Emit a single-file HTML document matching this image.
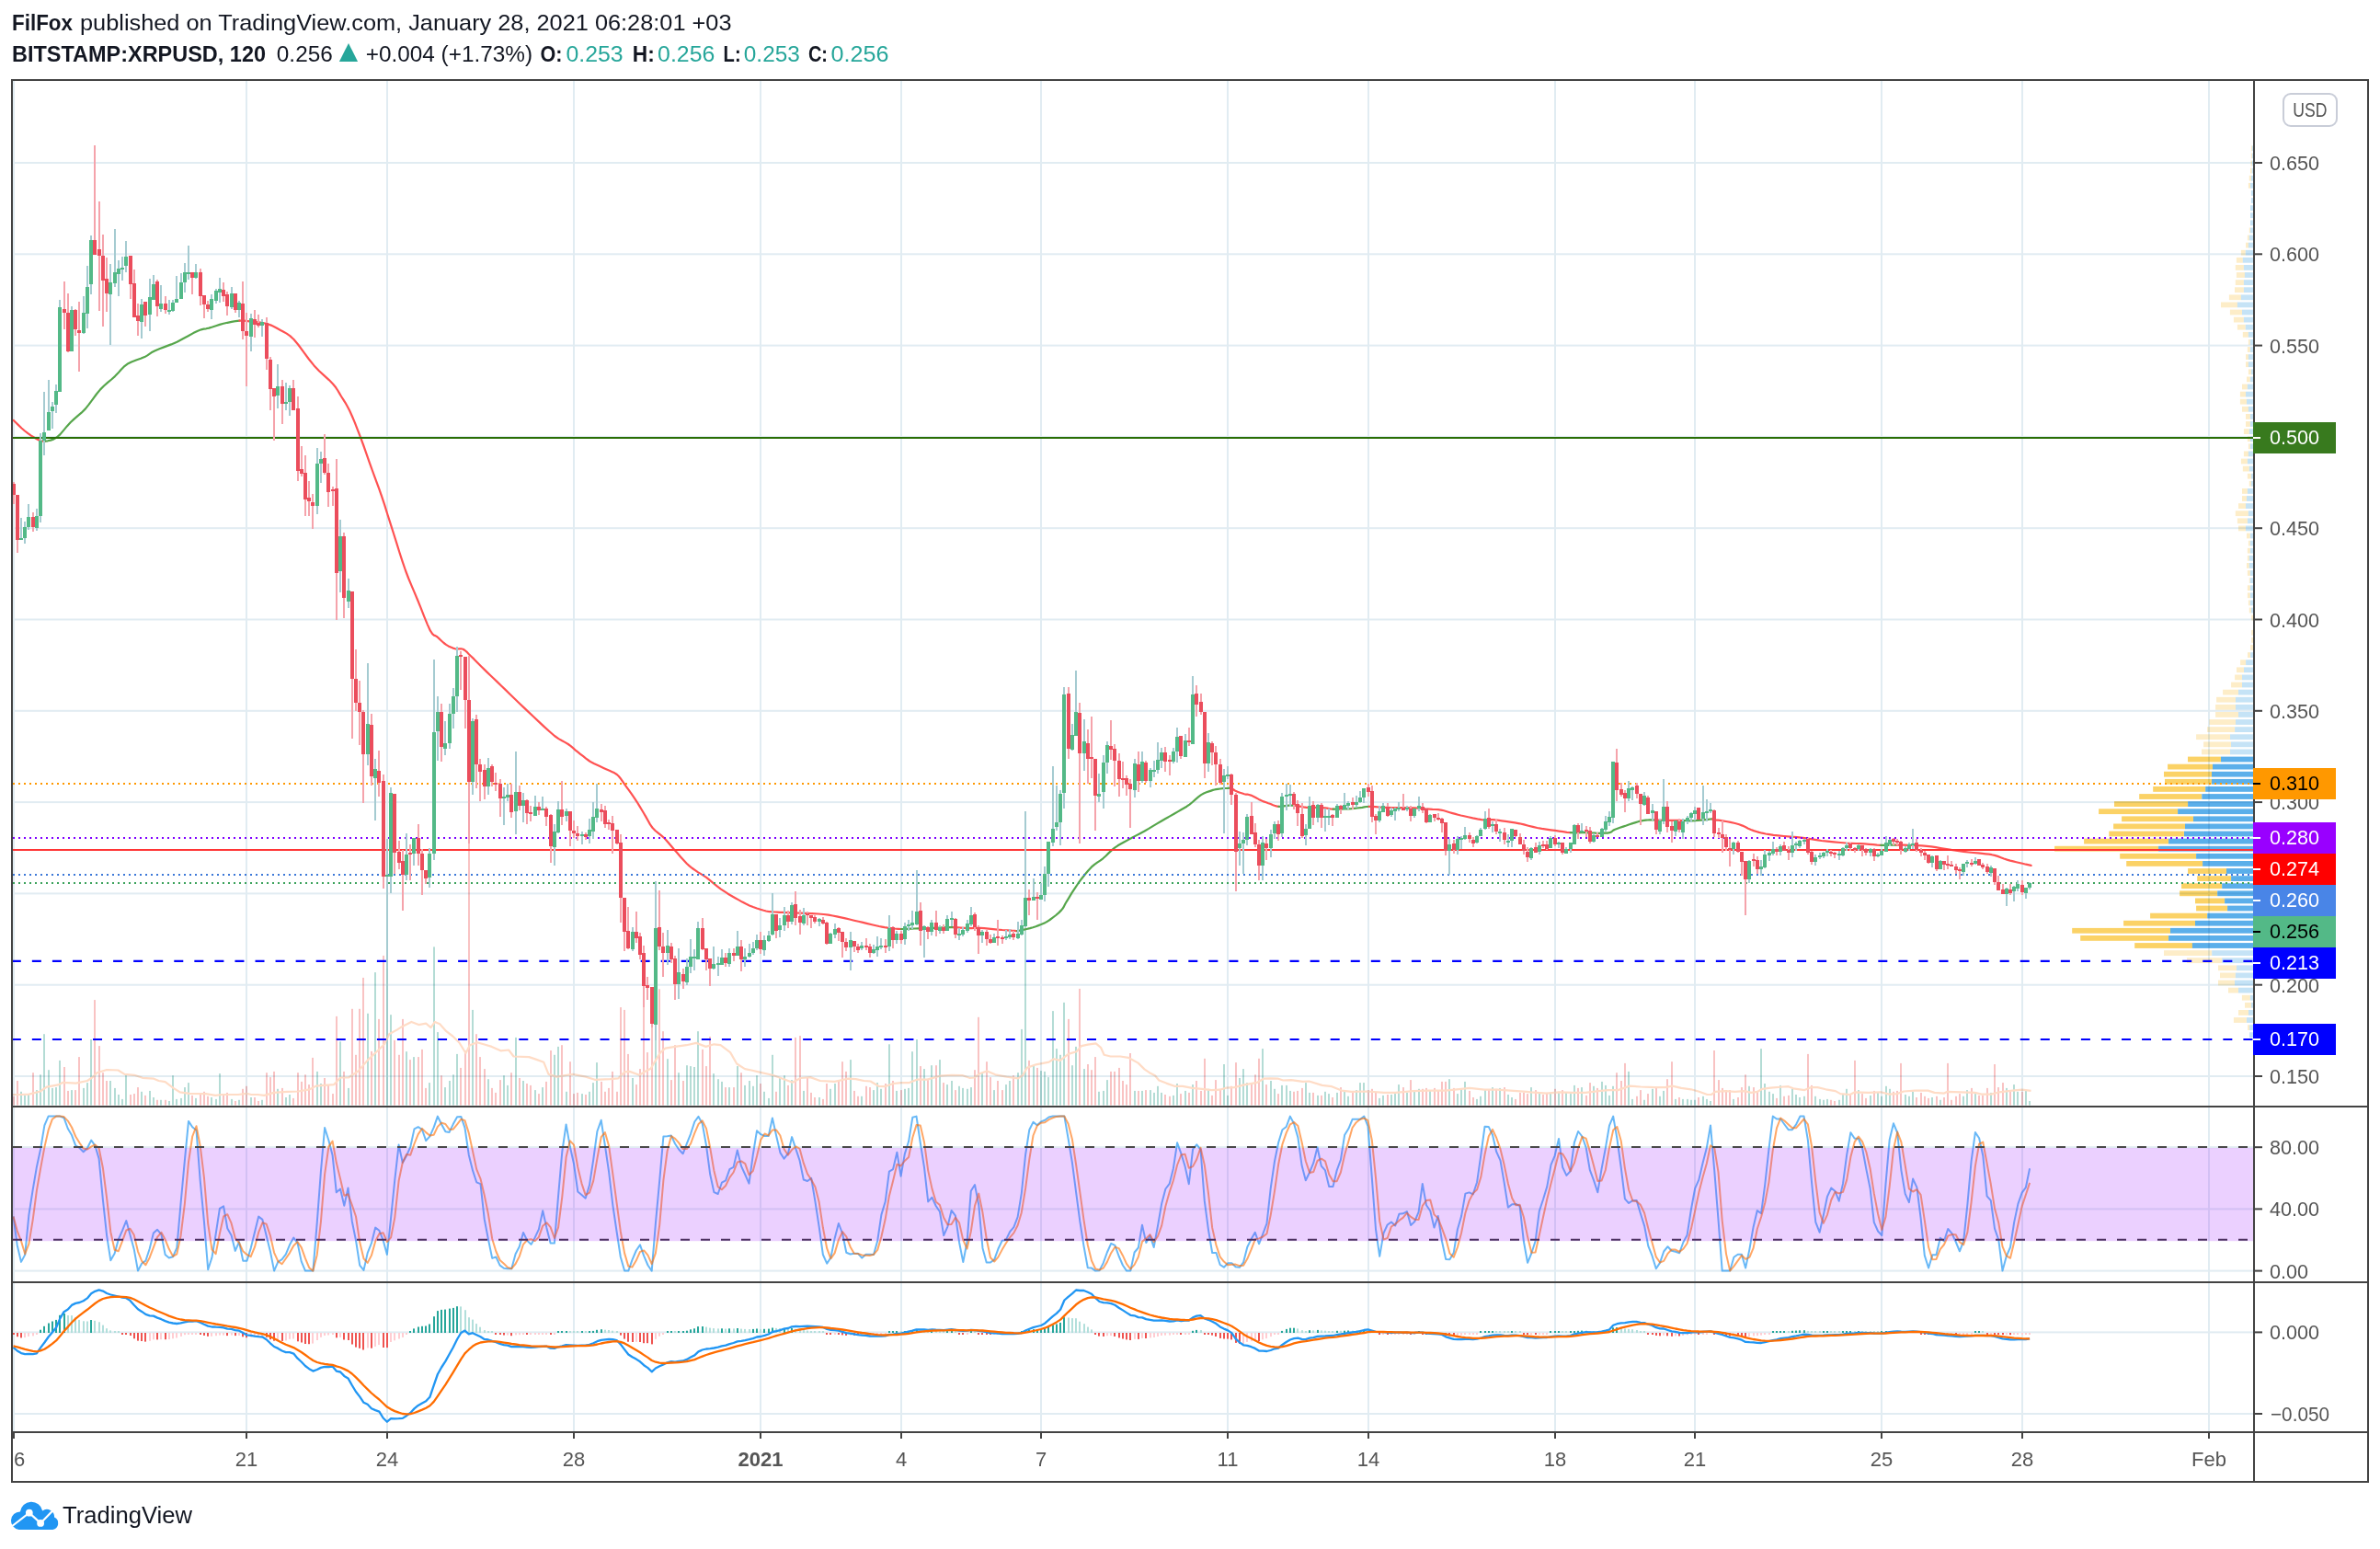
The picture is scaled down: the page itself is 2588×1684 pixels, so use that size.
<!DOCTYPE html>
<html><head><meta charset="utf-8"><title>XRPUSD chart</title><style>html,body{margin:0;padding:0;background:#fff;}svg{display:block;}text{font-family:"Liberation Sans", sans-serif;}</style></head><body><svg width="2588" height="1684" viewBox="0 0 2588 1684" font-family='"Liberation Sans", sans-serif' shape-rendering="auto"><rect x="0" y="0" width="2588" height="1684" fill="#fff"/>
<g fill="#E1ECF2"><rect x="14" y="88" width="2" height="1468" /><rect x="267" y="88" width="2" height="1468" /><rect x="420" y="88" width="2" height="1468" /><rect x="623" y="88" width="2" height="1468" /><rect x="826" y="88" width="2" height="1468" /><rect x="979" y="88" width="2" height="1468" /><rect x="1131" y="88" width="2" height="1468" /><rect x="1334" y="88" width="2" height="1468" /><rect x="1487" y="88" width="2" height="1468" /><rect x="1690" y="88" width="2" height="1468" /><rect x="1842" y="88" width="2" height="1468" /><rect x="2045" y="88" width="2" height="1468" /><rect x="2198" y="88" width="2" height="1468" /><rect x="2401" y="88" width="2" height="1468" /><rect x="14" y="176" width="2436" height="2" /><rect x="14" y="275.3" width="2436" height="2" /><rect x="14" y="374.6" width="2436" height="2" /><rect x="14" y="473.9" width="2436" height="2" /><rect x="14" y="573.2" width="2436" height="2" /><rect x="14" y="672.5" width="2436" height="2" /><rect x="14" y="771.8" width="2436" height="2" /><rect x="14" y="871.1" width="2436" height="2" /><rect x="14" y="970.4" width="2436" height="2" /><rect x="14" y="1069.7" width="2436" height="2" /><rect x="14" y="1169" width="2436" height="2" /><rect x="14" y="1246.2" width="2436" height="2" /><rect x="14" y="1313.4" width="2436" height="2" /><rect x="14" y="1380.6" width="2436" height="2" /><rect x="14" y="1447.4" width="2436" height="2" /><rect x="14" y="1536" width="2436" height="2" /></g>
<clipPath id="cpm"><rect x="14" y="88" width="2436" height="1114"/></clipPath>
<clipPath id="cps"><rect x="14" y="1204" width="2436" height="189"/></clipPath>
<clipPath id="cpd"><rect x="14" y="1395" width="2436" height="161"/></clipPath>
<g clip-path="url(#cpm)" style="mix-blend-mode:multiply">
<g fill="#FDEDC8"><rect x="2447.9" y="158.4" width="1.2" height="5.8"/><rect x="2447.9" y="166.5" width="1.2" height="5.8"/><rect x="2447.6" y="174.6" width="1.4" height="5.8"/><rect x="2447" y="182.7" width="1.7" height="5.8"/><rect x="2445.8" y="190.8" width="2.1" height="5.8"/><rect x="2444.9" y="198.9" width="2.1" height="5.8"/><rect x="2445.8" y="247.5" width="1.2" height="5.8"/><rect x="2443.9" y="255.6" width="1.9" height="5.8"/><rect x="2442" y="263.7" width="3" height="5.8"/><rect x="2436.9" y="271.8" width="4.9" height="5.8"/><rect x="2431.9" y="279.9" width="7" height="5.8"/><rect x="2430.8" y="288" width="9.1" height="5.8"/><rect x="2431.9" y="296.1" width="9.1" height="5.8"/><rect x="2430.8" y="304.2" width="9.1" height="5.8"/><rect x="2430" y="312.3" width="9.9" height="5.8"/><rect x="2423.9" y="320.4" width="13.1" height="5.8"/><rect x="2415" y="328.5" width="18" height="5.8"/><rect x="2424.9" y="336.6" width="13.1" height="5.8"/><rect x="2428.9" y="344.7" width="11" height="5.8"/><rect x="2432.9" y="352.8" width="8.9" height="5.8"/><rect x="2438.8" y="360.9" width="6.1" height="5.8"/><rect x="2444.9" y="369" width="1.9" height="5.8"/><rect x="2443.9" y="377.1" width="3" height="5.8"/><rect x="2442" y="385.2" width="3" height="5.8"/><rect x="2442" y="393.3" width="3" height="5.8"/><rect x="2444.9" y="401.4" width="3" height="5.8"/><rect x="2443" y="409.5" width="3.8" height="5.8"/><rect x="2438" y="417.6" width="5.9" height="5.8"/><rect x="2435.9" y="425.7" width="6.1" height="5.8"/><rect x="2435.9" y="433.8" width="7.1" height="5.8"/><rect x="2438" y="441.9" width="7" height="5.8"/><rect x="2442" y="450" width="4.9" height="5.8"/><rect x="2442" y="458.1" width="4.9" height="5.8"/><rect x="2439.9" y="466.2" width="5.9" height="5.8"/><rect x="2443.9" y="474.3" width="3" height="5.8"/><rect x="2444.9" y="482.4" width="1.9" height="5.8"/><rect x="2439.9" y="490.5" width="5.1" height="5.8"/><rect x="2436.9" y="498.6" width="7" height="5.8"/><rect x="2438.8" y="506.7" width="7" height="5.8"/><rect x="2443.9" y="514.8" width="4" height="5.8"/><rect x="2445.8" y="522.9" width="2.1" height="5.8"/><rect x="2438" y="531" width="5.9" height="5.8"/><rect x="2438" y="539.1" width="5.1" height="5.8"/><rect x="2434" y="547.2" width="8" height="5.8"/><rect x="2430.8" y="555.3" width="14.1" height="5.8"/><rect x="2432.9" y="563.4" width="11" height="5.8"/><rect x="2434" y="571.5" width="8" height="5.8"/><rect x="2443" y="579.6" width="3.8" height="5.8"/><rect x="2444.9" y="587.7" width="1.9" height="5.8"/><rect x="2443.9" y="595.8" width="3" height="5.8"/><rect x="2443.9" y="603.9" width="1.9" height="5.8"/><rect x="2443" y="612" width="2.8" height="5.8"/><rect x="2443.9" y="620.1" width="3" height="5.8"/><rect x="2445.8" y="628.2" width="1" height="5.8"/><rect x="2443.9" y="636.3" width="3" height="5.8"/><rect x="2443.9" y="644.4" width="3" height="5.8"/><rect x="2444.9" y="652.5" width="1.9" height="5.8"/><rect x="2445.8" y="660.6" width="2.1" height="5.8"/><rect x="2448.2" y="668.7" width="1.8" height="5.8"/><rect x="2448.2" y="684.9" width="1.8" height="5.8"/><rect x="2448.2" y="693" width="1.8" height="5.8"/><rect x="2447.1" y="701.1" width="2.9" height="5.8"/><rect x="2444" y="709.2" width="3.1" height="5.8"/><rect x="2436.1" y="717.3" width="6" height="5.8"/><rect x="2432" y="725.4" width="8" height="5.8"/><rect x="2430.1" y="733.5" width="8" height="5.8"/><rect x="2426.1" y="741.6" width="11.9" height="5.8"/><rect x="2417.1" y="749.7" width="16.9" height="5.8"/><rect x="2410.1" y="757.8" width="21" height="5.8"/><rect x="2409.1" y="765.9" width="22" height="5.8"/><rect x="2409.1" y="774" width="24.9" height="5.8"/><rect x="2402.3" y="782.1" width="28.7" height="5.8"/><rect x="2400.1" y="790.2" width="29.9" height="5.8"/><rect x="2388.1" y="798.3" width="36.9" height="5.8"/><rect x="2396.1" y="806.4" width="29.9" height="5.8"/><rect x="2394" y="814.5" width="31" height="5.8"/><rect x="2353" y="1033.2" width="52.2" height="5.8"/><rect x="2378" y="1041.3" width="38.2" height="5.8"/><rect x="2412" y="1049.4" width="20" height="5.8"/><rect x="2414" y="1057.5" width="16.9" height="5.8"/><rect x="2412" y="1065.6" width="18" height="5.8"/><rect x="2423" y="1073.7" width="11" height="5.8"/><rect x="2437.9" y="1081.8" width="9" height="5.8"/><rect x="2441" y="1089.9" width="7" height="5.8"/><rect x="2434" y="1098" width="11" height="5.8"/><rect x="2428.9" y="1106.1" width="14" height="5.8"/><rect x="2444.1" y="1114.2" width="2" height="5.8"/></g>
<g fill="#C5E3F6"><rect x="2449.1" y="158.4" width="0.9" height="5.8"/><rect x="2449.1" y="166.5" width="0.9" height="5.8"/><rect x="2449" y="174.6" width="1" height="5.8"/><rect x="2448.8" y="182.7" width="1.2" height="5.8"/><rect x="2447.9" y="190.8" width="2.1" height="5.8"/><rect x="2447" y="198.9" width="3" height="5.8"/><rect x="2447.9" y="207" width="2.1" height="5.8"/><rect x="2447.9" y="215.1" width="2.1" height="5.8"/><rect x="2447" y="223.2" width="3" height="5.8"/><rect x="2447" y="231.3" width="3" height="5.8"/><rect x="2447" y="239.4" width="3" height="5.8"/><rect x="2447" y="247.5" width="3" height="5.8"/><rect x="2445.8" y="255.6" width="4.2" height="5.8"/><rect x="2444.9" y="263.7" width="5.1" height="5.8"/><rect x="2441.8" y="271.8" width="8.2" height="5.8"/><rect x="2438.8" y="279.9" width="11.2" height="5.8"/><rect x="2439.9" y="288" width="10.1" height="5.8"/><rect x="2440.9" y="296.1" width="9.1" height="5.8"/><rect x="2439.9" y="304.2" width="10.1" height="5.8"/><rect x="2439.9" y="312.3" width="10.1" height="5.8"/><rect x="2436.9" y="320.4" width="13.1" height="5.8"/><rect x="2432.9" y="328.5" width="17.1" height="5.8"/><rect x="2438" y="336.6" width="12" height="5.8"/><rect x="2439.9" y="344.7" width="10.1" height="5.8"/><rect x="2441.8" y="352.8" width="8.2" height="5.8"/><rect x="2444.9" y="360.9" width="5.1" height="5.8"/><rect x="2446.9" y="369" width="3.1" height="5.8"/><rect x="2446.9" y="377.1" width="3.1" height="5.8"/><rect x="2444.9" y="385.2" width="5.1" height="5.8"/><rect x="2444.9" y="393.3" width="5.1" height="5.8"/><rect x="2447.9" y="401.4" width="2.1" height="5.8"/><rect x="2446.9" y="409.5" width="3.1" height="5.8"/><rect x="2443.9" y="417.6" width="6.1" height="5.8"/><rect x="2442" y="425.7" width="8" height="5.8"/><rect x="2443" y="433.8" width="7" height="5.8"/><rect x="2444.9" y="441.9" width="5.1" height="5.8"/><rect x="2446.9" y="450" width="3.1" height="5.8"/><rect x="2446.9" y="458.1" width="3.1" height="5.8"/><rect x="2445.8" y="466.2" width="4.2" height="5.8"/><rect x="2446.9" y="474.3" width="3.1" height="5.8"/><rect x="2446.9" y="482.4" width="3.1" height="5.8"/><rect x="2444.9" y="490.5" width="5.1" height="5.8"/><rect x="2443.9" y="498.6" width="6.1" height="5.8"/><rect x="2445.8" y="506.7" width="4.2" height="5.8"/><rect x="2447.9" y="514.8" width="2.1" height="5.8"/><rect x="2447.9" y="522.9" width="2.1" height="5.8"/><rect x="2443.9" y="531" width="6.1" height="5.8"/><rect x="2443" y="539.1" width="7" height="5.8"/><rect x="2442" y="547.2" width="8" height="5.8"/><rect x="2444.9" y="555.3" width="5.1" height="5.8"/><rect x="2443.9" y="563.4" width="6.1" height="5.8"/><rect x="2442" y="571.5" width="8" height="5.8"/><rect x="2446.9" y="579.6" width="3.1" height="5.8"/><rect x="2446.9" y="587.7" width="3.1" height="5.8"/><rect x="2446.9" y="595.8" width="3.1" height="5.8"/><rect x="2445.8" y="603.9" width="4.2" height="5.8"/><rect x="2445.8" y="612" width="4.2" height="5.8"/><rect x="2446.9" y="620.1" width="3.1" height="5.8"/><rect x="2446.9" y="628.2" width="3.1" height="5.8"/><rect x="2446.9" y="636.3" width="3.1" height="5.8"/><rect x="2446.9" y="644.4" width="3.1" height="5.8"/><rect x="2446.9" y="652.5" width="3.1" height="5.8"/><rect x="2447.9" y="660.6" width="2.1" height="5.8"/><rect x="2447.1" y="709.2" width="2.9" height="5.8"/><rect x="2442.1" y="717.3" width="7.9" height="5.8"/><rect x="2440" y="725.4" width="10" height="5.8"/><rect x="2438" y="733.5" width="12" height="5.8"/><rect x="2438" y="741.6" width="12" height="5.8"/><rect x="2434" y="749.7" width="16" height="5.8"/><rect x="2431" y="757.8" width="19" height="5.8"/><rect x="2431" y="765.9" width="19" height="5.8"/><rect x="2434" y="774" width="16" height="5.8"/><rect x="2431" y="782.1" width="19" height="5.8"/><rect x="2430.1" y="790.2" width="19.9" height="5.8"/><rect x="2425" y="798.3" width="25" height="5.8"/><rect x="2426" y="806.4" width="24" height="5.8"/><rect x="2425" y="814.5" width="25" height="5.8"/><rect x="2405.2" y="1033.2" width="44.8" height="5.8"/><rect x="2416.2" y="1041.3" width="33.8" height="5.8"/><rect x="2432" y="1049.4" width="18" height="5.8"/><rect x="2430.9" y="1057.5" width="19.1" height="5.8"/><rect x="2430" y="1065.6" width="20" height="5.8"/><rect x="2434" y="1073.7" width="16" height="5.8"/><rect x="2446.9" y="1081.8" width="3.1" height="5.8"/><rect x="2448" y="1089.9" width="2" height="5.8"/><rect x="2445" y="1098" width="5" height="5.8"/><rect x="2443" y="1106.1" width="7" height="5.8"/><rect x="2446.1" y="1114.2" width="3.9" height="5.8"/><rect x="2446.1" y="1122.3" width="3.9" height="5.8"/></g>
<g fill="#FBD266"><rect x="2379" y="822.6" width="36" height="5.8"/><rect x="2357.1" y="830.7" width="49" height="5.8"/><rect x="2353" y="838.8" width="52" height="5.8"/><rect x="2354" y="846.9" width="51" height="5.8"/><rect x="2341.2" y="855" width="57.1" height="5.8"/><rect x="2326.2" y="863.1" width="68" height="5.8"/><rect x="2299" y="871.2" width="80.1" height="5.8"/><rect x="2282.1" y="879.3" width="86" height="5.8"/><rect x="2307.1" y="887.4" width="77.9" height="5.8"/><rect x="2298.1" y="895.5" width="77.9" height="5.8"/><rect x="2293.3" y="903.6" width="81.6" height="5.8"/><rect x="2266.1" y="911.7" width="91.9" height="5.8"/><rect x="2234.1" y="919.8" width="113" height="5.8"/><rect x="2305.2" y="927.9" width="82.9" height="5.8"/><rect x="2312.2" y="936" width="82.9" height="5.8"/><rect x="2379.1" y="944.1" width="41.9" height="5.8"/><rect x="2389.2" y="952.2" width="36.9" height="5.8"/><rect x="2372.1" y="960.3" width="44.1" height="5.8"/><rect x="2370.1" y="968.4" width="41" height="5.8"/><rect x="2387" y="976.5" width="32" height="5.8"/><rect x="2388.1" y="984.6" width="34" height="5.8"/><rect x="2338.1" y="992.7" width="62.1" height="5.8"/><rect x="2309.1" y="1000.8" width="77.9" height="5.8"/><rect x="2253.2" y="1008.9" width="106.9" height="5.8"/><rect x="2262.2" y="1017" width="95.9" height="5.8"/><rect x="2321.2" y="1025.1" width="62.8" height="5.8"/></g>
<g fill="#5BAFEA"><rect x="2415" y="822.6" width="35" height="5.8"/><rect x="2406" y="830.7" width="44" height="5.8"/><rect x="2405" y="838.8" width="45" height="5.8"/><rect x="2405" y="846.9" width="45" height="5.8"/><rect x="2398.2" y="855" width="51.8" height="5.8"/><rect x="2394.3" y="863.1" width="55.7" height="5.8"/><rect x="2379.1" y="871.2" width="70.9" height="5.8"/><rect x="2368.1" y="879.3" width="81.9" height="5.8"/><rect x="2385" y="887.4" width="65" height="5.8"/><rect x="2376" y="895.5" width="74" height="5.8"/><rect x="2375" y="903.6" width="75" height="5.8"/><rect x="2358.1" y="911.7" width="91.9" height="5.8"/><rect x="2347.1" y="919.8" width="102.9" height="5.8"/><rect x="2388.1" y="927.9" width="61.9" height="5.8"/><rect x="2395.1" y="936" width="54.9" height="5.8"/><rect x="2421" y="944.1" width="29" height="5.8"/><rect x="2426.1" y="952.2" width="23.9" height="5.8"/><rect x="2416.2" y="960.3" width="33.8" height="5.8"/><rect x="2411.2" y="968.4" width="38.8" height="5.8"/><rect x="2419.1" y="976.5" width="30.9" height="5.8"/><rect x="2422.1" y="984.6" width="27.9" height="5.8"/><rect x="2400.2" y="992.7" width="49.8" height="5.8"/><rect x="2387" y="1000.8" width="63" height="5.8"/><rect x="2360" y="1008.9" width="90" height="5.8"/><rect x="2358.1" y="1017" width="91.9" height="5.8"/><rect x="2383.9" y="1025.1" width="66.1" height="5.8"/></g>
</g>
<g clip-path="url(#cpm)" style="mix-blend-mode:multiply">
<g fill="#B4DCD5"><rect x="22" y="1186.8" width="2" height="14.7"/><rect x="26" y="1190.9" width="2" height="10.6"/><rect x="30" y="1190" width="2" height="11.5"/><rect x="39" y="1185.1" width="2" height="16.4"/><rect x="43" y="1168.3" width="2" height="33.2"/><rect x="47" y="1124.2" width="2" height="77.3"/><rect x="52" y="1163.2" width="2" height="38.3"/><rect x="56" y="1182.9" width="2" height="18.6"/><rect x="60" y="1182.1" width="2" height="19.4"/><rect x="64" y="1152.9" width="2" height="48.6"/><rect x="77" y="1185.1" width="2" height="16.4"/><rect x="90" y="1182.9" width="2" height="18.6"/><rect x="94" y="1177.1" width="2" height="24.4"/><rect x="98" y="1130" width="2" height="71.5"/><rect x="119" y="1175" width="2" height="26.5"/><rect x="124" y="1182.9" width="2" height="18.6"/><rect x="128" y="1190" width="2" height="11.5"/><rect x="132" y="1194.9" width="2" height="6.6"/><rect x="136" y="1168.3" width="2" height="33.2"/><rect x="153" y="1186.8" width="2" height="14.7"/><rect x="162" y="1185.9" width="2" height="15.6"/><rect x="166" y="1193" width="2" height="8.5"/><rect x="174" y="1195.8" width="2" height="5.7"/><rect x="183" y="1197" width="2" height="4.5"/><rect x="187" y="1169.2" width="2" height="32.3"/><rect x="191" y="1194.9" width="2" height="6.6"/><rect x="196" y="1193.9" width="2" height="7.6"/><rect x="200" y="1182.1" width="2" height="19.4"/><rect x="204" y="1177.1" width="2" height="24.4"/><rect x="212" y="1193.9" width="2" height="7.6"/><rect x="229" y="1193" width="2" height="8.5"/><rect x="234" y="1194.9" width="2" height="6.6"/><rect x="238" y="1167.1" width="2" height="34.4"/><rect x="251" y="1194.9" width="2" height="6.6"/><rect x="259" y="1195.8" width="2" height="5.7"/><rect x="272" y="1193" width="2" height="8.5"/><rect x="284" y="1195.8" width="2" height="5.7"/><rect x="301" y="1183.8" width="2" height="17.7"/><rect x="310" y="1193" width="2" height="8.5"/><rect x="314" y="1190" width="2" height="11.5"/><rect x="344" y="1164.9" width="2" height="36.6"/><rect x="348" y="1178" width="2" height="23.5"/><rect x="369" y="1132.3" width="2" height="69.2"/><rect x="378" y="1182.9" width="2" height="18.6"/><rect x="399" y="1101.8" width="2" height="99.7"/><rect x="407" y="1057.1" width="2" height="144.4"/><rect x="420" y="934.1" width="2" height="267.4"/><rect x="424" y="1103.2" width="2" height="98.3"/><rect x="441" y="1143.2" width="2" height="58.3"/><rect x="449" y="1149.1" width="2" height="52.4"/><rect x="466" y="1177.1" width="2" height="24.4"/><rect x="471" y="1029.4" width="2" height="172.1"/><rect x="475" y="1122.1" width="2" height="79.4"/><rect x="483" y="1182.1" width="2" height="19.4"/><rect x="488" y="1175" width="2" height="26.5"/><rect x="492" y="1168.3" width="2" height="33.2"/><rect x="496" y="1145.9" width="2" height="55.6"/><rect x="513" y="1097.9" width="2" height="103.6"/><rect x="530" y="1173.2" width="2" height="28.3"/><rect x="547" y="1169.2" width="2" height="32.3"/><rect x="551" y="1179.9" width="2" height="21.6"/><rect x="560" y="1127.9" width="2" height="73.6"/><rect x="568" y="1175" width="2" height="26.5"/><rect x="581" y="1185.1" width="2" height="16.4"/><rect x="589" y="1182.1" width="2" height="19.4"/><rect x="602" y="1146.8" width="2" height="54.7"/><rect x="606" y="1137.9" width="2" height="63.6"/><rect x="615" y="1186.8" width="2" height="14.7"/><rect x="632" y="1189.1" width="2" height="12.4"/><rect x="640" y="1186.8" width="2" height="14.7"/><rect x="644" y="1177.1" width="2" height="24.4"/><rect x="648" y="1155.1" width="2" height="46.4"/><rect x="687" y="1172" width="2" height="29.5"/><rect x="712" y="1075.3" width="2" height="126.2"/><rect x="725" y="1151.2" width="2" height="50.3"/><rect x="737" y="1166.2" width="2" height="35.3"/><rect x="746" y="1158.2" width="2" height="43.3"/><rect x="750" y="1159.1" width="2" height="42.4"/><rect x="754" y="1160" width="2" height="41.5"/><rect x="758" y="1121.2" width="2" height="80.3"/><rect x="775" y="1167.1" width="2" height="34.4"/><rect x="780" y="1173.2" width="2" height="28.3"/><rect x="784" y="1175.9" width="2" height="25.6"/><rect x="792" y="1182.1" width="2" height="19.4"/><rect x="801" y="1159.1" width="2" height="42.4"/><rect x="809" y="1179.9" width="2" height="21.6"/><rect x="814" y="1175" width="2" height="26.5"/><rect x="818" y="1180.8" width="2" height="20.7"/><rect x="822" y="1169.2" width="2" height="32.3"/><rect x="830" y="1186.8" width="2" height="14.7"/><rect x="835" y="1193.9" width="2" height="7.6"/><rect x="839" y="1146.8" width="2" height="54.7"/><rect x="847" y="1171.1" width="2" height="30.4"/><rect x="852" y="1169.2" width="2" height="32.3"/><rect x="860" y="1174.1" width="2" height="27.4"/><rect x="873" y="1185.9" width="2" height="15.6"/><rect x="890" y="1193" width="2" height="8.5"/><rect x="902" y="1183.8" width="2" height="17.7"/><rect x="907" y="1178" width="2" height="23.5"/><rect x="924" y="1152.1" width="2" height="49.4"/><rect x="936" y="1191.8" width="2" height="9.7"/><rect x="949" y="1185.1" width="2" height="16.4"/><rect x="953" y="1177.1" width="2" height="24.4"/><rect x="957" y="1183.8" width="2" height="17.7"/><rect x="966" y="1135.3" width="2" height="66.2"/><rect x="974" y="1185.9" width="2" height="15.6"/><rect x="983" y="1183.8" width="2" height="17.7"/><rect x="987" y="1182.9" width="2" height="18.6"/><rect x="991" y="1143.2" width="2" height="58.3"/><rect x="996" y="1130" width="2" height="71.5"/><rect x="1004" y="1162.1" width="2" height="39.4"/><rect x="1012" y="1158.2" width="2" height="43.3"/><rect x="1021" y="1152.1" width="2" height="49.4"/><rect x="1029" y="1179.1" width="2" height="22.4"/><rect x="1034" y="1175" width="2" height="26.5"/><rect x="1042" y="1180.8" width="2" height="20.7"/><rect x="1046" y="1182.9" width="2" height="18.6"/><rect x="1051" y="1183.8" width="2" height="17.7"/><rect x="1055" y="1182.1" width="2" height="19.4"/><rect x="1067" y="1166.2" width="2" height="35.3"/><rect x="1080" y="1185.1" width="2" height="16.4"/><rect x="1093" y="1179.1" width="2" height="22.4"/><rect x="1097" y="1175" width="2" height="26.5"/><rect x="1106" y="1166.2" width="2" height="35.3"/><rect x="1110" y="1118.9" width="2" height="82.6"/><rect x="1114" y="978.2" width="2" height="223.3"/><rect x="1123" y="1158.2" width="2" height="43.3"/><rect x="1131" y="1164.1" width="2" height="37.4"/><rect x="1135" y="1164.9" width="2" height="36.6"/><rect x="1139" y="1171.1" width="2" height="30.4"/><rect x="1144" y="1099.1" width="2" height="102.4"/><rect x="1148" y="1140.1" width="2" height="61.4"/><rect x="1152" y="1146.8" width="2" height="54.7"/><rect x="1156" y="1089.9" width="2" height="111.6"/><rect x="1165" y="1158.2" width="2" height="43.3"/><rect x="1169" y="1137.9" width="2" height="63.6"/><rect x="1178" y="1162.1" width="2" height="39.4"/><rect x="1194" y="1186.8" width="2" height="14.7"/><rect x="1199" y="1185.9" width="2" height="15.6"/><rect x="1203" y="1174.1" width="2" height="27.4"/><rect x="1233" y="1185.9" width="2" height="15.6"/><rect x="1241" y="1185.9" width="2" height="15.6"/><rect x="1250" y="1185.1" width="2" height="16.4"/><rect x="1254" y="1187.9" width="2" height="13.6"/><rect x="1258" y="1180.8" width="2" height="20.7"/><rect x="1262" y="1187.9" width="2" height="13.6"/><rect x="1275" y="1190.9" width="2" height="10.6"/><rect x="1279" y="1178" width="2" height="23.5"/><rect x="1288" y="1185.9" width="2" height="15.6"/><rect x="1296" y="1179.1" width="2" height="22.4"/><rect x="1313" y="1183.8" width="2" height="17.7"/><rect x="1330" y="1157" width="2" height="44.5"/><rect x="1334" y="1190.9" width="2" height="10.6"/><rect x="1347" y="1172" width="2" height="29.5"/><rect x="1351" y="1162.1" width="2" height="39.4"/><rect x="1355" y="1177.1" width="2" height="24.4"/><rect x="1372" y="1140.1" width="2" height="61.4"/><rect x="1381" y="1175" width="2" height="26.5"/><rect x="1385" y="1183.8" width="2" height="17.7"/><rect x="1393" y="1179.9" width="2" height="21.6"/><rect x="1398" y="1179.9" width="2" height="21.6"/><rect x="1402" y="1185.9" width="2" height="15.6"/><rect x="1419" y="1177.1" width="2" height="24.4"/><rect x="1423" y="1187.9" width="2" height="13.6"/><rect x="1432" y="1190.9" width="2" height="10.6"/><rect x="1440" y="1186.8" width="2" height="14.7"/><rect x="1444" y="1189.1" width="2" height="12.4"/><rect x="1453" y="1187.9" width="2" height="13.6"/><rect x="1461" y="1185.1" width="2" height="16.4"/><rect x="1465" y="1191.8" width="2" height="9.7"/><rect x="1474" y="1185.1" width="2" height="16.4"/><rect x="1478" y="1177.1" width="2" height="24.4"/><rect x="1482" y="1177.1" width="2" height="24.4"/><rect x="1499" y="1193.9" width="2" height="7.6"/><rect x="1503" y="1190.9" width="2" height="10.6"/><rect x="1512" y="1190" width="2" height="11.5"/><rect x="1516" y="1189.1" width="2" height="12.4"/><rect x="1520" y="1179.1" width="2" height="22.4"/><rect x="1529" y="1187.9" width="2" height="13.6"/><rect x="1537" y="1185.9" width="2" height="15.6"/><rect x="1542" y="1183.8" width="2" height="17.7"/><rect x="1554" y="1185.1" width="2" height="16.4"/><rect x="1575" y="1173.2" width="2" height="28.3"/><rect x="1584" y="1189.1" width="2" height="12.4"/><rect x="1588" y="1183.8" width="2" height="17.7"/><rect x="1592" y="1175.9" width="2" height="25.6"/><rect x="1605" y="1194.9" width="2" height="6.6"/><rect x="1609" y="1191.8" width="2" height="9.7"/><rect x="1614" y="1185.1" width="2" height="16.4"/><rect x="1622" y="1182.1" width="2" height="19.4"/><rect x="1630" y="1182.9" width="2" height="18.6"/><rect x="1639" y="1190" width="2" height="11.5"/><rect x="1643" y="1193" width="2" height="8.5"/><rect x="1664" y="1182.1" width="2" height="19.4"/><rect x="1673" y="1187.9" width="2" height="13.6"/><rect x="1685" y="1187.9" width="2" height="13.6"/><rect x="1694" y="1186.8" width="2" height="14.7"/><rect x="1702" y="1187.9" width="2" height="13.6"/><rect x="1707" y="1189.1" width="2" height="12.4"/><rect x="1711" y="1179.9" width="2" height="21.6"/><rect x="1719" y="1182.1" width="2" height="19.4"/><rect x="1732" y="1180.8" width="2" height="20.7"/><rect x="1741" y="1175.9" width="2" height="25.6"/><rect x="1745" y="1179.9" width="2" height="21.6"/><rect x="1749" y="1190.9" width="2" height="10.6"/><rect x="1753" y="1180.8" width="2" height="20.7"/><rect x="1770" y="1164.9" width="2" height="36.6"/><rect x="1774" y="1194.9" width="2" height="6.6"/><rect x="1787" y="1195.8" width="2" height="5.7"/><rect x="1796" y="1183.8" width="2" height="17.7"/><rect x="1804" y="1191.8" width="2" height="9.7"/><rect x="1808" y="1185.9" width="2" height="15.6"/><rect x="1821" y="1194.9" width="2" height="6.6"/><rect x="1829" y="1194.9" width="2" height="6.6"/><rect x="1834" y="1194.9" width="2" height="6.6"/><rect x="1838" y="1195.8" width="2" height="5.7"/><rect x="1842" y="1195.8" width="2" height="5.7"/><rect x="1851" y="1191.8" width="2" height="9.7"/><rect x="1855" y="1194.9" width="2" height="6.6"/><rect x="1859" y="1197" width="2" height="4.5"/><rect x="1884" y="1194.9" width="2" height="6.6"/><rect x="1901" y="1180.8" width="2" height="20.7"/><rect x="1914" y="1140.1" width="2" height="61.4"/><rect x="1918" y="1178" width="2" height="23.5"/><rect x="1923" y="1186.8" width="2" height="14.7"/><rect x="1927" y="1189.1" width="2" height="12.4"/><rect x="1935" y="1179.9" width="2" height="21.6"/><rect x="1948" y="1183.8" width="2" height="17.7"/><rect x="1952" y="1190" width="2" height="11.5"/><rect x="1956" y="1193" width="2" height="8.5"/><rect x="1961" y="1191.8" width="2" height="9.7"/><rect x="1973" y="1191.8" width="2" height="9.7"/><rect x="1978" y="1194.9" width="2" height="6.6"/><rect x="1982" y="1195.8" width="2" height="5.7"/><rect x="1986" y="1194.9" width="2" height="6.6"/><rect x="1999" y="1195.8" width="2" height="5.7"/><rect x="2003" y="1190" width="2" height="11.5"/><rect x="2007" y="1183.8" width="2" height="17.7"/><rect x="2020" y="1185.1" width="2" height="16.4"/><rect x="2033" y="1190.9" width="2" height="10.6"/><rect x="2041" y="1187.9" width="2" height="13.6"/><rect x="2045" y="1191.8" width="2" height="9.7"/><rect x="2050" y="1180.8" width="2" height="20.7"/><rect x="2054" y="1183.8" width="2" height="17.7"/><rect x="2071" y="1190" width="2" height="11.5"/><rect x="2075" y="1191.8" width="2" height="9.7"/><rect x="2079" y="1186.8" width="2" height="14.7"/><rect x="2100" y="1193" width="2" height="8.5"/><rect x="2109" y="1195.8" width="2" height="5.7"/><rect x="2134" y="1191.8" width="2" height="9.7"/><rect x="2138" y="1185.1" width="2" height="16.4"/><rect x="2147" y="1189.1" width="2" height="12.4"/><rect x="2164" y="1187.9" width="2" height="13.6"/><rect x="2181" y="1182.9" width="2" height="18.6"/><rect x="2189" y="1179.1" width="2" height="22.4"/><rect x="2193" y="1186.8" width="2" height="14.7"/><rect x="2202" y="1185.1" width="2" height="16.4"/><rect x="2206" y="1197" width="2" height="4.5"/></g>
<g fill="#F9C3C3"><rect x="14" y="1191.8" width="2" height="9.7"/><rect x="18" y="1175" width="2" height="26.5"/><rect x="35" y="1166.2" width="2" height="35.3"/><rect x="69" y="1160" width="2" height="41.5"/><rect x="73" y="1185.9" width="2" height="15.6"/><rect x="81" y="1185.1" width="2" height="16.4"/><rect x="85" y="1149.1" width="2" height="52.4"/><rect x="102" y="1087.1" width="2" height="114.4"/><rect x="107" y="1137.1" width="2" height="64.4"/><rect x="111" y="1166.2" width="2" height="35.3"/><rect x="115" y="1175" width="2" height="26.5"/><rect x="141" y="1190" width="2" height="11.5"/><rect x="145" y="1189.1" width="2" height="12.4"/><rect x="149" y="1182.1" width="2" height="19.4"/><rect x="157" y="1190.9" width="2" height="10.6"/><rect x="170" y="1195.8" width="2" height="5.7"/><rect x="179" y="1195.8" width="2" height="5.7"/><rect x="208" y="1190.9" width="2" height="10.6"/><rect x="217" y="1190" width="2" height="11.5"/><rect x="221" y="1186.8" width="2" height="14.7"/><rect x="225" y="1191.8" width="2" height="9.7"/><rect x="242" y="1190.9" width="2" height="10.6"/><rect x="246" y="1187.9" width="2" height="13.6"/><rect x="255" y="1197" width="2" height="4.5"/><rect x="263" y="1183.8" width="2" height="17.7"/><rect x="267" y="1180.8" width="2" height="20.7"/><rect x="276" y="1193" width="2" height="8.5"/><rect x="280" y="1197" width="2" height="4.5"/><rect x="289" y="1166.2" width="2" height="35.3"/><rect x="293" y="1171.1" width="2" height="30.4"/><rect x="297" y="1164.9" width="2" height="36.6"/><rect x="306" y="1182.9" width="2" height="18.6"/><rect x="318" y="1193.9" width="2" height="7.6"/><rect x="323" y="1166.2" width="2" height="35.3"/><rect x="327" y="1175.9" width="2" height="25.6"/><rect x="331" y="1168.3" width="2" height="33.2"/><rect x="335" y="1179.1" width="2" height="22.4"/><rect x="339" y="1149.9" width="2" height="51.6"/><rect x="352" y="1172" width="2" height="29.5"/><rect x="356" y="1179.9" width="2" height="21.6"/><rect x="361" y="1189.1" width="2" height="12.4"/><rect x="365" y="1104.9" width="2" height="96.6"/><rect x="373" y="1164.9" width="2" height="36.6"/><rect x="382" y="1096.8" width="2" height="104.7"/><rect x="386" y="1146.8" width="2" height="54.7"/><rect x="390" y="1096.8" width="2" height="104.7"/><rect x="394" y="1062.9" width="2" height="138.6"/><rect x="403" y="1142.9" width="2" height="58.6"/><rect x="411" y="1107.9" width="2" height="93.6"/><rect x="416" y="1038.9" width="2" height="162.6"/><rect x="428" y="1130.9" width="2" height="70.6"/><rect x="433" y="1146.8" width="2" height="54.7"/><rect x="437" y="1107.9" width="2" height="93.6"/><rect x="445" y="1152.1" width="2" height="49.4"/><rect x="454" y="1149.1" width="2" height="52.4"/><rect x="458" y="1140.9" width="2" height="60.6"/><rect x="462" y="1182.9" width="2" height="18.6"/><rect x="479" y="1169.2" width="2" height="32.3"/><rect x="500" y="1160.9" width="2" height="40.6"/><rect x="505" y="1142.3" width="2" height="59.2"/><rect x="509" y="881.2" width="2" height="320.3"/><rect x="517" y="1124.2" width="2" height="77.3"/><rect x="521" y="1149.1" width="2" height="52.4"/><rect x="526" y="1162.1" width="2" height="39.4"/><rect x="534" y="1182.9" width="2" height="18.6"/><rect x="538" y="1187.9" width="2" height="13.6"/><rect x="543" y="1174.1" width="2" height="27.4"/><rect x="555" y="1166.2" width="2" height="35.3"/><rect x="564" y="1172" width="2" height="29.5"/><rect x="572" y="1178" width="2" height="23.5"/><rect x="576" y="1179.9" width="2" height="21.6"/><rect x="585" y="1189.1" width="2" height="12.4"/><rect x="593" y="1175.9" width="2" height="25.6"/><rect x="598" y="1142" width="2" height="59.5"/><rect x="610" y="1136.2" width="2" height="65.3"/><rect x="619" y="1154.2" width="2" height="47.3"/><rect x="623" y="1189.1" width="2" height="12.4"/><rect x="627" y="1187.9" width="2" height="13.6"/><rect x="636" y="1190" width="2" height="11.5"/><rect x="653" y="1175.9" width="2" height="25.6"/><rect x="657" y="1186.8" width="2" height="14.7"/><rect x="661" y="1182.9" width="2" height="18.6"/><rect x="665" y="1164.9" width="2" height="36.6"/><rect x="670" y="1186.8" width="2" height="14.7"/><rect x="674" y="1095.1" width="2" height="106.4"/><rect x="678" y="1097.9" width="2" height="103.6"/><rect x="682" y="1145.9" width="2" height="55.6"/><rect x="691" y="1179.1" width="2" height="22.4"/><rect x="695" y="1162.1" width="2" height="39.4"/><rect x="699" y="1084.1" width="2" height="117.4"/><rect x="703" y="1144.1" width="2" height="57.4"/><rect x="708" y="1092.9" width="2" height="108.6"/><rect x="716" y="1075.3" width="2" height="126.2"/><rect x="720" y="1121.2" width="2" height="80.3"/><rect x="729" y="1174.1" width="2" height="27.4"/><rect x="733" y="1136.2" width="2" height="65.3"/><rect x="742" y="1175" width="2" height="26.5"/><rect x="763" y="1140.9" width="2" height="60.6"/><rect x="767" y="1159.1" width="2" height="42.4"/><rect x="771" y="1127" width="2" height="74.5"/><rect x="788" y="1182.1" width="2" height="19.4"/><rect x="797" y="1182.1" width="2" height="19.4"/><rect x="805" y="1166.2" width="2" height="35.3"/><rect x="826" y="1178" width="2" height="23.5"/><rect x="843" y="1186.8" width="2" height="14.7"/><rect x="856" y="1179.9" width="2" height="21.6"/><rect x="864" y="1127.9" width="2" height="73.6"/><rect x="869" y="1126.1" width="2" height="75.4"/><rect x="877" y="1171.1" width="2" height="30.4"/><rect x="881" y="1187.9" width="2" height="13.6"/><rect x="885" y="1193" width="2" height="8.5"/><rect x="894" y="1194.9" width="2" height="6.6"/><rect x="898" y="1178" width="2" height="23.5"/><rect x="911" y="1174.1" width="2" height="27.4"/><rect x="915" y="1154.2" width="2" height="47.3"/><rect x="919" y="1164.9" width="2" height="36.6"/><rect x="928" y="1185.9" width="2" height="15.6"/><rect x="932" y="1191.8" width="2" height="9.7"/><rect x="941" y="1180.8" width="2" height="20.7"/><rect x="945" y="1182.1" width="2" height="19.4"/><rect x="962" y="1178" width="2" height="23.5"/><rect x="970" y="1175" width="2" height="26.5"/><rect x="979" y="1185.1" width="2" height="16.4"/><rect x="1000" y="1159.1" width="2" height="42.4"/><rect x="1008" y="1173.2" width="2" height="28.3"/><rect x="1017" y="1158.2" width="2" height="43.3"/><rect x="1025" y="1177.1" width="2" height="24.4"/><rect x="1038" y="1185.1" width="2" height="16.4"/><rect x="1059" y="1163.2" width="2" height="38.3"/><rect x="1063" y="1105.8" width="2" height="95.7"/><rect x="1072" y="1154.2" width="2" height="47.3"/><rect x="1076" y="1171.1" width="2" height="30.4"/><rect x="1084" y="1175" width="2" height="26.5"/><rect x="1089" y="1185.1" width="2" height="16.4"/><rect x="1101" y="1169.2" width="2" height="32.3"/><rect x="1118" y="1152.9" width="2" height="48.6"/><rect x="1127" y="1160.9" width="2" height="40.6"/><rect x="1161" y="1107.9" width="2" height="93.6"/><rect x="1173" y="1074.9" width="2" height="126.6"/><rect x="1182" y="1157" width="2" height="44.5"/><rect x="1186" y="1163.2" width="2" height="38.3"/><rect x="1190" y="1149.1" width="2" height="52.4"/><rect x="1207" y="1164.9" width="2" height="36.6"/><rect x="1211" y="1164.9" width="2" height="36.6"/><rect x="1216" y="1160.9" width="2" height="40.6"/><rect x="1220" y="1175" width="2" height="26.5"/><rect x="1224" y="1179.1" width="2" height="22.4"/><rect x="1228" y="1145" width="2" height="56.5"/><rect x="1237" y="1185.9" width="2" height="15.6"/><rect x="1245" y="1185.1" width="2" height="16.4"/><rect x="1266" y="1190" width="2" height="11.5"/><rect x="1271" y="1191.8" width="2" height="9.7"/><rect x="1283" y="1189.1" width="2" height="12.4"/><rect x="1292" y="1187.9" width="2" height="13.6"/><rect x="1300" y="1175" width="2" height="26.5"/><rect x="1305" y="1185.9" width="2" height="15.6"/><rect x="1309" y="1150.8" width="2" height="50.7"/><rect x="1317" y="1190.9" width="2" height="10.6"/><rect x="1321" y="1174.1" width="2" height="27.4"/><rect x="1326" y="1183.8" width="2" height="17.7"/><rect x="1338" y="1180.8" width="2" height="20.7"/><rect x="1343" y="1155.1" width="2" height="46.4"/><rect x="1360" y="1177.1" width="2" height="24.4"/><rect x="1364" y="1168.3" width="2" height="33.2"/><rect x="1368" y="1150.8" width="2" height="50.7"/><rect x="1376" y="1179.1" width="2" height="22.4"/><rect x="1389" y="1189.1" width="2" height="12.4"/><rect x="1406" y="1186.8" width="2" height="14.7"/><rect x="1410" y="1185.9" width="2" height="15.6"/><rect x="1415" y="1182.9" width="2" height="18.6"/><rect x="1427" y="1187.9" width="2" height="13.6"/><rect x="1436" y="1190.9" width="2" height="10.6"/><rect x="1448" y="1193" width="2" height="8.5"/><rect x="1457" y="1182.1" width="2" height="19.4"/><rect x="1470" y="1187.9" width="2" height="13.6"/><rect x="1487" y="1185.1" width="2" height="16.4"/><rect x="1491" y="1183.8" width="2" height="17.7"/><rect x="1495" y="1187.9" width="2" height="13.6"/><rect x="1508" y="1190" width="2" height="11.5"/><rect x="1525" y="1182.1" width="2" height="19.4"/><rect x="1533" y="1174.1" width="2" height="27.4"/><rect x="1546" y="1183.8" width="2" height="17.7"/><rect x="1550" y="1182.9" width="2" height="18.6"/><rect x="1559" y="1182.9" width="2" height="18.6"/><rect x="1563" y="1185.9" width="2" height="15.6"/><rect x="1567" y="1175.9" width="2" height="25.6"/><rect x="1571" y="1175.9" width="2" height="25.6"/><rect x="1580" y="1182.9" width="2" height="18.6"/><rect x="1597" y="1185.9" width="2" height="15.6"/><rect x="1601" y="1193" width="2" height="8.5"/><rect x="1618" y="1185.1" width="2" height="16.4"/><rect x="1626" y="1183.8" width="2" height="17.7"/><rect x="1635" y="1182.1" width="2" height="19.4"/><rect x="1647" y="1194.9" width="2" height="6.6"/><rect x="1652" y="1187.9" width="2" height="13.6"/><rect x="1656" y="1187.9" width="2" height="13.6"/><rect x="1660" y="1189.1" width="2" height="12.4"/><rect x="1669" y="1185.1" width="2" height="16.4"/><rect x="1677" y="1190" width="2" height="11.5"/><rect x="1681" y="1187.9" width="2" height="13.6"/><rect x="1690" y="1183.8" width="2" height="17.7"/><rect x="1698" y="1185.1" width="2" height="16.4"/><rect x="1715" y="1182.9" width="2" height="18.6"/><rect x="1724" y="1190.9" width="2" height="10.6"/><rect x="1728" y="1177.1" width="2" height="24.4"/><rect x="1736" y="1182.9" width="2" height="18.6"/><rect x="1757" y="1166.2" width="2" height="35.3"/><rect x="1762" y="1175" width="2" height="26.5"/><rect x="1766" y="1155.9" width="2" height="45.6"/><rect x="1779" y="1191.8" width="2" height="9.7"/><rect x="1783" y="1185.1" width="2" height="16.4"/><rect x="1791" y="1189.1" width="2" height="12.4"/><rect x="1800" y="1182.9" width="2" height="18.6"/><rect x="1812" y="1173.2" width="2" height="28.3"/><rect x="1817" y="1154.2" width="2" height="47.3"/><rect x="1825" y="1193" width="2" height="8.5"/><rect x="1846" y="1193" width="2" height="8.5"/><rect x="1863" y="1142" width="2" height="59.5"/><rect x="1868" y="1174.1" width="2" height="27.4"/><rect x="1872" y="1182.9" width="2" height="18.6"/><rect x="1876" y="1185.1" width="2" height="16.4"/><rect x="1880" y="1185.1" width="2" height="16.4"/><rect x="1889" y="1193" width="2" height="8.5"/><rect x="1893" y="1182.1" width="2" height="19.4"/><rect x="1897" y="1168.3" width="2" height="33.2"/><rect x="1906" y="1182.1" width="2" height="19.4"/><rect x="1910" y="1185.9" width="2" height="15.6"/><rect x="1931" y="1193.9" width="2" height="7.6"/><rect x="1939" y="1191.8" width="2" height="9.7"/><rect x="1944" y="1190.9" width="2" height="10.6"/><rect x="1965" y="1145.9" width="2" height="55.6"/><rect x="1969" y="1179.9" width="2" height="21.6"/><rect x="1990" y="1195.8" width="2" height="5.7"/><rect x="1994" y="1197" width="2" height="4.5"/><rect x="2011" y="1189.1" width="2" height="12.4"/><rect x="2016" y="1152.9" width="2" height="48.6"/><rect x="2024" y="1189.1" width="2" height="12.4"/><rect x="2028" y="1193.9" width="2" height="7.6"/><rect x="2037" y="1185.9" width="2" height="15.6"/><rect x="2058" y="1186.8" width="2" height="14.7"/><rect x="2062" y="1185.9" width="2" height="15.6"/><rect x="2066" y="1155.9" width="2" height="45.6"/><rect x="2083" y="1193" width="2" height="8.5"/><rect x="2088" y="1187.9" width="2" height="13.6"/><rect x="2092" y="1191.8" width="2" height="9.7"/><rect x="2096" y="1193.9" width="2" height="7.6"/><rect x="2105" y="1191.8" width="2" height="9.7"/><rect x="2113" y="1193" width="2" height="8.5"/><rect x="2117" y="1155.9" width="2" height="45.6"/><rect x="2121" y="1195.8" width="2" height="5.7"/><rect x="2126" y="1191.8" width="2" height="9.7"/><rect x="2130" y="1189.1" width="2" height="12.4"/><rect x="2143" y="1182.9" width="2" height="18.6"/><rect x="2151" y="1190.9" width="2" height="10.6"/><rect x="2155" y="1190.9" width="2" height="10.6"/><rect x="2160" y="1182.9" width="2" height="18.6"/><rect x="2168" y="1157" width="2" height="44.5"/><rect x="2172" y="1182.1" width="2" height="19.4"/><rect x="2177" y="1177.1" width="2" height="24.4"/><rect x="2185" y="1185.9" width="2" height="15.6"/><rect x="2198" y="1186.8" width="2" height="14.7"/></g>
<path d="M13.8 1190 L22.6 1190 L31.4 1189.6 L43.8 1186.5 L50.8 1181.7 L63.2 1179.4 L68.5 1176.8 L82.6 1177.6 L94.9 1175 L100.2 1171.5 L105.5 1166.2 L116.1 1163 L128.5 1163.5 L135.5 1167.9 L146.1 1168.8 L154.9 1171.8 L167.3 1172.7 L172.6 1175 L179.6 1176.2 L188.5 1182.9 L195.5 1187.3 L206.1 1188.8 L223.8 1189.1 L234.3 1190.9 L241.4 1190 L259 1190 L267.9 1188.8 L273.2 1190 L280.2 1190 L287.3 1190.9 L297.9 1187.9 L312 1186.8 L324.3 1186.5 L336.7 1184.3 L343.7 1180.6 L352.6 1179.9 L363.2 1179.1 L370.2 1171.5 L379 1171.5 L389.6 1164.4 L400.2 1152.1 L410.8 1142.3 L417.9 1135.3 L423.2 1124.2 L432 1119.4 L435.9 1116.8 L447.4 1110.9 L455.3 1114.1 L463.2 1112.7 L468.5 1117.1 L472.9 1110.9 L478.2 1113.2 L485.3 1121.2 L492.3 1126.5 L499.4 1133.5 L506.5 1145 L510.9 1136.2 L518.8 1133.2 L525.9 1135.3 L534.7 1137.9 L544.4 1142.3 L553.2 1141.5 L558.5 1148.5 L575.3 1149.1 L584.1 1152.1 L591.2 1154.7 L596.5 1167.9 L605.3 1170.6 L622.9 1167.9 L637 1170.6 L646.8 1173.8 L663.5 1173.2 L672.3 1172.3 L679.4 1165.3 L684.7 1164.9 L695.3 1168.8 L702.3 1164.4 L707.6 1161.8 L712.9 1152.9 L718.2 1144.1 L723.5 1139.7 L734.1 1137.9 L746.5 1136.2 L757 1133.9 L767.6 1137.9 L776.4 1135.3 L783.5 1136.2 L794.1 1144.1 L801.2 1156.5 L810 1162.1 L817 1163.5 L825.9 1165.6 L840 1168.8 L847.6 1171.5 L861.8 1176.8 L870.6 1172 L881.2 1171.1 L891.8 1175 L907.6 1175.9 L921.8 1172.7 L930.6 1173.2 L939.4 1175 L946.5 1175.5 L955.3 1180.8 L962.3 1181.2 L971.2 1178 L980 1177.1 L988.8 1177.1 L997.6 1173.6 L1008.2 1173.6 L1022.3 1169.7 L1034.7 1168.8 L1047 1169.2 L1054.1 1171.8 L1059.4 1171.5 L1066.5 1166.7 L1073.5 1164.4 L1082.3 1168.3 L1094.7 1170.6 L1107 1172.3 L1112.3 1168.8 L1116.7 1160.9 L1126.5 1157.3 L1140.6 1154.7 L1145.9 1151.2 L1152.9 1152.9 L1161.7 1145.9 L1170.6 1143.2 L1175.9 1137.1 L1182.9 1135.6 L1191.7 1134.4 L1197 1138.8 L1200.6 1146.8 L1207.6 1148.5 L1218.2 1148.5 L1227 1149.8 L1237.6 1155.6 L1244.7 1162.6 L1250 1166.2 L1255.9 1169.2 L1260.3 1174.5 L1268.2 1177.6 L1277.1 1180.8 L1285.9 1180.8 L1296.5 1182.9 L1307.1 1183.8 L1317.6 1185.1 L1326.5 1184.7 L1333.5 1182.6 L1342.3 1182.1 L1352.9 1179.4 L1367.1 1176.8 L1374.1 1172.7 L1381.2 1172.3 L1390 1172.7 L1395.3 1174.5 L1404.1 1174.1 L1416.5 1175.9 L1423.5 1175.5 L1437.6 1179.9 L1448.2 1181.2 L1458.8 1185.6 L1469.4 1186.8 L1487 1186.5 L1504.7 1187.9 L1517 1187.9 L1536.5 1186.1 L1554.1 1185.6 L1571.7 1185.6 L1584.1 1184.3 L1598.2 1182.9 L1614.1 1184.7 L1628.2 1184.7 L1642.3 1185.6 L1660 1186.8 L1664.1 1187.3 L1681.8 1188.6 L1695.9 1187.3 L1710 1187.9 L1724.1 1187.9 L1738.2 1186.1 L1748.8 1185.1 L1759.4 1185.1 L1766.5 1182.6 L1771.8 1180.6 L1784.1 1181.5 L1800 1182.1 L1810.6 1182.1 L1818.5 1180.6 L1828.2 1182.9 L1838.8 1184.3 L1847.6 1186.8 L1856.5 1190 L1860.9 1190 L1865.3 1186.8 L1875.9 1186.1 L1886.5 1186.8 L1897 1186.1 L1904.1 1187.9 L1911.2 1186.8 L1916.5 1183.8 L1925.3 1182.6 L1939.4 1181.5 L1944.7 1181.2 L1950 1183.3 L1962.3 1185.1 L1969.4 1182.1 L1976.5 1182.1 L1985.3 1184.3 L1995.9 1186.1 L2001.2 1189.1 L2011.7 1190 L2017 1187.3 L2031.2 1187.9 L2045.3 1187.3 L2054.1 1189.6 L2062.9 1189.1 L2070 1186.5 L2082.4 1185.6 L2096.5 1185.6 L2103.5 1187.9 L2114.1 1188.6 L2117.6 1186.8 L2131.8 1187.3 L2147.6 1187.9 L2154.7 1189.6 L2165.3 1189.6 L2174.1 1187.3 L2188.2 1185.6 L2198.8 1184.7 L2208.5 1185.9" fill="none" stroke="#FFDCC6" stroke-width="2.2" stroke-linejoin="round"/>
</g>
<g clip-path="url(#cpm)" fill="none" stroke-width="2.2" stroke-linejoin="round" stroke-linecap="round">
<path d="M14.6 456.9 L16.8 459 L20 462.1 L23.5 465.5 L27 468.5 L30.4 471.1 L33.9 473.6 L37.4 475.8 L40.4 477.5 L42.8 478.7 L44.7 479.4 L46.7 479.7 L49 479.6" stroke="#FF5252"/>
<path d="M49 479.6 L51.9 479.3 L55.1 478.6 L58.5 477.4 L62 475.3 L65.5 472.1 L69.1 467.9 L72.8 463.4 L76.6 459.2 L80.5 455.6 L84.5 452.2 L88.6 448.7 L92.7 444.6 L96.7 439.6 L100.8 434.1 L104.9 428.5 L108.9 423.6 L113 419.5 L117.1 415.9 L121.2 412.5 L125 409.1 L128.4 405.6 L131.5 402 L134.7 398.7 L138.4 395.8 L142.9 393.5 L148 391.5 L153 389.8 L157.3 388.1 L160.3 386.4 L162.4 384.9 L164.6 383.3 L168.1 381.5 L173.3 379.3 L179.6 376.9 L186.2 374.4 L192.5 371.7 L198.5 368.6 L204.6 365.3 L210.2 362.1 L215.1 359.7 L218.8 358.3 L221.6 357.7 L224.2 357.3 L227.3 356.6 L230.9 355.5 L234.8 354.2 L238.9 352.9 L243 351.8 L247.3 350.8 L251.8 349.9 L256.2 349.1 L260.4 348.7" stroke="#56A64B"/>
<path d="M260.4 348.7 L264.2 348.6 L267.8 348.9 L271.3 349.3 L275 349.8 L279 350.2 L283.1 350.7 L287.2 351.3 L291.1 352.3 L294.7 353.6 L298.2 355.2 L301.5 357 L305 359 L308.4 360.8 L311.7 362.6 L315.3 365.1 L319.5 369 L324.5 375 L330.1 382.6 L335.9 390.5 L341.5 397.4 L347 403.2 L352.6 408.4 L357.8 413.1 L362.1 417.5 L365.2 421.3 L367.3 424.5 L369.1 427.6 L371.1 431 L373.3 434.4 L375.5 437.8 L377.7 441.7 L380.2 446.5 L382.9 452.5 L385.8 459.4 L388.7 466.9 L391.8 474.8 L395 483.5 L398.3 492.9 L401.6 502.3 L404.7 511 L407.4 518.4 L409.8 524.9 L412.3 531.6 L415 539.4 L418.1 548.7 L421.3 559 L424.7 569.6 L428 580 L431.2 590.2 L434.4 600.5 L437.7 610.6 L440.9 620 L444.1 628.5 L447.4 636.4 L450.7 644.1 L454 652 L457.6 660.9 L461.3 670.4 L464.9 679.1 L467.9 685.7 L470.2 689.2 L471.9 690.6 L473.4 691.1 L475.3 692.3 L477.6 694.4 L480.1 696.7 L482.6 699 L485.1 700.9 L487.6 702.4 L490.1 703.6 L492.5 704.6 L494.9 705.3 L497.1 705.5 L499.3 705.4 L501.4 705.3 L503.5 705.8 L505.5 707 L507.4 708.6 L509.4 710.7 L512 713.2 L515.3 716.4 L519 720.2 L523 724.2 L526.7 727.9 L530 731.1 L533 734 L536.2 737 L540 740.6 L544.5 745 L549.6 749.9 L554.8 755 L560 760 L564.9 764.7 L569.8 769.4 L574.8 774.1 L580 779 L585.7 784.4 L591.8 790.1 L597.8 795.5 L603 800 L607.4 803.1 L611.2 805.3 L614.6 807.1 L617.8 809 L620.7 811.1 L623.1 813.2 L625.5 815.3 L628.1 817.4 L631.1 819.8 L634.2 822.2 L637.2 824.6 L639.8 826.5 L641.6 827.8 L642.9 828.6 L644.3 829.3 L646.2 830.3 L649 831.6 L652.3 833.1 L655.8 834.7 L659.1 836.2 L662.2 837.6 L665.3 838.9 L668.2 840.3 L670.8 842 L672.9 844 L674.7 846.2 L676.4 848.7 L678.5 851.7 L681.1 855.3 L684.1 859.3 L687.1 863.6 L690 867.8 L692.6 871.8 L695.1 875.9 L697.6 880 L700 884 L702.4 888.1 L704.7 892.3 L707 896.4 L709.6 900 L712.5 903 L715.7 905.6 L718.9 908.1 L722 910.8 L724.7 913.7 L727.3 916.7 L729.9 919.8 L732.8 923.2 L736.2 927 L739.8 931.3 L743.5 935.3 L746.7 938.7 L749.3 941.1 L751.4 942.9 L753.6 944.5 L756 946.2 L758.8 948.1 L761.8 949.9 L765 951.9 L768.4 954.2 L772.1 957.1 L776 960.3 L780 963.6 L783.9 966.6 L787.8 969.2 L791.6 971.7 L795.5 974 L799.4 976.2 L803.3 978.4 L807.1 980.6 L811 982.6 L814.9 984.4 L818.9 986 L823 987.5 L827 988.8 L830.4 989.8 L833.1 990.5 L835.3 990.9 L837.3 991.1 L839.7 991.3 L842.3 991.5 L845 991.6 L848 991.8 L851.5 991.9 L855.6 992.1 L860.1 992.3 L865.1 992.5 L870.4 992.7 L876.4 992.9 L883 993.2 L889.6 993.5 L895.6 994 L900.8 994.7 L905.4 995.5 L909.9 996.4 L914.5 997.4 L919.2 998.4 L924 999.5 L928.8 1000.7 L933.5 1001.8 L938.4 1002.9 L943.3 1004.1 L948.1 1005.2 L952.4 1006.2 L955.9 1007 L958.9 1007.6 L961.8 1008.2 L965 1008.7 L968.7 1009.1 L972.7 1009.5 L976.6 1009.8 L980.1 1010" stroke="#FF5252"/>
<path d="M980.1 1010 L982.7 1010 L984.9 1009.9 L987.1 1009.8 L990.2 1009.6 L994.4 1009.5 L999.2 1009.3 L1004.5 1009.2 L1010 1009 L1015.9 1008.8 L1022.2 1008.5 L1028.5 1008.2 L1034.3 1008.1 L1037 1008.2" stroke="#56A64B"/>
<path d="M1037 1008.2 L1039.5 1008.2 L1044.5 1008.6 L1049 1008.9 L1053.2 1009.1 L1056.7 1009.1 L1059.6 1008.9 L1062.5 1008.8 L1066 1008.8 L1070.3 1009.1 L1075 1009.6 L1079.9 1010.1 L1084.7 1010.6 L1089.8 1011 L1095.2 1011.3 L1100 1011.7 L1103.6 1011.9 L1105.1 1012.1 L1105.2 1012.3 L1106.1 1012.1" stroke="#FF5252"/>
<path d="M1106.1 1012.1 L1108.8 1011.6 L1112.5 1010.9 L1116.4 1010 L1120 1009.1 L1123.2 1008.2 L1126.3 1007.2 L1129.2 1006.1 L1132 1005 L1134.5 1003.9 L1136.8 1002.9 L1139 1001.7 L1141.6 1000 L1144.7 997.7 L1148.2 995 L1151.5 992.1 L1154.2 989.4 L1155.9 987.3 L1157 985.4 L1158 983.3 L1159.7 980.3 L1162.3 976.1 L1165.4 970.9 L1168.9 965.6 L1172.3 960.5 L1175.8 955.7 L1179.5 951 L1183.3 946.5 L1186.8 942.7 L1190.1 939.8 L1193.2 937.6 L1196.3 935.6 L1199.4 933.3 L1202.5 930.5 L1205.6 927.4 L1208.8 924.4 L1212.1 921.6 L1215.5 919.3 L1219 917.2 L1222.7 915.2 L1226.6 913.1 L1230.9 910.8 L1235.4 908.4 L1240 906 L1244.6 903.5 L1249.1 900.9 L1253.6 898.1 L1258.2 895.4 L1262.7 892.7 L1267.4 890 L1272.1 887.4 L1276.7 884.8 L1280.8 882.4 L1284.4 880.3 L1287.5 878.5 L1290.5 876.7 L1293.5 874.6 L1296.7 872 L1299.9 869.1 L1303.1 866.4 L1306.1 864.1 L1309 862.5 L1311.9 861.3 L1314.6 860.4 L1317 859.6 L1319 858.9 L1320.6 858.5 L1322.2 858.1 L1324.2 857.8 L1326.8 857.5 L1329.8 857.2 L1332.7 857 L1335 856.9 L1336.4 856.8 L1337.2 856.6 L1337.8 856.7 L1338.7 856.9" stroke="#56A64B"/>
<path d="M1338.7 856.9 L1339.8 857.5 L1341.1 858.3 L1342.5 859.2 L1344.1 860.1 L1346.1 860.9 L1348.5 861.8 L1350.9 862.5 L1353.1 863.2 L1354.9 863.6 L1356.5 863.7 L1358.2 864 L1360.2 864.6 L1362.8 865.8 L1365.7 867.3 L1368.7 868.9 L1371.5 870.3 L1374.1 871.4 L1376.7 872.3 L1379.2 873.2 L1381.6 874 L1383.7 874.9 L1385.7 875.7 L1387.8 876.4 L1390.4 876.8" stroke="#FF5252"/>
<path d="M1390.4 876.8 L1393.7 876.7 L1397.5 876.2 L1401.6 875.7 L1405.5 875.5 L1408 875.7" stroke="#56A64B"/>
<path d="M1408 875.7 L1409.5 875.9 L1413.6 876.6 L1417.4 877.3 L1420.7 877.8 L1423 877.9 L1424.6 877.9 L1426.1 877.8 L1428.2 877.8 L1431.1 877.9 L1434.4 878 L1437.8 878.2 L1440.8 878.4 L1443.1 878.7 L1445 879.1 L1447 879.5 L1449.7 879.7" stroke="#FF5252"/>
<path d="M1449.7 879.7 L1453.4 879.7 L1457.7 879.7 L1462.1 879.5 L1466.1 879.3 L1469.6 879.1 L1472.8 878.8 L1475.8 878.5 L1478.7 878.2 L1481.3 877.8 L1483.5 877.4 L1485.9 877 L1488.7 876.8" stroke="#56A64B"/>
<path d="M1488.7 876.8 L1492 876.9 L1495.7 877.2 L1499.7 877.5 L1503.9 877.8 L1508.5 877.9 L1513.4 878 L1518.3 878.1 L1522.8 878.2 L1526.8 878.2 L1530.5 878.2 L1534.1 878.3 L1537.9 878.4 L1542 878.7 L1546.3 879 L1550.4 879.4 L1554.3 879.7 L1557.7 879.9 L1560.8 880 L1563.8 880.2 L1566.9 880.6 L1570.1 881.3 L1573.2 882.2 L1576.4 883.2 L1579.5 884.1 L1582.5 884.9 L1585.4 885.7 L1588.5 886.5 L1592.1 887.3 L1596.5 888.3 L1601.5 889.4 L1606.6 890.4 L1611 891.1 L1614.7 891.3 L1617.9 891.3 L1620.8 891.1 L1623.6 891.1 L1625.9 891.3 L1627.8 891.5 L1629.9 891.8 L1632.9 892.3 L1637 892.9 L1642 893.6 L1647.2 894.4 L1652.3 895.3 L1657.1 896.4 L1662 897.7 L1666.8 898.9 L1671.6 900 L1676.5 900.9 L1681.5 901.6 L1686.3 902.3 L1691 902.9 L1695.4 903.6 L1699.6 904.2 L1703.8 904.8 L1707.8 905.2" stroke="#FF5252"/>
<path d="M1707.8 905.2 L1711.8 905.3 L1715.6 905.3 L1719.5 905.2 L1723.3 905.2 L1727.3 905.3 L1731.3 905.5 L1735.2 905.7 L1738.8 905.8 L1742.1 905.8 L1745.2 905.7 L1748 905.6 L1750.4 905.2 L1751.9 904.6 L1752.9 903.8 L1753.8 903 L1755.5 902 L1758.2 901 L1761.5 899.8 L1765 898.6 L1768.4 897.5 L1771.8 896.3 L1775.3 895.1 L1778.6 894.1 L1781.4 893.2 L1783.4 892.6 L1784.9 892.3 L1786.2 892.1 L1787.8 891.9 L1789.7 891.7 L1791.6 891.5 L1793.9 891.4 L1796.8 891.4 L1800 891.5" stroke="#56A64B"/>
<path d="M1800 891.5 L1800.5 891.5 L1805 891.6 L1809.5 891.8 L1813.6 891.9 L1817.1 891.9 L1820.3 891.9 L1823.4 891.9 L1826.5 891.9 L1829.7 892 L1831 892.1" stroke="#FF5252"/>
<path d="M1831 892.1 L1833 892.2 L1836.2 892.3 L1839.4 892.3 L1842.7 892.2 L1846.1 891.9 L1849.3 891.7 L1852.3 891.4 L1855 891.1 L1857.4 890.8 L1859.6 890.5 L1861.4 890.4 L1862 890.5" stroke="#56A64B"/>
<path d="M1862 890.5 L1862.7 890.5 L1863.4 890.8 L1864.2 891.1 L1865.3 891.4 L1866.7 891.6 L1868.3 891.7 L1870.3 891.9 L1873 892.3 L1876.9 893 L1881.7 893.9 L1886.7 895 L1891.1 896.2 L1894.7 897.6 L1897.9 899.1 L1901 900.7 L1904 902 L1907 903.1 L1909.8 904 L1912.7 904.9 L1916.1 905.7 L1919.9 906.5 L1923.9 907.1 L1928.4 907.8 L1933.6 908.4 L1939.8 909 L1946.9 909.6 L1954 910.2 L1960.5 910.8 L1965.9 911.6 L1970.6 912.4 L1975.3 913.2 L1980.7 914 L1987.1 914.7 L1994.2 915.4 L2001.2 916 L2007.6 916.5 L2013.2 916.8 L2018.2 917 L2023 917.2 L2027.7 917.4 L2032.3 917.8 L2036.8 918.2 L2041.1 918.6 L2045.2 918.8" stroke="#FF5252"/>
<path d="M2045.2 918.8 L2049.1 918.9 L2052.8 918.8 L2056.4 918.7 L2060 918.6 L2062 918.6" stroke="#56A64B"/>
<path d="M2062 918.6 L2063.6 918.6 L2067.1 918.6 L2070.7 918.7 L2074.8 918.8 L2079.5 918.9 L2084.6 919.1 L2089.8 919.4 L2095 919.8 L2100 920.4 L2105.1 921.2 L2110.1 922.1 L2115.1 922.9 L2120.1 923.7 L2125.2 924.5 L2130.2 925.2 L2135.3 925.9 L2140.5 926.5 L2145.8 927 L2150.9 927.4 L2155.5 927.9 L2159.3 928.3 L2162.6 928.7 L2165.7 929.2 L2168.9 929.9 L2172.3 930.9 L2175.7 932.2 L2179 933.5 L2182.4 934.6 L2185.8 935.6 L2189.1 936.4 L2192.5 937.2 L2195.8 938 L2199.3 938.8 L2203 939.7 L2206.3 940.4 L2208.6 940.9" stroke="#FF5252"/>
</g>
<g clip-path="url(#cpm)">
<rect x="14" y="475" width="2436" height="2" fill="#2A6E05"/>
<rect x="14" y="923" width="2436" height="2" fill="#FF3535"/>
<line x1="14" y1="852" x2="2450" y2="852" stroke="#FF9800" stroke-width="2" stroke-dasharray="2 4"/>
<line x1="14" y1="911" x2="2450" y2="911" stroke="#8000FF" stroke-width="2" stroke-dasharray="2 4"/>
<line x1="14" y1="951" x2="2450" y2="951" stroke="#3C78D8" stroke-width="2" stroke-dasharray="2 4"/>
<line x1="14" y1="960" x2="2450" y2="960" stroke="#3DA35D" stroke-width="2" stroke-dasharray="2 4"/>
<line x1="12.8" y1="1044.9" x2="2450" y2="1044.9" stroke="#0000FF" stroke-width="2.2" stroke-dasharray="10 12.06"/>
<line x1="12.8" y1="1130" x2="2450" y2="1130" stroke="#0000FF" stroke-width="2.2" stroke-dasharray="10 12.06"/>
</g>
<g clip-path="url(#cpm)">
<g fill="#A5CBD1"><rect x="22" y="563" width="2" height="24"/><rect x="26" y="567" width="2" height="24"/><rect x="30" y="548" width="2" height="28"/><rect x="39" y="553" width="2" height="24"/><rect x="43" y="471" width="2" height="97"/><rect x="47" y="426" width="2" height="69"/><rect x="52" y="413" width="2" height="55"/><rect x="56" y="437" width="2" height="29"/><rect x="60" y="418" width="2" height="31"/><rect x="64" y="326" width="2" height="100"/><rect x="77" y="333" width="2" height="49"/><rect x="90" y="322" width="2" height="41"/><rect x="94" y="289" width="2" height="68"/><rect x="98" y="256" width="2" height="64"/><rect x="119" y="287" width="2" height="88"/><rect x="124" y="249" width="2" height="63"/><rect x="128" y="283" width="2" height="39"/><rect x="132" y="279" width="2" height="26"/><rect x="136" y="262" width="2" height="34"/><rect x="153" y="325" width="2" height="43"/><rect x="162" y="303" width="2" height="57"/><rect x="166" y="299" width="2" height="27"/><rect x="174" y="310" width="2" height="29"/><rect x="183" y="326" width="2" height="16"/><rect x="187" y="326" width="2" height="13"/><rect x="191" y="300" width="2" height="29"/><rect x="196" y="297" width="2" height="28"/><rect x="200" y="286" width="2" height="32"/><rect x="204" y="267" width="2" height="37"/><rect x="212" y="287" width="2" height="16"/><rect x="229" y="320" width="2" height="27"/><rect x="234" y="314" width="2" height="16"/><rect x="238" y="302" width="2" height="27"/><rect x="251" y="312" width="2" height="24"/><rect x="259" y="327" width="2" height="18"/><rect x="272" y="341" width="2" height="41"/><rect x="284" y="347" width="2" height="19"/><rect x="301" y="396" width="2" height="48"/><rect x="310" y="416" width="2" height="30"/><rect x="314" y="419" width="2" height="33"/><rect x="344" y="487" width="2" height="72"/><rect x="348" y="491" width="2" height="34"/><rect x="369" y="565" width="2" height="79"/><rect x="378" y="629" width="2" height="32"/><rect x="399" y="721" width="2" height="111"/><rect x="407" y="825" width="2" height="67"/><rect x="420" y="912" width="2" height="141"/><rect x="424" y="856" width="2" height="115"/><rect x="441" y="906" width="2" height="51"/><rect x="449" y="911" width="2" height="30"/><rect x="466" y="922" width="2" height="43"/><rect x="471" y="717" width="2" height="218"/><rect x="475" y="757" width="2" height="70"/><rect x="483" y="784" width="2" height="37"/><rect x="488" y="765" width="2" height="49"/><rect x="492" y="748" width="2" height="44"/><rect x="496" y="703" width="2" height="71"/><rect x="513" y="781" width="2" height="83"/><rect x="530" y="824" width="2" height="40"/><rect x="547" y="856" width="2" height="41"/><rect x="551" y="852" width="2" height="19"/><rect x="560" y="817" width="2" height="90"/><rect x="568" y="862" width="2" height="32"/><rect x="581" y="865" width="2" height="22"/><rect x="589" y="866" width="2" height="15"/><rect x="602" y="896" width="2" height="45"/><rect x="606" y="871" width="2" height="35"/><rect x="615" y="879" width="2" height="14"/><rect x="632" y="904" width="2" height="14"/><rect x="640" y="890" width="2" height="27"/><rect x="644" y="872" width="2" height="40"/><rect x="648" y="852" width="2" height="42"/><rect x="687" y="1008" width="2" height="26"/><rect x="712" y="958" width="2" height="173"/><rect x="725" y="1011" width="2" height="38"/><rect x="737" y="1031" width="2" height="55"/><rect x="746" y="1042" width="2" height="29"/><rect x="750" y="1021" width="2" height="37"/><rect x="754" y="1032" width="2" height="23"/><rect x="758" y="1002" width="2" height="41"/><rect x="775" y="1029" width="2" height="25"/><rect x="780" y="1040" width="2" height="21"/><rect x="784" y="1032" width="2" height="17"/><rect x="792" y="1031" width="2" height="20"/><rect x="801" y="1012" width="2" height="27"/><rect x="809" y="1031" width="2" height="20"/><rect x="814" y="1026" width="2" height="15"/><rect x="818" y="1024" width="2" height="14"/><rect x="822" y="1016" width="2" height="17"/><rect x="830" y="1017" width="2" height="22"/><rect x="835" y="1012" width="2" height="12"/><rect x="839" y="971" width="2" height="46"/><rect x="847" y="998" width="2" height="21"/><rect x="852" y="986" width="2" height="26"/><rect x="860" y="981" width="2" height="24"/><rect x="873" y="987" width="2" height="19"/><rect x="890" y="998" width="2" height="9"/><rect x="902" y="1014" width="2" height="12"/><rect x="907" y="1004" width="2" height="16"/><rect x="924" y="1013" width="2" height="42"/><rect x="936" y="1024" width="2" height="9"/><rect x="949" y="1027" width="2" height="10"/><rect x="953" y="1018" width="2" height="22"/><rect x="957" y="1020" width="2" height="12"/><rect x="966" y="995" width="2" height="39"/><rect x="974" y="1012" width="2" height="14"/><rect x="983" y="1003" width="2" height="24"/><rect x="987" y="1000" width="2" height="12"/><rect x="991" y="990" width="2" height="20"/><rect x="996" y="946" width="2" height="60"/><rect x="1004" y="1006" width="2" height="35"/><rect x="1012" y="1000" width="2" height="17"/><rect x="1021" y="1006" width="2" height="9"/><rect x="1029" y="995" width="2" height="17"/><rect x="1034" y="991" width="2" height="16"/><rect x="1042" y="1009" width="2" height="13"/><rect x="1046" y="1008" width="2" height="10"/><rect x="1051" y="1000" width="2" height="14"/><rect x="1055" y="986" width="2" height="21"/><rect x="1067" y="1011" width="2" height="14"/><rect x="1080" y="1015" width="2" height="10"/><rect x="1093" y="1011" width="2" height="11"/><rect x="1097" y="1010" width="2" height="11"/><rect x="1106" y="1002" width="2" height="19"/><rect x="1110" y="1000" width="2" height="17"/><rect x="1114" y="882" width="2" height="126"/><rect x="1123" y="955" width="2" height="24"/><rect x="1131" y="960" width="2" height="18"/><rect x="1135" y="942" width="2" height="38"/><rect x="1139" y="915" width="2" height="49"/><rect x="1144" y="833" width="2" height="87"/><rect x="1148" y="854" width="2" height="49"/><rect x="1152" y="859" width="2" height="60"/><rect x="1156" y="747" width="2" height="132"/><rect x="1165" y="787" width="2" height="29"/><rect x="1169" y="729" width="2" height="71"/><rect x="1178" y="782" width="2" height="56"/><rect x="1194" y="841" width="2" height="31"/><rect x="1199" y="821" width="2" height="58"/><rect x="1203" y="806" width="2" height="35"/><rect x="1233" y="825" width="2" height="42"/><rect x="1241" y="817" width="2" height="34"/><rect x="1250" y="835" width="2" height="21"/><rect x="1254" y="827" width="2" height="18"/><rect x="1258" y="807" width="2" height="34"/><rect x="1262" y="813" width="2" height="22"/><rect x="1275" y="813" width="2" height="17"/><rect x="1279" y="791" width="2" height="38"/><rect x="1288" y="798" width="2" height="25"/><rect x="1296" y="735" width="2" height="74"/><rect x="1313" y="797" width="2" height="42"/><rect x="1330" y="836" width="2" height="70"/><rect x="1334" y="833" width="2" height="14"/><rect x="1347" y="904" width="2" height="37"/><rect x="1351" y="905" width="2" height="45"/><rect x="1355" y="885" width="2" height="34"/><rect x="1372" y="909" width="2" height="48"/><rect x="1381" y="902" width="2" height="30"/><rect x="1385" y="893" width="2" height="19"/><rect x="1393" y="862" width="2" height="48"/><rect x="1398" y="852" width="2" height="29"/><rect x="1402" y="853" width="2" height="24"/><rect x="1419" y="896" width="2" height="23"/><rect x="1423" y="866" width="2" height="35"/><rect x="1432" y="874" width="2" height="20"/><rect x="1440" y="879" width="2" height="25"/><rect x="1444" y="879" width="2" height="18"/><rect x="1453" y="874" width="2" height="15"/><rect x="1461" y="862" width="2" height="18"/><rect x="1465" y="871" width="2" height="9"/><rect x="1474" y="865" width="2" height="13"/><rect x="1478" y="860" width="2" height="13"/><rect x="1482" y="857" width="2" height="16"/><rect x="1499" y="876" width="2" height="18"/><rect x="1503" y="873" width="2" height="10"/><rect x="1512" y="878" width="2" height="10"/><rect x="1516" y="878" width="2" height="14"/><rect x="1520" y="872" width="2" height="10"/><rect x="1529" y="876" width="2" height="6"/><rect x="1537" y="879" width="2" height="10"/><rect x="1542" y="866" width="2" height="16"/><rect x="1554" y="885" width="2" height="9"/><rect x="1575" y="912" width="2" height="39"/><rect x="1584" y="909" width="2" height="20"/><rect x="1588" y="909" width="2" height="14"/><rect x="1592" y="899" width="2" height="14"/><rect x="1605" y="908" width="2" height="9"/><rect x="1609" y="900" width="2" height="9"/><rect x="1614" y="882" width="2" height="20"/><rect x="1622" y="893" width="2" height="12"/><rect x="1630" y="901" width="2" height="14"/><rect x="1639" y="907" width="2" height="14"/><rect x="1643" y="901" width="2" height="20"/><rect x="1664" y="921" width="2" height="14"/><rect x="1673" y="915" width="2" height="14"/><rect x="1685" y="909" width="2" height="13"/><rect x="1694" y="915" width="2" height="7"/><rect x="1702" y="921" width="2" height="7"/><rect x="1707" y="916" width="2" height="11"/><rect x="1711" y="896" width="2" height="22"/><rect x="1719" y="895" width="2" height="10"/><rect x="1732" y="906" width="2" height="10"/><rect x="1741" y="900" width="2" height="10"/><rect x="1745" y="887" width="2" height="17"/><rect x="1749" y="882" width="2" height="16"/><rect x="1753" y="828" width="2" height="67"/><rect x="1770" y="849" width="2" height="22"/><rect x="1774" y="855" width="2" height="15"/><rect x="1787" y="861" width="2" height="15"/><rect x="1796" y="874" width="2" height="18"/><rect x="1804" y="890" width="2" height="17"/><rect x="1808" y="847" width="2" height="49"/><rect x="1821" y="892" width="2" height="17"/><rect x="1829" y="890" width="2" height="22"/><rect x="1834" y="887" width="2" height="9"/><rect x="1838" y="883" width="2" height="11"/><rect x="1842" y="877" width="2" height="15"/><rect x="1851" y="854" width="2" height="43"/><rect x="1855" y="869" width="2" height="24"/><rect x="1859" y="873" width="2" height="11"/><rect x="1884" y="915" width="2" height="14"/><rect x="1901" y="935" width="2" height="25"/><rect x="1914" y="935" width="2" height="17"/><rect x="1918" y="924" width="2" height="20"/><rect x="1923" y="925" width="2" height="11"/><rect x="1927" y="915" width="2" height="15"/><rect x="1935" y="918" width="2" height="12"/><rect x="1948" y="904" width="2" height="28"/><rect x="1952" y="915" width="2" height="10"/><rect x="1956" y="913" width="2" height="9"/><rect x="1961" y="912" width="2" height="6"/><rect x="1973" y="929" width="2" height="12"/><rect x="1978" y="927" width="2" height="7"/><rect x="1982" y="926" width="2" height="7"/><rect x="1986" y="923" width="2" height="8"/><rect x="1999" y="925" width="2" height="10"/><rect x="2003" y="921" width="2" height="10"/><rect x="2007" y="916" width="2" height="9"/><rect x="2020" y="918" width="2" height="7"/><rect x="2033" y="922" width="2" height="9"/><rect x="2041" y="927" width="2" height="5"/><rect x="2045" y="923" width="2" height="7"/><rect x="2050" y="909" width="2" height="17"/><rect x="2054" y="912" width="2" height="8"/><rect x="2071" y="920" width="2" height="7"/><rect x="2075" y="916" width="2" height="9"/><rect x="2079" y="901" width="2" height="22"/><rect x="2100" y="930" width="2" height="13"/><rect x="2109" y="935" width="2" height="10"/><rect x="2134" y="939" width="2" height="13"/><rect x="2138" y="935" width="2" height="8"/><rect x="2147" y="932" width="2" height="8"/><rect x="2164" y="941" width="2" height="12"/><rect x="2181" y="965" width="2" height="20"/><rect x="2189" y="963" width="2" height="17"/><rect x="2193" y="957" width="2" height="12"/><rect x="2202" y="965" width="2" height="12"/><rect x="2206" y="959" width="2" height="8"/></g>
<g fill="#F5A3AB"><rect x="14" y="524" width="2" height="24"/><rect x="18" y="538" width="2" height="63"/><rect x="35" y="557" width="2" height="21"/><rect x="69" y="306" width="2" height="52"/><rect x="73" y="319" width="2" height="64"/><rect x="81" y="336" width="2" height="29"/><rect x="85" y="328" width="2" height="76"/><rect x="102" y="158" width="2" height="119"/><rect x="107" y="219" width="2" height="119"/><rect x="111" y="255" width="2" height="100"/><rect x="115" y="280" width="2" height="59"/><rect x="141" y="278" width="2" height="47"/><rect x="145" y="293" width="2" height="52"/><rect x="149" y="330" width="2" height="35"/><rect x="157" y="328" width="2" height="27"/><rect x="170" y="304" width="2" height="40"/><rect x="179" y="322" width="2" height="19"/><rect x="208" y="296" width="2" height="24"/><rect x="217" y="292" width="2" height="40"/><rect x="221" y="321" width="2" height="25"/><rect x="225" y="327" width="2" height="12"/><rect x="242" y="307" width="2" height="21"/><rect x="246" y="317" width="2" height="26"/><rect x="255" y="319" width="2" height="21"/><rect x="263" y="306" width="2" height="63"/><rect x="267" y="340" width="2" height="80"/><rect x="276" y="337" width="2" height="30"/><rect x="280" y="342" width="2" height="14"/><rect x="289" y="345" width="2" height="57"/><rect x="293" y="388" width="2" height="58"/><rect x="297" y="422" width="2" height="57"/><rect x="306" y="413" width="2" height="48"/><rect x="318" y="413" width="2" height="33"/><rect x="323" y="431" width="2" height="92"/><rect x="327" y="485" width="2" height="33"/><rect x="331" y="495" width="2" height="66"/><rect x="335" y="523" width="2" height="38"/><rect x="339" y="537" width="2" height="38"/><rect x="352" y="472" width="2" height="44"/><rect x="356" y="504" width="2" height="47"/><rect x="361" y="529" width="2" height="21"/><rect x="365" y="499" width="2" height="175"/><rect x="373" y="579" width="2" height="93"/><rect x="382" y="643" width="2" height="160"/><rect x="386" y="706" width="2" height="67"/><rect x="390" y="740" width="2" height="70"/><rect x="394" y="772" width="2" height="101"/><rect x="403" y="776" width="2" height="78"/><rect x="411" y="816" width="2" height="50"/><rect x="416" y="842" width="2" height="124"/><rect x="428" y="863" width="2" height="87"/><rect x="433" y="914" width="2" height="31"/><rect x="437" y="924" width="2" height="66"/><rect x="445" y="918" width="2" height="39"/><rect x="454" y="896" width="2" height="45"/><rect x="458" y="923" width="2" height="50"/><rect x="462" y="946" width="2" height="15"/><rect x="479" y="765" width="2" height="63"/><rect x="500" y="708" width="2" height="42"/><rect x="505" y="714" width="2" height="78"/><rect x="509" y="713" width="2" height="204"/><rect x="517" y="777" width="2" height="80"/><rect x="521" y="825" width="2" height="46"/><rect x="526" y="831" width="2" height="38"/><rect x="534" y="831" width="2" height="24"/><rect x="538" y="840" width="2" height="20"/><rect x="543" y="847" width="2" height="41"/><rect x="555" y="852" width="2" height="37"/><rect x="564" y="854" width="2" height="27"/><rect x="572" y="869" width="2" height="27"/><rect x="576" y="876" width="2" height="17"/><rect x="585" y="872" width="2" height="14"/><rect x="593" y="877" width="2" height="21"/><rect x="598" y="885" width="2" height="53"/><rect x="610" y="849" width="2" height="48"/><rect x="619" y="882" width="2" height="38"/><rect x="623" y="892" width="2" height="19"/><rect x="627" y="898" width="2" height="16"/><rect x="636" y="905" width="2" height="8"/><rect x="653" y="874" width="2" height="19"/><rect x="657" y="876" width="2" height="24"/><rect x="661" y="891" width="2" height="11"/><rect x="665" y="887" width="2" height="41"/><rect x="670" y="902" width="2" height="16"/><rect x="674" y="907" width="2" height="96"/><rect x="678" y="976" width="2" height="58"/><rect x="682" y="986" width="2" height="46"/><rect x="691" y="991" width="2" height="34"/><rect x="695" y="1014" width="2" height="29"/><rect x="699" y="1028" width="2" height="67"/><rect x="703" y="1062" width="2" height="25"/><rect x="708" y="1073" width="2" height="44"/><rect x="716" y="968" width="2" height="65"/><rect x="720" y="1014" width="2" height="48"/><rect x="729" y="1025" width="2" height="22"/><rect x="733" y="1039" width="2" height="48"/><rect x="742" y="1053" width="2" height="22"/><rect x="763" y="998" width="2" height="35"/><rect x="767" y="1031" width="2" height="24"/><rect x="771" y="1042" width="2" height="30"/><rect x="788" y="1036" width="2" height="15"/><rect x="797" y="1031" width="2" height="14"/><rect x="805" y="1022" width="2" height="34"/><rect x="826" y="1013" width="2" height="24"/><rect x="843" y="994" width="2" height="26"/><rect x="856" y="990" width="2" height="19"/><rect x="864" y="969" width="2" height="37"/><rect x="869" y="989" width="2" height="27"/><rect x="877" y="991" width="2" height="15"/><rect x="881" y="995" width="2" height="14"/><rect x="885" y="995" width="2" height="9"/><rect x="894" y="997" width="2" height="8"/><rect x="898" y="1002" width="2" height="25"/><rect x="911" y="1008" width="2" height="15"/><rect x="915" y="1013" width="2" height="28"/><rect x="919" y="1020" width="2" height="14"/><rect x="928" y="1023" width="2" height="12"/><rect x="932" y="1026" width="2" height="10"/><rect x="941" y="1020" width="2" height="13"/><rect x="945" y="1026" width="2" height="15"/><rect x="962" y="1021" width="2" height="15"/><rect x="970" y="1007" width="2" height="24"/><rect x="979" y="1012" width="2" height="14"/><rect x="1000" y="981" width="2" height="47"/><rect x="1008" y="1007" width="2" height="14"/><rect x="1017" y="990" width="2" height="28"/><rect x="1025" y="1005" width="2" height="10"/><rect x="1038" y="998" width="2" height="22"/><rect x="1059" y="992" width="2" height="20"/><rect x="1063" y="1006" width="2" height="31"/><rect x="1072" y="1011" width="2" height="17"/><rect x="1076" y="1016" width="2" height="10"/><rect x="1084" y="1000" width="2" height="28"/><rect x="1089" y="1017" width="2" height="9"/><rect x="1101" y="1012" width="2" height="10"/><rect x="1118" y="967" width="2" height="28"/><rect x="1127" y="970" width="2" height="30"/><rect x="1161" y="747" width="2" height="78"/><rect x="1173" y="764" width="2" height="153"/><rect x="1182" y="793" width="2" height="59"/><rect x="1186" y="779" width="2" height="67"/><rect x="1190" y="825" width="2" height="78"/><rect x="1207" y="783" width="2" height="43"/><rect x="1211" y="809" width="2" height="46"/><rect x="1216" y="819" width="2" height="47"/><rect x="1220" y="828" width="2" height="29"/><rect x="1224" y="843" width="2" height="22"/><rect x="1228" y="847" width="2" height="53"/><rect x="1237" y="817" width="2" height="44"/><rect x="1245" y="827" width="2" height="24"/><rect x="1266" y="812" width="2" height="27"/><rect x="1271" y="821" width="2" height="22"/><rect x="1283" y="800" width="2" height="25"/><rect x="1292" y="791" width="2" height="20"/><rect x="1300" y="745" width="2" height="34"/><rect x="1305" y="754" width="2" height="23"/><rect x="1309" y="774" width="2" height="72"/><rect x="1317" y="806" width="2" height="26"/><rect x="1321" y="811" width="2" height="43"/><rect x="1326" y="825" width="2" height="28"/><rect x="1338" y="841" width="2" height="34"/><rect x="1343" y="862" width="2" height="107"/><rect x="1360" y="872" width="2" height="35"/><rect x="1364" y="895" width="2" height="26"/><rect x="1368" y="913" width="2" height="44"/><rect x="1376" y="912" width="2" height="23"/><rect x="1389" y="892" width="2" height="22"/><rect x="1406" y="861" width="2" height="19"/><rect x="1410" y="870" width="2" height="28"/><rect x="1415" y="873" width="2" height="38"/><rect x="1427" y="871" width="2" height="26"/><rect x="1436" y="873" width="2" height="27"/><rect x="1448" y="885" width="2" height="13"/><rect x="1457" y="875" width="2" height="10"/><rect x="1470" y="867" width="2" height="13"/><rect x="1487" y="852" width="2" height="14"/><rect x="1491" y="854" width="2" height="40"/><rect x="1495" y="885" width="2" height="22"/><rect x="1508" y="873" width="2" height="15"/><rect x="1525" y="863" width="2" height="18"/><rect x="1533" y="876" width="2" height="17"/><rect x="1546" y="873" width="2" height="11"/><rect x="1550" y="878" width="2" height="17"/><rect x="1559" y="885" width="2" height="8"/><rect x="1563" y="884" width="2" height="8"/><rect x="1567" y="889" width="2" height="16"/><rect x="1571" y="894" width="2" height="36"/><rect x="1580" y="913" width="2" height="15"/><rect x="1597" y="905" width="2" height="11"/><rect x="1601" y="910" width="2" height="11"/><rect x="1618" y="879" width="2" height="22"/><rect x="1626" y="890" width="2" height="17"/><rect x="1635" y="900" width="2" height="18"/><rect x="1647" y="902" width="2" height="8"/><rect x="1652" y="906" width="2" height="12"/><rect x="1656" y="913" width="2" height="16"/><rect x="1660" y="921" width="2" height="16"/><rect x="1669" y="916" width="2" height="11"/><rect x="1677" y="914" width="2" height="8"/><rect x="1681" y="914" width="2" height="10"/><rect x="1690" y="908" width="2" height="12"/><rect x="1698" y="916" width="2" height="13"/><rect x="1715" y="895" width="2" height="17"/><rect x="1724" y="898" width="2" height="12"/><rect x="1728" y="899" width="2" height="18"/><rect x="1736" y="905" width="2" height="4"/><rect x="1757" y="814" width="2" height="57"/><rect x="1762" y="851" width="2" height="15"/><rect x="1766" y="859" width="2" height="24"/><rect x="1779" y="851" width="2" height="17"/><rect x="1783" y="863" width="2" height="34"/><rect x="1791" y="865" width="2" height="20"/><rect x="1800" y="882" width="2" height="25"/><rect x="1812" y="871" width="2" height="34"/><rect x="1817" y="893" width="2" height="23"/><rect x="1825" y="890" width="2" height="15"/><rect x="1846" y="878" width="2" height="13"/><rect x="1863" y="880" width="2" height="30"/><rect x="1868" y="900" width="2" height="11"/><rect x="1872" y="892" width="2" height="35"/><rect x="1876" y="907" width="2" height="18"/><rect x="1880" y="912" width="2" height="30"/><rect x="1889" y="914" width="2" height="13"/><rect x="1893" y="926" width="2" height="26"/><rect x="1897" y="936" width="2" height="59"/><rect x="1906" y="928" width="2" height="14"/><rect x="1910" y="931" width="2" height="19"/><rect x="1931" y="921" width="2" height="9"/><rect x="1939" y="915" width="2" height="10"/><rect x="1944" y="920" width="2" height="15"/><rect x="1965" y="911" width="2" height="18"/><rect x="1969" y="925" width="2" height="15"/><rect x="1990" y="924" width="2" height="7"/><rect x="1994" y="926" width="2" height="7"/><rect x="2011" y="916" width="2" height="9"/><rect x="2016" y="921" width="2" height="6"/><rect x="2024" y="919" width="2" height="12"/><rect x="2028" y="922" width="2" height="8"/><rect x="2037" y="922" width="2" height="14"/><rect x="2058" y="911" width="2" height="8"/><rect x="2062" y="912" width="2" height="7"/><rect x="2066" y="914" width="2" height="15"/><rect x="2083" y="912" width="2" height="14"/><rect x="2088" y="922" width="2" height="9"/><rect x="2092" y="925" width="2" height="10"/><rect x="2096" y="929" width="2" height="10"/><rect x="2105" y="930" width="2" height="17"/><rect x="2113" y="936" width="2" height="10"/><rect x="2117" y="930" width="2" height="15"/><rect x="2121" y="936" width="2" height="6"/><rect x="2126" y="939" width="2" height="11"/><rect x="2130" y="943" width="2" height="13"/><rect x="2143" y="934" width="2" height="8"/><rect x="2151" y="934" width="2" height="7"/><rect x="2155" y="938" width="2" height="7"/><rect x="2160" y="939" width="2" height="11"/><rect x="2168" y="944" width="2" height="18"/><rect x="2172" y="952" width="2" height="16"/><rect x="2177" y="961" width="2" height="11"/><rect x="2185" y="961" width="2" height="12"/><rect x="2198" y="957" width="2" height="16"/></g>
<g fill="#53B987"><rect x="21" y="585" width="4" height="2"/><rect x="25" y="573" width="4" height="12"/><rect x="29" y="562" width="4" height="11"/><rect x="38" y="561" width="4" height="13"/><rect x="42" y="479" width="4" height="82"/><rect x="46" y="470" width="4" height="9"/><rect x="51" y="448" width="4" height="20"/><rect x="55" y="442" width="4" height="5"/><rect x="59" y="425" width="4" height="15"/><rect x="63" y="334" width="4" height="92"/><rect x="76" y="337" width="4" height="45"/><rect x="89" y="340" width="4" height="22"/><rect x="93" y="312" width="4" height="29"/><rect x="97" y="261" width="4" height="48"/><rect x="118" y="307" width="4" height="13"/><rect x="123" y="296" width="4" height="12"/><rect x="127" y="292" width="4" height="6"/><rect x="131" y="291" width="4" height="2"/><rect x="135" y="279" width="4" height="10"/><rect x="152" y="331" width="4" height="19"/><rect x="161" y="323" width="4" height="19"/><rect x="165" y="309" width="4" height="17"/><rect x="173" y="330" width="4" height="6"/><rect x="182" y="337" width="4" height="2"/><rect x="186" y="329" width="4" height="9"/><rect x="190" y="325" width="4" height="4"/><rect x="195" y="307" width="4" height="18"/><rect x="199" y="296" width="4" height="11"/><rect x="203" y="296" width="4" height="2"/><rect x="211" y="296" width="4" height="6"/><rect x="228" y="325" width="4" height="12"/><rect x="233" y="316" width="4" height="11"/><rect x="237" y="314" width="4" height="4"/><rect x="250" y="319" width="4" height="15"/><rect x="258" y="329" width="4" height="8"/><rect x="271" y="346" width="4" height="20"/><rect x="283" y="350" width="4" height="4"/><rect x="300" y="420" width="4" height="10"/><rect x="309" y="437" width="4" height="2"/><rect x="313" y="422" width="4" height="15"/><rect x="343" y="504" width="4" height="46"/><rect x="347" y="499" width="4" height="5"/><rect x="368" y="583" width="4" height="38"/><rect x="377" y="642" width="4" height="12"/><rect x="398" y="787" width="4" height="33"/><rect x="406" y="836" width="4" height="10"/><rect x="419" y="951" width="4" height="2"/><rect x="423" y="862" width="4" height="91"/><rect x="440" y="929" width="4" height="22"/><rect x="448" y="911" width="4" height="17"/><rect x="465" y="928" width="4" height="26"/><rect x="470" y="796" width="4" height="132"/><rect x="474" y="774" width="4" height="21"/><rect x="482" y="808" width="4" height="6"/><rect x="487" y="776" width="4" height="32"/><rect x="491" y="757" width="4" height="19"/><rect x="495" y="713" width="4" height="44"/><rect x="512" y="784" width="4" height="66"/><rect x="529" y="835" width="4" height="20"/><rect x="546" y="866" width="4" height="2"/><rect x="550" y="864" width="4" height="3"/><rect x="559" y="861" width="4" height="21"/><rect x="567" y="870" width="4" height="6"/><rect x="580" y="877" width="4" height="10"/><rect x="588" y="879" width="4" height="2"/><rect x="601" y="904" width="4" height="17"/><rect x="605" y="880" width="4" height="25"/><rect x="614" y="882" width="4" height="5"/><rect x="631" y="907" width="4" height="2"/><rect x="639" y="902" width="4" height="7"/><rect x="643" y="888" width="4" height="16"/><rect x="647" y="879" width="4" height="10"/><rect x="686" y="1013" width="4" height="19"/><rect x="711" y="1009" width="4" height="105"/><rect x="724" y="1028" width="4" height="8"/><rect x="736" y="1057" width="4" height="13"/><rect x="745" y="1051" width="4" height="17"/><rect x="749" y="1040" width="4" height="11"/><rect x="753" y="1040" width="4" height="2"/><rect x="757" y="1009" width="4" height="34"/><rect x="774" y="1048" width="4" height="5"/><rect x="779" y="1047" width="4" height="2"/><rect x="783" y="1041" width="4" height="8"/><rect x="791" y="1036" width="4" height="12"/><rect x="800" y="1029" width="4" height="10"/><rect x="808" y="1040" width="4" height="3"/><rect x="813" y="1036" width="4" height="4"/><rect x="817" y="1031" width="4" height="5"/><rect x="821" y="1022" width="4" height="9"/><rect x="829" y="1022" width="4" height="11"/><rect x="834" y="1017" width="4" height="6"/><rect x="838" y="994" width="4" height="22"/><rect x="846" y="1006" width="4" height="5"/><rect x="851" y="995" width="4" height="11"/><rect x="859" y="984" width="4" height="18"/><rect x="872" y="995" width="4" height="9"/><rect x="889" y="999" width="4" height="3"/><rect x="901" y="1015" width="4" height="11"/><rect x="906" y="1010" width="4" height="6"/><rect x="923" y="1022" width="4" height="8"/><rect x="935" y="1028" width="4" height="3"/><rect x="948" y="1032" width="4" height="4"/><rect x="952" y="1029" width="4" height="4"/><rect x="956" y="1028" width="4" height="2"/><rect x="965" y="1009" width="4" height="20"/><rect x="973" y="1015" width="4" height="7"/><rect x="982" y="1007" width="4" height="14"/><rect x="986" y="1005" width="4" height="2"/><rect x="990" y="1003" width="4" height="3"/><rect x="995" y="991" width="4" height="14"/><rect x="1003" y="1007" width="4" height="4"/><rect x="1011" y="1003" width="4" height="10"/><rect x="1020" y="1008" width="4" height="4"/><rect x="1028" y="999" width="4" height="13"/><rect x="1033" y="998" width="4" height="2"/><rect x="1041" y="1015" width="4" height="2"/><rect x="1045" y="1011" width="4" height="5"/><rect x="1050" y="1004" width="4" height="8"/><rect x="1054" y="995" width="4" height="10"/><rect x="1066" y="1013" width="4" height="4"/><rect x="1079" y="1019" width="4" height="6"/><rect x="1092" y="1018" width="4" height="2"/><rect x="1096" y="1016" width="4" height="3"/><rect x="1105" y="1015" width="4" height="5"/><rect x="1109" y="1006" width="4" height="10"/><rect x="1113" y="976" width="4" height="31"/><rect x="1122" y="975" width="4" height="4"/><rect x="1130" y="973" width="4" height="5"/><rect x="1134" y="950" width="4" height="23"/><rect x="1138" y="915" width="4" height="35"/><rect x="1143" y="901" width="4" height="15"/><rect x="1147" y="894" width="4" height="5"/><rect x="1151" y="863" width="4" height="31"/><rect x="1155" y="755" width="4" height="107"/><rect x="1164" y="799" width="4" height="16"/><rect x="1168" y="774" width="4" height="26"/><rect x="1177" y="806" width="4" height="13"/><rect x="1193" y="863" width="4" height="3"/><rect x="1198" y="829" width="4" height="32"/><rect x="1202" y="810" width="4" height="19"/><rect x="1232" y="830" width="4" height="29"/><rect x="1240" y="828" width="4" height="21"/><rect x="1249" y="837" width="4" height="12"/><rect x="1253" y="837" width="4" height="2"/><rect x="1257" y="826" width="4" height="11"/><rect x="1261" y="818" width="4" height="9"/><rect x="1274" y="817" width="4" height="11"/><rect x="1278" y="801" width="4" height="16"/><rect x="1287" y="805" width="4" height="18"/><rect x="1295" y="755" width="4" height="54"/><rect x="1312" y="807" width="4" height="23"/><rect x="1329" y="843" width="4" height="7"/><rect x="1333" y="842" width="4" height="2"/><rect x="1346" y="917" width="4" height="5"/><rect x="1350" y="913" width="4" height="4"/><rect x="1354" y="888" width="4" height="25"/><rect x="1371" y="916" width="4" height="25"/><rect x="1380" y="907" width="4" height="15"/><rect x="1384" y="896" width="4" height="10"/><rect x="1392" y="866" width="4" height="40"/><rect x="1397" y="864" width="4" height="2"/><rect x="1401" y="863" width="4" height="2"/><rect x="1418" y="901" width="4" height="7"/><rect x="1422" y="876" width="4" height="25"/><rect x="1431" y="875" width="4" height="14"/><rect x="1439" y="887" width="4" height="2"/><rect x="1443" y="887" width="4" height="2"/><rect x="1452" y="876" width="4" height="13"/><rect x="1460" y="875" width="4" height="5"/><rect x="1464" y="873" width="4" height="3"/><rect x="1473" y="872" width="4" height="3"/><rect x="1477" y="867" width="4" height="5"/><rect x="1481" y="857" width="4" height="10"/><rect x="1498" y="882" width="4" height="10"/><rect x="1502" y="876" width="4" height="7"/><rect x="1511" y="881" width="4" height="5"/><rect x="1515" y="879" width="4" height="3"/><rect x="1519" y="878" width="4" height="2"/><rect x="1528" y="878" width="4" height="2"/><rect x="1536" y="879" width="4" height="8"/><rect x="1541" y="876" width="4" height="3"/><rect x="1553" y="886" width="4" height="8"/><rect x="1574" y="918" width="4" height="7"/><rect x="1583" y="912" width="4" height="12"/><rect x="1587" y="911" width="4" height="2"/><rect x="1591" y="908" width="4" height="4"/><rect x="1604" y="909" width="4" height="7"/><rect x="1608" y="902" width="4" height="7"/><rect x="1613" y="890" width="4" height="11"/><rect x="1621" y="896" width="4" height="2"/><rect x="1629" y="904" width="4" height="2"/><rect x="1638" y="914" width="4" height="2"/><rect x="1642" y="901" width="4" height="13"/><rect x="1663" y="922" width="4" height="11"/><rect x="1672" y="919" width="4" height="7"/><rect x="1684" y="911" width="4" height="11"/><rect x="1693" y="916" width="4" height="2"/><rect x="1701" y="923" width="4" height="5"/><rect x="1706" y="916" width="4" height="7"/><rect x="1710" y="897" width="4" height="21"/><rect x="1718" y="903" width="4" height="2"/><rect x="1731" y="908" width="4" height="7"/><rect x="1740" y="901" width="4" height="9"/><rect x="1744" y="893" width="4" height="9"/><rect x="1748" y="888" width="4" height="6"/><rect x="1752" y="828" width="4" height="61"/><rect x="1769" y="857" width="4" height="11"/><rect x="1773" y="856" width="4" height="3"/><rect x="1786" y="865" width="4" height="10"/><rect x="1795" y="881" width="4" height="3"/><rect x="1803" y="892" width="4" height="12"/><rect x="1807" y="877" width="4" height="16"/><rect x="1820" y="892" width="4" height="12"/><rect x="1828" y="893" width="4" height="12"/><rect x="1833" y="889" width="4" height="4"/><rect x="1837" y="884" width="4" height="5"/><rect x="1841" y="881" width="4" height="4"/><rect x="1850" y="883" width="4" height="7"/><rect x="1854" y="882" width="4" height="2"/><rect x="1858" y="880" width="4" height="2"/><rect x="1883" y="916" width="4" height="7"/><rect x="1900" y="936" width="4" height="20"/><rect x="1913" y="942" width="4" height="3"/><rect x="1917" y="929" width="4" height="14"/><rect x="1922" y="927" width="4" height="3"/><rect x="1926" y="923" width="4" height="5"/><rect x="1934" y="920" width="4" height="6"/><rect x="1947" y="919" width="4" height="8"/><rect x="1951" y="917" width="4" height="2"/><rect x="1955" y="914" width="4" height="6"/><rect x="1960" y="913" width="4" height="2"/><rect x="1972" y="932" width="4" height="5"/><rect x="1977" y="930" width="4" height="2"/><rect x="1981" y="927" width="4" height="4"/><rect x="1985" y="925" width="4" height="2"/><rect x="1998" y="928" width="4" height="2"/><rect x="2002" y="922" width="4" height="8"/><rect x="2006" y="919" width="4" height="3"/><rect x="2019" y="919" width="4" height="4"/><rect x="2032" y="923" width="4" height="4"/><rect x="2040" y="929" width="4" height="2"/><rect x="2044" y="925" width="4" height="5"/><rect x="2049" y="916" width="4" height="10"/><rect x="2053" y="913" width="4" height="5"/><rect x="2070" y="922" width="4" height="4"/><rect x="2074" y="918" width="4" height="5"/><rect x="2078" y="917" width="4" height="2"/><rect x="2099" y="931" width="4" height="7"/><rect x="2108" y="936" width="4" height="9"/><rect x="2133" y="939" width="4" height="9"/><rect x="2137" y="937" width="4" height="2"/><rect x="2146" y="936" width="4" height="3"/><rect x="2163" y="943" width="4" height="6"/><rect x="2180" y="966" width="4" height="6"/><rect x="2188" y="964" width="4" height="5"/><rect x="2192" y="961" width="4" height="5"/><rect x="2201" y="965" width="4" height="6"/><rect x="2205" y="960" width="4" height="5"/></g>
<g fill="#EB4D5C"><rect x="13" y="526" width="4" height="12"/><rect x="17" y="538" width="4" height="49"/><rect x="34" y="562" width="4" height="11"/><rect x="68" y="336" width="4" height="4"/><rect x="72" y="340" width="4" height="42"/><rect x="80" y="337" width="4" height="21"/><rect x="84" y="359" width="4" height="3"/><rect x="101" y="261" width="4" height="16"/><rect x="106" y="271" width="4" height="7"/><rect x="110" y="278" width="4" height="27"/><rect x="114" y="303" width="4" height="16"/><rect x="140" y="278" width="4" height="31"/><rect x="144" y="308" width="4" height="37"/><rect x="148" y="343" width="4" height="6"/><rect x="156" y="328" width="4" height="15"/><rect x="169" y="306" width="4" height="27"/><rect x="178" y="330" width="4" height="7"/><rect x="207" y="296" width="4" height="6"/><rect x="216" y="296" width="4" height="26"/><rect x="220" y="321" width="4" height="10"/><rect x="224" y="331" width="4" height="5"/><rect x="241" y="315" width="4" height="7"/><rect x="245" y="320" width="4" height="13"/><rect x="254" y="319" width="4" height="18"/><rect x="262" y="330" width="4" height="30"/><rect x="266" y="360" width="4" height="5"/><rect x="275" y="347" width="4" height="6"/><rect x="279" y="351" width="4" height="3"/><rect x="288" y="351" width="4" height="39"/><rect x="292" y="391" width="4" height="32"/><rect x="296" y="422" width="4" height="9"/><rect x="305" y="420" width="4" height="19"/><rect x="317" y="422" width="4" height="24"/><rect x="322" y="444" width="4" height="68"/><rect x="326" y="510" width="4" height="5"/><rect x="330" y="514" width="4" height="29"/><rect x="334" y="541" width="4" height="4"/><rect x="338" y="546" width="4" height="4"/><rect x="351" y="498" width="4" height="16"/><rect x="355" y="514" width="4" height="21"/><rect x="360" y="532" width="4" height="2"/><rect x="364" y="531" width="4" height="92"/><rect x="372" y="583" width="4" height="67"/><rect x="381" y="643" width="4" height="95"/><rect x="385" y="738" width="4" height="26"/><rect x="389" y="764" width="4" height="10"/><rect x="393" y="774" width="4" height="46"/><rect x="402" y="788" width="4" height="56"/><rect x="410" y="838" width="4" height="13"/><rect x="415" y="849" width="4" height="104"/><rect x="427" y="863" width="4" height="64"/><rect x="432" y="926" width="4" height="12"/><rect x="436" y="936" width="4" height="15"/><rect x="444" y="927" width="4" height="2"/><rect x="453" y="911" width="4" height="17"/><rect x="457" y="928" width="4" height="18"/><rect x="461" y="946" width="4" height="9"/><rect x="478" y="774" width="4" height="38"/><rect x="499" y="712" width="4" height="2"/><rect x="504" y="714" width="4" height="47"/><rect x="508" y="761" width="4" height="89"/><rect x="516" y="782" width="4" height="49"/><rect x="520" y="831" width="4" height="8"/><rect x="525" y="837" width="4" height="18"/><rect x="533" y="833" width="4" height="17"/><rect x="537" y="851" width="4" height="2"/><rect x="542" y="852" width="4" height="16"/><rect x="554" y="864" width="4" height="19"/><rect x="563" y="861" width="4" height="15"/><rect x="571" y="870" width="4" height="14"/><rect x="575" y="883" width="4" height="2"/><rect x="584" y="877" width="4" height="4"/><rect x="592" y="879" width="4" height="9"/><rect x="597" y="886" width="4" height="34"/><rect x="609" y="880" width="4" height="8"/><rect x="618" y="882" width="4" height="21"/><rect x="622" y="903" width="4" height="3"/><rect x="626" y="906" width="4" height="3"/><rect x="635" y="907" width="4" height="3"/><rect x="652" y="880" width="4" height="3"/><rect x="656" y="881" width="4" height="15"/><rect x="660" y="894" width="4" height="2"/><rect x="664" y="895" width="4" height="8"/><rect x="669" y="902" width="4" height="15"/><rect x="673" y="916" width="4" height="60"/><rect x="677" y="976" width="4" height="37"/><rect x="681" y="1012" width="4" height="19"/><rect x="690" y="1013" width="4" height="7"/><rect x="694" y="1018" width="4" height="20"/><rect x="698" y="1036" width="4" height="36"/><rect x="702" y="1071" width="4" height="3"/><rect x="707" y="1073" width="4" height="40"/><rect x="715" y="1008" width="4" height="21"/><rect x="719" y="1029" width="4" height="7"/><rect x="728" y="1029" width="4" height="14"/><rect x="732" y="1042" width="4" height="28"/><rect x="741" y="1059" width="4" height="8"/><rect x="762" y="1009" width="4" height="23"/><rect x="766" y="1031" width="4" height="12"/><rect x="770" y="1042" width="4" height="11"/><rect x="787" y="1041" width="4" height="6"/><rect x="796" y="1036" width="4" height="3"/><rect x="804" y="1029" width="4" height="14"/><rect x="825" y="1022" width="4" height="10"/><rect x="842" y="994" width="4" height="18"/><rect x="855" y="995" width="4" height="7"/><rect x="863" y="983" width="4" height="15"/><rect x="868" y="996" width="4" height="7"/><rect x="876" y="993" width="4" height="2"/><rect x="880" y="995" width="4" height="3"/><rect x="884" y="997" width="4" height="5"/><rect x="893" y="1000" width="4" height="4"/><rect x="897" y="1003" width="4" height="23"/><rect x="910" y="1009" width="4" height="5"/><rect x="914" y="1013" width="4" height="11"/><rect x="918" y="1024" width="4" height="6"/><rect x="927" y="1023" width="4" height="6"/><rect x="931" y="1029" width="4" height="4"/><rect x="940" y="1028" width="4" height="2"/><rect x="944" y="1029" width="4" height="7"/><rect x="961" y="1028" width="4" height="2"/><rect x="969" y="1008" width="4" height="14"/><rect x="978" y="1015" width="4" height="7"/><rect x="999" y="990" width="4" height="22"/><rect x="1007" y="1008" width="4" height="5"/><rect x="1016" y="1003" width="4" height="8"/><rect x="1024" y="1008" width="4" height="4"/><rect x="1037" y="999" width="4" height="17"/><rect x="1058" y="994" width="4" height="14"/><rect x="1062" y="1008" width="4" height="9"/><rect x="1071" y="1013" width="4" height="8"/><rect x="1075" y="1021" width="4" height="4"/><rect x="1083" y="1018" width="4" height="2"/><rect x="1088" y="1019" width="4" height="2"/><rect x="1100" y="1015" width="4" height="4"/><rect x="1117" y="976" width="4" height="3"/><rect x="1126" y="975" width="4" height="2"/><rect x="1160" y="754" width="4" height="60"/><rect x="1172" y="775" width="4" height="44"/><rect x="1181" y="808" width="4" height="17"/><rect x="1185" y="823" width="4" height="2"/><rect x="1189" y="825" width="4" height="40"/><rect x="1206" y="811" width="4" height="4"/><rect x="1210" y="814" width="4" height="13"/><rect x="1215" y="827" width="4" height="20"/><rect x="1219" y="846" width="4" height="2"/><rect x="1223" y="846" width="4" height="7"/><rect x="1227" y="852" width="4" height="6"/><rect x="1236" y="831" width="4" height="18"/><rect x="1244" y="829" width="4" height="20"/><rect x="1265" y="818" width="4" height="10"/><rect x="1270" y="826" width="4" height="2"/><rect x="1282" y="800" width="4" height="22"/><rect x="1291" y="805" width="4" height="2"/><rect x="1299" y="754" width="4" height="12"/><rect x="1304" y="763" width="4" height="11"/><rect x="1308" y="774" width="4" height="56"/><rect x="1316" y="808" width="4" height="10"/><rect x="1320" y="818" width="4" height="13"/><rect x="1325" y="831" width="4" height="20"/><rect x="1337" y="842" width="4" height="22"/><rect x="1342" y="864" width="4" height="62"/><rect x="1359" y="887" width="4" height="20"/><rect x="1363" y="905" width="4" height="13"/><rect x="1367" y="918" width="4" height="23"/><rect x="1375" y="917" width="4" height="5"/><rect x="1388" y="896" width="4" height="11"/><rect x="1405" y="863" width="4" height="12"/><rect x="1409" y="874" width="4" height="10"/><rect x="1414" y="885" width="4" height="24"/><rect x="1426" y="875" width="4" height="14"/><rect x="1435" y="875" width="4" height="14"/><rect x="1447" y="886" width="4" height="3"/><rect x="1456" y="876" width="4" height="4"/><rect x="1469" y="872" width="4" height="3"/><rect x="1486" y="856" width="4" height="5"/><rect x="1490" y="860" width="4" height="28"/><rect x="1494" y="887" width="4" height="5"/><rect x="1507" y="877" width="4" height="10"/><rect x="1524" y="878" width="4" height="3"/><rect x="1532" y="879" width="4" height="8"/><rect x="1545" y="877" width="4" height="4"/><rect x="1549" y="879" width="4" height="15"/><rect x="1558" y="885" width="4" height="4"/><rect x="1562" y="889" width="4" height="2"/><rect x="1566" y="890" width="4" height="5"/><rect x="1570" y="894" width="4" height="31"/><rect x="1579" y="917" width="4" height="7"/><rect x="1596" y="908" width="4" height="4"/><rect x="1600" y="913" width="4" height="4"/><rect x="1617" y="889" width="4" height="10"/><rect x="1625" y="896" width="4" height="8"/><rect x="1634" y="905" width="4" height="8"/><rect x="1646" y="902" width="4" height="7"/><rect x="1651" y="910" width="4" height="8"/><rect x="1655" y="918" width="4" height="7"/><rect x="1659" y="926" width="4" height="6"/><rect x="1668" y="921" width="4" height="6"/><rect x="1676" y="918" width="4" height="2"/><rect x="1680" y="918" width="4" height="5"/><rect x="1689" y="911" width="4" height="7"/><rect x="1697" y="916" width="4" height="11"/><rect x="1714" y="897" width="4" height="8"/><rect x="1723" y="902" width="4" height="2"/><rect x="1727" y="903" width="4" height="12"/><rect x="1735" y="908" width="4" height="2"/><rect x="1756" y="829" width="4" height="30"/><rect x="1761" y="858" width="4" height="6"/><rect x="1765" y="862" width="4" height="6"/><rect x="1778" y="854" width="4" height="9"/><rect x="1782" y="863" width="4" height="11"/><rect x="1790" y="867" width="4" height="18"/><rect x="1799" y="882" width="4" height="20"/><rect x="1811" y="877" width="4" height="22"/><rect x="1816" y="898" width="4" height="5"/><rect x="1824" y="893" width="4" height="9"/><rect x="1845" y="878" width="4" height="13"/><rect x="1862" y="881" width="4" height="25"/><rect x="1867" y="905" width="4" height="2"/><rect x="1871" y="907" width="4" height="4"/><rect x="1875" y="910" width="4" height="11"/><rect x="1879" y="922" width="4" height="2"/><rect x="1888" y="916" width="4" height="10"/><rect x="1892" y="926" width="4" height="11"/><rect x="1896" y="936" width="4" height="20"/><rect x="1905" y="934" width="4" height="2"/><rect x="1909" y="935" width="4" height="10"/><rect x="1930" y="923" width="4" height="3"/><rect x="1938" y="919" width="4" height="6"/><rect x="1943" y="924" width="4" height="3"/><rect x="1964" y="912" width="4" height="15"/><rect x="1968" y="926" width="4" height="11"/><rect x="1989" y="926" width="4" height="2"/><rect x="1993" y="927" width="4" height="2"/><rect x="2010" y="917" width="4" height="5"/><rect x="2015" y="922" width="4" height="2"/><rect x="2023" y="919" width="4" height="5"/><rect x="2027" y="923" width="4" height="4"/><rect x="2036" y="923" width="4" height="8"/><rect x="2057" y="912" width="4" height="3"/><rect x="2061" y="914" width="4" height="2"/><rect x="2065" y="915" width="4" height="9"/><rect x="2082" y="916" width="4" height="8"/><rect x="2087" y="924" width="4" height="3"/><rect x="2091" y="927" width="4" height="3"/><rect x="2095" y="929" width="4" height="9"/><rect x="2104" y="930" width="4" height="15"/><rect x="2112" y="936" width="4" height="4"/><rect x="2116" y="939" width="4" height="2"/><rect x="2120" y="940" width="4" height="2"/><rect x="2125" y="942" width="4" height="4"/><rect x="2129" y="945" width="4" height="2"/><rect x="2142" y="938" width="4" height="2"/><rect x="2150" y="934" width="4" height="7"/><rect x="2154" y="940" width="4" height="3"/><rect x="2159" y="942" width="4" height="6"/><rect x="2167" y="944" width="4" height="15"/><rect x="2171" y="959" width="4" height="9"/><rect x="2176" y="967" width="4" height="5"/><rect x="2184" y="967" width="4" height="4"/><rect x="2197" y="962" width="4" height="8"/></g>
</g>
<g clip-path="url(#cps)" fill="none" stroke-linejoin="round">
<path d="M14.5 1322.5 L18.7 1353.7 L23 1371.9 L27.2 1364.1 L31.4 1320.9 L35.7 1293.4 L39.9 1268.7 L44.1 1249.2 L48.4 1223.3 L52.6 1213.6 L56.8 1213.6 L61.1 1213.6 L65.3 1213.6 L69.5 1215.2 L73.8 1227 L78 1234.1 L82.2 1245.4 L86.5 1248 L90.7 1252.3 L94.9 1248.2 L99.2 1239.6 L103.4 1245.5 L107.6 1259.6 L111.9 1304.4 L116.1 1343.1 L120.3 1370.2 L124.6 1362.8 L128.8 1347.5 L133 1337.9 L137.3 1327.1 L141.5 1342.4 L145.7 1357.9 L150 1381.6 L154.2 1373.5 L158.4 1370.7 L162.7 1357.5 L166.9 1340.6 L171.1 1336.8 L175.4 1341.9 L179.6 1363.9 L183.8 1367.5 L188.1 1366.2 L192.3 1356.6 L196.5 1309 L200.8 1262.4 L205 1218.9 L209.2 1225.3 L213.5 1228.7 L217.7 1283.3 L221.9 1327.6 L226.2 1380.2 L230.4 1367.3 L234.6 1342 L238.9 1313.9 L243.1 1311.3 L247.3 1335.5 L251.6 1343 L255.8 1359.9 L260 1350.1 L264.3 1370.7 L268.5 1370.7 L272.7 1357.1 L277 1339.4 L281.2 1322.6 L285.4 1325.9 L289.7 1343.6 L293.9 1360.4 L298.1 1381.6 L302.3 1371.8 L306.6 1369.2 L310.8 1363.7 L315 1353.3 L319.3 1345.6 L323.5 1351.1 L327.7 1371.4 L332 1381.6 L336.2 1381.6 L340.4 1381.6 L344.7 1329.9 L348.9 1273.9 L353.1 1226 L357.4 1239.8 L361.6 1256.1 L365.8 1296.3 L370.1 1292.6 L374.3 1310.8 L378.5 1291.4 L382.8 1327.7 L387 1348.5 L391.2 1375.6 L395.5 1380.9 L399.7 1362.1 L403.9 1351.7 L408.2 1334.6 L412.4 1337.8 L416.6 1348.2 L420.9 1363.9 L425.1 1324.2 L429.3 1282.7 L433.6 1244.6 L437.8 1264 L442 1256.4 L446.3 1246.8 L450.5 1227.4 L454.7 1225.2 L459 1228 L463.2 1240.1 L467.4 1235.3 L471.7 1225.7 L475.9 1213.6 L480.1 1222.3 L484.4 1230.2 L488.6 1230.9 L492.8 1222.1 L497.1 1214.3 L501.3 1213.9 L505.5 1226.1 L509.8 1255.7 L514 1272.4 L518.2 1285.3 L522.5 1287.1 L526.7 1325.2 L530.9 1347.1 L535.2 1367.9 L539.4 1366.5 L543.6 1375.6 L547.9 1378.8 L552.1 1379.3 L556.3 1379.3 L560.6 1363.3 L564.8 1355.2 L569 1339.9 L573.3 1348.8 L577.5 1352.9 L581.7 1345.4 L585.9 1336.4 L590.2 1316.2 L594.4 1334.9 L598.6 1351.5 L602.9 1351.6 L607.1 1299.8 L611.3 1252 L615.6 1222.4 L619.8 1246.3 L624 1265.2 L628.3 1295.5 L632.5 1299 L636.7 1302.7 L641 1288.3 L645.2 1260.8 L649.4 1230 L653.7 1217.8 L657.9 1245.4 L662.1 1274 L666.4 1310.6 L670.6 1339 L674.8 1366.5 L679.1 1381.6 L683.3 1381.6 L687.5 1369.7 L691.8 1359.5 L696 1353.4 L700.2 1365.3 L704.5 1375.5 L708.7 1381.6 L712.9 1330.1 L717.2 1283.7 L721.4 1235.5 L725.6 1235.3 L729.9 1234.6 L734.1 1243.5 L738.3 1249.7 L742.6 1254.3 L746.8 1243.3 L751 1232.8 L755.3 1219.5 L759.5 1213.9 L763.7 1221.4 L768 1245.3 L772.2 1276.8 L776.4 1296.1 L780.7 1298 L784.9 1285.7 L789.1 1283.4 L793.4 1271.1 L797.6 1268.9 L801.8 1250.4 L806.1 1267.9 L810.3 1277 L814.5 1286.7 L818.8 1255.4 L823 1229.3 L827.2 1233.2 L831.5 1235 L835.7 1235 L839.9 1215.4 L844.2 1235 L848.4 1253.1 L852.6 1259.7 L856.9 1254.2 L861.1 1236.1 L865.3 1248.9 L869.6 1261.8 L873.8 1282.5 L878 1284 L882.2 1280.9 L886.5 1306.6 L890.7 1333.8 L894.9 1364 L899.2 1373.6 L903.4 1367.2 L907.6 1346.4 L911.9 1330 L916.1 1341 L920.3 1361.8 L924.6 1363.5 L928.8 1362.8 L933 1362.8 L937.3 1367.6 L941.5 1363.7 L945.7 1363.7 L950 1364.1 L954.2 1348.9 L958.4 1320.6 L962.7 1306.3 L966.9 1273.6 L971.1 1271.1 L975.4 1252.7 L979.6 1278.7 L983.8 1254.6 L988.1 1240.8 L992.3 1214.8 L996.5 1213.6 L1000.8 1242.5 L1005 1269.1 L1009.2 1306.4 L1013.5 1301.8 L1017.7 1311 L1021.9 1317.2 L1026.2 1343.1 L1030.4 1333.6 L1034.6 1315.9 L1038.9 1321.6 L1043.1 1350.7 L1047.3 1372.1 L1051.6 1350 L1055.8 1294.7 L1060 1288 L1064.3 1310.1 L1068.5 1356.9 L1072.7 1372.5 L1077 1372.5 L1081.2 1369.4 L1085.4 1357.8 L1089.7 1348.7 L1093.9 1347.9 L1098.1 1339.2 L1102.4 1334.1 L1106.6 1323.2 L1110.8 1297.3 L1115.1 1255.5 L1119.3 1228.2 L1123.5 1219.9 L1127.8 1223.3 L1132 1219.4 L1136.2 1217.8 L1140.5 1214.5 L1144.7 1213.6 L1148.9 1213.6 L1153.2 1213.6 L1157.4 1213.6 L1161.6 1237.9 L1165.9 1263.9 L1170.1 1296.2 L1174.3 1327.7 L1178.5 1354.6 L1182.8 1378.3 L1187 1378.6 L1191.2 1381.6 L1195.5 1381.2 L1199.7 1373.2 L1203.9 1361.5 L1208.2 1351.9 L1212.4 1353.8 L1216.6 1365.5 L1220.9 1375.5 L1225.1 1381.6 L1229.3 1381.6 L1233.6 1361.5 L1237.8 1356.5 L1242 1331.7 L1246.3 1351.1 L1250.5 1343.4 L1254.7 1356 L1259 1332.6 L1263.2 1308.5 L1267.4 1292.5 L1271.7 1286.9 L1275.9 1270.2 L1280.1 1242.3 L1284.4 1254.1 L1288.6 1268 L1292.8 1287.2 L1297.1 1249.3 L1301.3 1244.3 L1305.5 1249.7 L1309.8 1305.7 L1314 1337.1 L1318.2 1362 L1322.5 1362 L1326.7 1375 L1330.9 1377.7 L1335.2 1373.3 L1339.4 1373.3 L1343.6 1377.2 L1347.9 1377.8 L1352.1 1372.3 L1356.3 1355.7 L1360.6 1347.1 L1364.8 1339.8 L1369 1352.3 L1373.3 1341.4 L1377.5 1330.1 L1381.7 1292 L1386 1262.5 L1390.2 1242 L1394.4 1228.2 L1398.7 1225 L1402.9 1213.6 L1407.1 1221.7 L1411.4 1236.6 L1415.6 1267.1 L1419.8 1283.2 L1424.1 1274.5 L1428.3 1264.2 L1432.5 1247.2 L1436.8 1267.6 L1441 1272.4 L1445.2 1290 L1449.5 1290.1 L1453.7 1272.3 L1457.9 1260.9 L1462.1 1234.1 L1466.4 1227.1 L1470.6 1216.8 L1474.8 1216.8 L1479.1 1216.8 L1483.3 1213.6 L1487.5 1224.3 L1491.8 1280.3 L1496 1336.3 L1500.2 1365.8 L1504.5 1340.6 L1508.7 1331.5 L1512.9 1328.6 L1517.2 1332.5 L1521.4 1319.7 L1525.6 1319.3 L1529.9 1317.1 L1534.1 1332.1 L1538.3 1328 L1542.6 1317.7 L1546.8 1287 L1551 1310.2 L1555.3 1316.5 L1559.5 1334.6 L1563.7 1322 L1568 1349.5 L1572.2 1369 L1576.4 1369.3 L1580.7 1362.1 L1584.9 1336.5 L1589.1 1322.1 L1593.4 1297.6 L1597.6 1296.4 L1601.8 1298.3 L1606.1 1285.2 L1610.3 1256 L1614.5 1224.8 L1618.8 1225.1 L1623 1233.8 L1627.2 1252.2 L1631.5 1261.6 L1635.7 1286 L1639.9 1312.6 L1644.2 1309.2 L1648.4 1309 L1652.6 1311.2 L1656.9 1349.8 L1661.1 1372.8 L1665.3 1362.5 L1669.6 1349.3 L1673.8 1316.7 L1678 1304 L1682.3 1289.9 L1686.5 1266.4 L1690.7 1256.3 L1695 1238 L1699.2 1269 L1703.4 1277.9 L1707.7 1273.1 L1711.9 1242.1 L1716.1 1230 L1720.4 1235.5 L1724.6 1247.4 L1728.8 1271.9 L1733.1 1283.4 L1737.3 1296.3 L1741.5 1271.1 L1745.8 1248.4 L1750 1223.7 L1754.2 1213.6 L1758.4 1237.9 L1762.7 1269 L1766.9 1303.4 L1771.1 1308 L1775.4 1305.2 L1779.6 1304.9 L1783.8 1319 L1788.1 1332.6 L1792.3 1354.6 L1796.5 1365.2 L1800.8 1379.2 L1805 1372.9 L1809.2 1360.5 L1813.5 1355.2 L1817.7 1359.7 L1821.9 1360.8 L1826.2 1362.2 L1830.4 1350.5 L1834.6 1342.7 L1838.9 1315 L1843.1 1292.2 L1847.3 1282.7 L1851.6 1264.3 L1855.8 1248.1 L1860 1223.4 L1864.3 1273.4 L1868.5 1326 L1872.7 1381.6 L1877 1381.6 L1881.2 1381.6 L1885.4 1366.8 L1889.7 1363.8 L1893.9 1363.8 L1898.1 1378.6 L1902.4 1358.1 L1906.6 1333.9 L1910.8 1316.1 L1915.1 1319.1 L1919.3 1287.3 L1923.5 1249 L1927.8 1213.6 L1932 1216.5 L1936.2 1216.5 L1940.5 1222.5 L1944.7 1228.2 L1948.9 1228.2 L1953.2 1222.3 L1957.4 1213.6 L1961.6 1213.6 L1965.9 1239.7 L1970.1 1286.2 L1974.3 1328.6 L1978.6 1339.7 L1982.8 1321.2 L1987 1300.8 L1991.3 1291.5 L1995.5 1295 L1999.7 1305.7 L2004 1286.9 L2008.2 1255.3 L2012.4 1231.2 L2016.7 1237.7 L2020.9 1237.8 L2025.1 1248.2 L2029.4 1271.4 L2033.6 1292 L2037.8 1328.9 L2042.1 1338.5 L2046.3 1343.1 L2050.5 1287.1 L2054.7 1238.9 L2059 1221.3 L2063.2 1231.5 L2067.4 1272.3 L2071.7 1297.8 L2075.9 1307.1 L2080.1 1281.6 L2084.4 1290.8 L2088.6 1324.1 L2092.8 1364.9 L2097.1 1378.5 L2101.3 1364.2 L2105.5 1364.2 L2109.8 1345.7 L2114 1349.2 L2118.2 1336 L2122.5 1340.9 L2126.7 1350 L2130.9 1360.3 L2135.2 1349.2 L2139.4 1309.3 L2143.6 1262.4 L2147.9 1231.1 L2152.1 1237.3 L2156.3 1256.5 L2160.6 1300.3 L2164.8 1305.2 L2169 1335.7 L2173.3 1348 L2177.5 1381.6 L2181.7 1365.9 L2186 1356 L2190.2 1328.6 L2194.4 1308.9 L2198.7 1296.7 L2202.9 1290.8 L2207.1 1270.2" stroke="#2196F3" stroke-opacity="0.68" stroke-width="2"/>
<path d="M14.5 1322.5 L18.7 1338.1 L23 1349.3 L27.2 1363.2 L31.4 1352.3 L35.7 1326.1 L39.9 1294.3 L44.1 1270.4 L48.4 1247.1 L52.6 1228.7 L56.8 1216.8 L61.1 1213.6 L65.3 1213.6 L69.5 1214.1 L73.8 1218.6 L78 1225.5 L82.2 1235.5 L86.5 1242.5 L90.7 1248.6 L94.9 1249.5 L99.2 1246.7 L103.4 1244.4 L107.6 1248.2 L111.9 1269.8 L116.1 1302.4 L120.3 1339.2 L124.6 1358.7 L128.8 1360.2 L133 1349.4 L137.3 1337.5 L141.5 1335.8 L145.7 1342.5 L150 1360.6 L154.2 1371 L158.4 1375.3 L162.7 1367.2 L166.9 1356.2 L171.1 1344.9 L175.4 1339.8 L179.6 1347.5 L183.8 1357.8 L188.1 1365.9 L192.3 1363.4 L196.5 1343.9 L200.8 1309.3 L205 1263.4 L209.2 1235.5 L213.5 1224.3 L217.7 1245.7 L221.9 1279.8 L226.2 1330.3 L230.4 1358.4 L234.6 1363.2 L238.9 1341.1 L243.1 1322.4 L247.3 1320.2 L251.6 1329.9 L255.8 1346.1 L260 1351 L264.3 1360.3 L268.5 1363.9 L272.7 1366.2 L277 1355.7 L281.2 1339.7 L285.4 1329.3 L289.7 1330.7 L293.9 1343.3 L298.1 1361.8 L302.3 1371.2 L306.6 1374.2 L310.8 1368.2 L315 1362.1 L319.3 1354.2 L323.5 1350 L327.7 1356.1 L332 1368.1 L336.2 1378.2 L340.4 1381.6 L344.7 1364.4 L348.9 1328.5 L353.1 1276.6 L357.4 1246.6 L361.6 1240.6 L365.8 1264.1 L370.1 1281.7 L374.3 1299.9 L378.5 1298.3 L382.8 1310 L387 1322.5 L391.2 1350.6 L395.5 1368.3 L399.7 1372.9 L403.9 1364.9 L408.2 1349.4 L412.4 1341.3 L416.6 1340.2 L420.9 1350 L425.1 1345.4 L429.3 1323.6 L433.6 1283.8 L437.8 1263.8 L442 1255 L446.3 1255.7 L450.5 1243.5 L454.7 1233.1 L459 1226.9 L463.2 1231.1 L467.4 1234.5 L471.7 1233.7 L475.9 1224.9 L480.1 1220.6 L484.4 1222 L488.6 1227.8 L492.8 1227.7 L497.1 1222.4 L501.3 1216.8 L505.5 1218.1 L509.8 1231.9 L514 1251.4 L518.2 1271.1 L522.5 1281.6 L526.7 1299.2 L530.9 1319.8 L535.2 1346.7 L539.4 1360.5 L543.6 1370 L547.9 1373.7 L552.1 1377.9 L556.3 1379.2 L560.6 1374 L564.8 1365.9 L569 1352.8 L573.3 1348 L577.5 1347.2 L581.7 1349.1 L585.9 1344.9 L590.2 1332.7 L594.4 1329.2 L598.6 1334.2 L602.9 1346 L607.1 1334.3 L611.3 1301.1 L615.6 1258.1 L619.8 1240.2 L624 1244.6 L628.3 1269 L632.5 1286.6 L636.7 1299.1 L641 1296.7 L645.2 1283.9 L649.4 1259.7 L653.7 1236.2 L657.9 1231.1 L662.1 1245.7 L666.4 1276.7 L670.6 1307.9 L674.8 1338.7 L679.1 1362.4 L683.3 1376.6 L687.5 1377.6 L691.8 1370.3 L696 1360.9 L700.2 1359.4 L704.5 1364.7 L708.7 1374.1 L712.9 1362.4 L717.2 1331.8 L721.4 1283.1 L725.6 1251.5 L729.9 1235.1 L734.1 1237.8 L738.3 1242.6 L742.6 1249.1 L746.8 1249.1 L751 1243.5 L755.3 1231.9 L759.5 1222.1 L763.7 1218.3 L768 1226.9 L772.2 1247.8 L776.4 1272.7 L780.7 1290.3 L784.9 1293.2 L789.1 1289 L793.4 1280.1 L797.6 1274.5 L801.8 1263.5 L806.1 1262.4 L810.3 1265.1 L814.5 1277.2 L818.8 1273 L823 1257.1 L827.2 1239.3 L831.5 1232.5 L835.7 1234.4 L839.9 1228.5 L844.2 1228.5 L848.4 1234.5 L852.6 1249.3 L856.9 1255.7 L861.1 1250 L865.3 1246.4 L869.6 1248.9 L873.8 1264.4 L878 1276.1 L882.2 1282.5 L886.5 1290.5 L890.7 1307.1 L894.9 1334.8 L899.2 1357.2 L903.4 1368.3 L907.6 1362.4 L911.9 1347.9 L916.1 1339.1 L920.3 1344.3 L924.6 1355.4 L928.8 1362.7 L933 1363 L937.3 1364.4 L941.5 1364.7 L945.7 1365 L950 1363.8 L954.2 1358.9 L958.4 1344.5 L962.7 1325.3 L966.9 1300.2 L971.1 1283.7 L975.4 1265.8 L979.6 1267.5 L983.8 1262 L988.1 1258 L992.3 1236.7 L996.5 1223.1 L1000.8 1223.6 L1005 1241.7 L1009.2 1272.6 L1013.5 1292.4 L1017.7 1306.4 L1021.9 1310 L1026.2 1323.8 L1030.4 1331.3 L1034.6 1330.9 L1038.9 1323.7 L1043.1 1329.4 L1047.3 1348.1 L1051.6 1357.6 L1055.8 1338.9 L1060 1310.9 L1064.3 1297.6 L1068.5 1318.3 L1072.7 1346.5 L1077 1367.3 L1081.2 1371.5 L1085.4 1366.6 L1089.7 1358.6 L1093.9 1351.5 L1098.1 1345.3 L1102.4 1340.4 L1106.6 1332.2 L1110.8 1318.2 L1115.1 1292 L1119.3 1260.3 L1123.5 1234.5 L1127.8 1223.8 L1132 1220.8 L1136.2 1220.2 L1140.5 1217.2 L1144.7 1215.3 L1148.9 1213.9 L1153.2 1213.6 L1157.4 1213.6 L1161.6 1221.7 L1165.9 1238.5 L1170.1 1266 L1174.3 1295.9 L1178.5 1326.2 L1182.8 1353.5 L1187 1370.5 L1191.2 1379.5 L1195.5 1380.5 L1199.7 1378.7 L1203.9 1371.9 L1208.2 1362.2 L1212.4 1355.7 L1216.6 1357.1 L1220.9 1364.9 L1225.1 1374.2 L1229.3 1379.6 L1233.6 1374.9 L1237.8 1366.5 L1242 1349.9 L1246.3 1346.4 L1250.5 1342.1 L1254.7 1350.2 L1259 1344 L1263.2 1332.4 L1267.4 1311.2 L1271.7 1296 L1275.9 1283.2 L1280.1 1266.5 L1284.4 1255.5 L1288.6 1254.8 L1292.8 1269.7 L1297.1 1268.1 L1301.3 1260.3 L1305.5 1247.8 L1309.8 1266.6 L1314 1297.5 L1318.2 1334.9 L1322.5 1353.7 L1326.7 1366.3 L1330.9 1371.6 L1335.2 1375.3 L1339.4 1374.8 L1343.6 1374.6 L1347.9 1376.1 L1352.1 1375.8 L1356.3 1368.6 L1360.6 1358.4 L1364.8 1347.5 L1369 1346.4 L1373.3 1344.5 L1377.5 1341.2 L1381.7 1321.1 L1386 1294.8 L1390.2 1265.5 L1394.4 1244.2 L1398.7 1231.7 L1402.9 1222.3 L1407.1 1220.1 L1411.4 1224 L1415.6 1241.8 L1419.8 1262.3 L1424.1 1274.9 L1428.3 1274 L1432.5 1262 L1436.8 1259.7 L1441 1262.4 L1445.2 1276.7 L1449.5 1284.2 L1453.7 1284.2 L1457.9 1274.5 L1462.1 1255.8 L1466.4 1240.7 L1470.6 1226 L1474.8 1220.2 L1479.1 1216.8 L1483.3 1215.7 L1487.5 1218.2 L1491.8 1239.4 L1496 1280.3 L1500.2 1327.4 L1504.5 1347.6 L1508.7 1346 L1512.9 1333.5 L1517.2 1330.8 L1521.4 1326.9 L1525.6 1323.9 L1529.9 1318.7 L1534.1 1322.9 L1538.3 1325.7 L1542.6 1325.9 L1546.8 1310.9 L1551 1305 L1555.3 1304.6 L1559.5 1320.4 L1563.7 1324.4 L1568 1335.4 L1572.2 1346.8 L1576.4 1362.6 L1580.7 1366.8 L1584.9 1356 L1589.1 1340.2 L1593.4 1318.7 L1597.6 1305.4 L1601.8 1297.4 L1606.1 1293.3 L1610.3 1279.8 L1614.5 1255.3 L1618.8 1235.3 L1623 1227.9 L1627.2 1237 L1631.5 1249.2 L1635.7 1266.6 L1639.9 1286.8 L1644.2 1302.6 L1648.4 1310.3 L1652.6 1309.8 L1656.9 1323.3 L1661.1 1344.6 L1665.3 1361.7 L1669.6 1361.5 L1673.8 1342.8 L1678 1323.3 L1682.3 1303.5 L1686.5 1286.8 L1690.7 1270.8 L1695 1253.5 L1699.2 1254.4 L1703.4 1261.6 L1707.7 1273.3 L1711.9 1264.4 L1716.1 1248.4 L1720.4 1235.9 L1724.6 1237.6 L1728.8 1251.6 L1733.1 1267.6 L1737.3 1283.9 L1741.5 1283.6 L1745.8 1272 L1750 1247.7 L1754.2 1228.6 L1758.4 1225 L1762.7 1240.2 L1766.9 1270.1 L1771.1 1293.5 L1775.4 1305.5 L1779.6 1306 L1783.8 1309.7 L1788.1 1318.8 L1792.3 1335.4 L1796.5 1350.8 L1800.8 1366.4 L1805 1372.5 L1809.2 1370.9 L1813.5 1362.9 L1817.7 1358.5 L1821.9 1358.6 L1826.2 1360.9 L1830.4 1357.8 L1834.6 1351.8 L1838.9 1336.1 L1843.1 1316.6 L1847.3 1296.6 L1851.6 1279.7 L1855.8 1265 L1860 1245.3 L1864.3 1248.3 L1868.5 1274.3 L1872.7 1327 L1877 1363.1 L1881.2 1381.6 L1885.4 1376.7 L1889.7 1370.7 L1893.9 1364.8 L1898.1 1368.8 L1902.4 1366.9 L1906.6 1356.9 L1910.8 1336 L1915.1 1323 L1919.3 1307.5 L1923.5 1285.1 L1927.8 1250 L1932 1226.4 L1936.2 1215.5 L1940.5 1218.5 L1944.7 1222.4 L1948.9 1226.3 L1953.2 1226.2 L1957.4 1221.4 L1961.6 1216.5 L1965.9 1222.3 L1970.1 1246.5 L1974.3 1284.8 L1978.6 1318.1 L1982.8 1329.8 L1987 1320.6 L1991.3 1304.5 L1995.5 1295.8 L1999.7 1297.4 L2004 1295.9 L2008.2 1282.6 L2012.4 1257.8 L2016.7 1241.4 L2020.9 1235.6 L2025.1 1241.2 L2029.4 1252.5 L2033.6 1270.5 L2037.8 1297.4 L2042.1 1319.8 L2046.3 1336.9 L2050.5 1322.9 L2054.7 1289.7 L2059 1249.1 L2063.2 1230.6 L2067.4 1241.7 L2071.7 1267.2 L2075.9 1292.4 L2080.1 1295.5 L2084.4 1293.2 L2088.6 1298.8 L2092.8 1326.6 L2097.1 1355.8 L2101.3 1369.2 L2105.5 1369 L2109.8 1358.1 L2114 1353 L2118.2 1343.6 L2122.5 1342 L2126.7 1342.3 L2130.9 1350.4 L2135.2 1353.2 L2139.4 1339.6 L2143.6 1307 L2147.9 1267.6 L2152.1 1243.6 L2156.3 1241.6 L2160.6 1264.7 L2164.8 1287.3 L2169 1313.7 L2173.3 1329.6 L2177.5 1355.1 L2181.7 1365.2 L2186 1367.8 L2190.2 1350.2 L2194.4 1331.2 L2198.7 1311.4 L2202.9 1298.8 L2207.1 1285.9" stroke="#FF6D00" stroke-opacity="0.6" stroke-width="2"/>
<line x1="14" y1="1347.7" x2="2450" y2="1347.7" stroke="#3A3A3A" stroke-width="2" stroke-dasharray="10 12"/>
<rect x="14" y="1248" width="2436" height="101.2" fill="#9915FF" fill-opacity="0.2" stroke="none"/>
<line x1="14" y1="1246.9" x2="2450" y2="1246.9" stroke="#4A4A4A" stroke-width="2" stroke-dasharray="10 12"/>
</g>
<g clip-path="url(#cpd)">
<g fill="#26A69A"><rect x="43" y="1445.7" width="2" height="3.3"/><rect x="47" y="1441.8" width="2" height="7.2"/><rect x="52" y="1438.5" width="2" height="10.5"/><rect x="56" y="1436.5" width="2" height="12.5"/><rect x="60" y="1434.9" width="2" height="14.1"/><rect x="64" y="1429.8" width="2" height="19.2"/><rect x="69" y="1427.9" width="2" height="21.1"/><rect x="98" y="1435" width="2" height="14"/><rect x="445" y="1447" width="2" height="2"/><rect x="449" y="1444.4" width="2" height="4.6"/><rect x="454" y="1442.5" width="2" height="6.5"/><rect x="458" y="1441.8" width="2" height="7.2"/><rect x="462" y="1441.5" width="2" height="7.5"/><rect x="466" y="1439.5" width="2" height="9.5"/><rect x="471" y="1431.2" width="2" height="17.8"/><rect x="475" y="1425.1" width="2" height="23.9"/><rect x="479" y="1423.9" width="2" height="25.1"/><rect x="483" y="1423.6" width="2" height="25.4"/><rect x="488" y="1422.6" width="2" height="26.4"/><rect x="492" y="1421.9" width="2" height="27.1"/><rect x="496" y="1420.2" width="2" height="28.8"/><rect x="606" y="1447" width="2" height="2"/><rect x="610" y="1447" width="2" height="2"/><rect x="615" y="1447" width="2" height="2"/><rect x="632" y="1447" width="2" height="2"/><rect x="640" y="1447" width="2" height="2"/><rect x="644" y="1446.9" width="2" height="2.1"/><rect x="648" y="1445.8" width="2" height="3.2"/><rect x="653" y="1445.2" width="2" height="3.8"/><rect x="725" y="1447" width="2" height="2"/><rect x="729" y="1447" width="2" height="2"/><rect x="737" y="1447" width="2" height="2"/><rect x="742" y="1447" width="2" height="2"/><rect x="746" y="1446.7" width="2" height="2.3"/><rect x="750" y="1445.3" width="2" height="3.7"/><rect x="754" y="1444.3" width="2" height="4.7"/><rect x="758" y="1442.1" width="2" height="6.9"/><rect x="763" y="1442" width="2" height="7"/><rect x="784" y="1444.3" width="2" height="4.7"/><rect x="792" y="1444.3" width="2" height="4.7"/><rect x="801" y="1444" width="2" height="5"/><rect x="818" y="1444.9" width="2" height="4.1"/><rect x="822" y="1444.5" width="2" height="4.5"/><rect x="830" y="1444.8" width="2" height="4.2"/><rect x="835" y="1444.6" width="2" height="4.4"/><rect x="839" y="1443.5" width="2" height="5.5"/><rect x="852" y="1443.9" width="2" height="5.1"/><rect x="860" y="1444" width="2" height="5"/><rect x="966" y="1447" width="2" height="2"/><rect x="970" y="1447" width="2" height="2"/><rect x="974" y="1447" width="2" height="2"/><rect x="983" y="1447" width="2" height="2"/><rect x="987" y="1446.9" width="2" height="2.1"/><rect x="991" y="1446.6" width="2" height="2.4"/><rect x="996" y="1445.9" width="2" height="3.1"/><rect x="1012" y="1447" width="2" height="2"/><rect x="1029" y="1447" width="2" height="2"/><rect x="1034" y="1447" width="2" height="2"/><rect x="1055" y="1447" width="2" height="2"/><rect x="1110" y="1447" width="2" height="2"/><rect x="1114" y="1446.8" width="2" height="2.2"/><rect x="1118" y="1445.8" width="2" height="3.2"/><rect x="1123" y="1445.1" width="2" height="3.9"/><rect x="1127" y="1445" width="2" height="4"/><rect x="1131" y="1445" width="2" height="4"/><rect x="1135" y="1444" width="2" height="5"/><rect x="1139" y="1441.9" width="2" height="7.1"/><rect x="1144" y="1440.3" width="2" height="8.7"/><rect x="1148" y="1439.5" width="2" height="9.5"/><rect x="1152" y="1437.9" width="2" height="11.1"/><rect x="1156" y="1432.1" width="2" height="16.9"/><rect x="1296" y="1446.8" width="2" height="2.2"/><rect x="1300" y="1445.9" width="2" height="3.1"/><rect x="1393" y="1446.9" width="2" height="2.1"/><rect x="1398" y="1444.9" width="2" height="4.1"/><rect x="1402" y="1443.7" width="2" height="5.3"/><rect x="1406" y="1443.7" width="2" height="5.3"/><rect x="1423" y="1446.2" width="2" height="2.8"/><rect x="1432" y="1445.9" width="2" height="3.1"/><rect x="1453" y="1446.8" width="2" height="2.2"/><rect x="1461" y="1446.7" width="2" height="2.3"/><rect x="1465" y="1446.5" width="2" height="2.5"/><rect x="1478" y="1446.5" width="2" height="2.5"/><rect x="1482" y="1446" width="2" height="3"/><rect x="1542" y="1447" width="2" height="2"/><rect x="1609" y="1447" width="2" height="2"/><rect x="1614" y="1447" width="2" height="2"/><rect x="1618" y="1447" width="2" height="2"/><rect x="1622" y="1447" width="2" height="2"/><rect x="1643" y="1447" width="2" height="2"/><rect x="1685" y="1447" width="2" height="2"/><rect x="1690" y="1447" width="2" height="2"/><rect x="1694" y="1447" width="2" height="2"/><rect x="1707" y="1447" width="2" height="2"/><rect x="1711" y="1447" width="2" height="2"/><rect x="1715" y="1446.8" width="2" height="2.2"/><rect x="1719" y="1446.6" width="2" height="2.4"/><rect x="1741" y="1447" width="2" height="2"/><rect x="1745" y="1447" width="2" height="2"/><rect x="1749" y="1446.6" width="2" height="2.4"/><rect x="1753" y="1443.3" width="2" height="5.7"/><rect x="1757" y="1443.1" width="2" height="5.9"/><rect x="1859" y="1447" width="2" height="2"/><rect x="1927" y="1447" width="2" height="2"/><rect x="1931" y="1447" width="2" height="2"/><rect x="1935" y="1447" width="2" height="2"/><rect x="1939" y="1447" width="2" height="2"/><rect x="1948" y="1446.8" width="2" height="2.2"/><rect x="1952" y="1446.6" width="2" height="2.4"/><rect x="1956" y="1446.3" width="2" height="2.7"/><rect x="1961" y="1446.2" width="2" height="2.8"/><rect x="1982" y="1447" width="2" height="2"/><rect x="1986" y="1447" width="2" height="2"/><rect x="2003" y="1447" width="2" height="2"/><rect x="2007" y="1447" width="2" height="2"/><rect x="2011" y="1447" width="2" height="2"/><rect x="2020" y="1447" width="2" height="2"/><rect x="2045" y="1447" width="2" height="2"/><rect x="2050" y="1447" width="2" height="2"/><rect x="2054" y="1447" width="2" height="2"/><rect x="2058" y="1447" width="2" height="2"/><rect x="2075" y="1447" width="2" height="2"/><rect x="2079" y="1447" width="2" height="2"/><rect x="2147" y="1447" width="2" height="2"/><rect x="2151" y="1447" width="2" height="2"/></g>
<g fill="#B2DFDB"><rect x="73" y="1430" width="2" height="19"/><rect x="77" y="1430.1" width="2" height="18.9"/><rect x="81" y="1432.3" width="2" height="16.7"/><rect x="85" y="1434.9" width="2" height="14.1"/><rect x="90" y="1436.3" width="2" height="12.7"/><rect x="94" y="1436.5" width="2" height="12.5"/><rect x="102" y="1435.8" width="2" height="13.2"/><rect x="107" y="1437.3" width="2" height="11.7"/><rect x="111" y="1440.6" width="2" height="8.4"/><rect x="115" y="1444.2" width="2" height="4.8"/><rect x="119" y="1446.4" width="2" height="2.6"/><rect x="124" y="1447" width="2" height="2"/><rect x="128" y="1447" width="2" height="2"/><rect x="500" y="1420.4" width="2" height="28.6"/><rect x="505" y="1424.2" width="2" height="24.8"/><rect x="509" y="1432.2" width="2" height="16.8"/><rect x="513" y="1434.6" width="2" height="14.4"/><rect x="517" y="1439.1" width="2" height="9.9"/><rect x="521" y="1442.7" width="2" height="6.3"/><rect x="526" y="1446.1" width="2" height="2.9"/><rect x="530" y="1447" width="2" height="2"/><rect x="534" y="1447" width="2" height="2"/><rect x="619" y="1447" width="2" height="2"/><rect x="623" y="1447" width="2" height="2"/><rect x="627" y="1447" width="2" height="2"/><rect x="636" y="1447" width="2" height="2"/><rect x="657" y="1445.7" width="2" height="3.3"/><rect x="661" y="1446" width="2" height="3"/><rect x="665" y="1446.7" width="2" height="2.3"/><rect x="670" y="1447" width="2" height="2"/><rect x="733" y="1447" width="2" height="2"/><rect x="767" y="1442.6" width="2" height="6.4"/><rect x="771" y="1443.6" width="2" height="5.4"/><rect x="775" y="1444.1" width="2" height="4.9"/><rect x="780" y="1444.4" width="2" height="4.6"/><rect x="788" y="1444.6" width="2" height="4.4"/><rect x="797" y="1444.4" width="2" height="4.6"/><rect x="805" y="1444.6" width="2" height="4.4"/><rect x="809" y="1444.9" width="2" height="4.1"/><rect x="814" y="1445" width="2" height="4"/><rect x="826" y="1444.9" width="2" height="4.1"/><rect x="843" y="1443.9" width="2" height="5.1"/><rect x="847" y="1444.1" width="2" height="4.9"/><rect x="856" y="1444.4" width="2" height="4.6"/><rect x="864" y="1444.8" width="2" height="4.2"/><rect x="869" y="1445.7" width="2" height="3.3"/><rect x="873" y="1446.1" width="2" height="2.9"/><rect x="877" y="1446.6" width="2" height="2.4"/><rect x="881" y="1447" width="2" height="2"/><rect x="885" y="1447" width="2" height="2"/><rect x="890" y="1447" width="2" height="2"/><rect x="894" y="1447" width="2" height="2"/><rect x="979" y="1447" width="2" height="2"/><rect x="1000" y="1446.7" width="2" height="2.3"/><rect x="1004" y="1447" width="2" height="2"/><rect x="1008" y="1447" width="2" height="2"/><rect x="1017" y="1447" width="2" height="2"/><rect x="1021" y="1447" width="2" height="2"/><rect x="1025" y="1447" width="2" height="2"/><rect x="1038" y="1447" width="2" height="2"/><rect x="1059" y="1447" width="2" height="2"/><rect x="1161" y="1432.5" width="2" height="16.5"/><rect x="1165" y="1433.1" width="2" height="15.9"/><rect x="1169" y="1433.2" width="2" height="15.8"/><rect x="1173" y="1436.7" width="2" height="12.3"/><rect x="1178" y="1439.2" width="2" height="9.8"/><rect x="1182" y="1442.6" width="2" height="6.4"/><rect x="1186" y="1445.4" width="2" height="3.6"/><rect x="1305" y="1446.1" width="2" height="2.9"/><rect x="1410" y="1444.4" width="2" height="4.6"/><rect x="1415" y="1446.2" width="2" height="2.8"/><rect x="1419" y="1447" width="2" height="2"/><rect x="1427" y="1446.4" width="2" height="2.6"/><rect x="1436" y="1446.4" width="2" height="2.6"/><rect x="1440" y="1446.7" width="2" height="2.3"/><rect x="1444" y="1447" width="2" height="2"/><rect x="1448" y="1447" width="2" height="2"/><rect x="1457" y="1446.8" width="2" height="2.2"/><rect x="1470" y="1446.6" width="2" height="2.4"/><rect x="1474" y="1446.7" width="2" height="2.3"/><rect x="1487" y="1446.1" width="2" height="2.9"/><rect x="1491" y="1447" width="2" height="2"/><rect x="1495" y="1447" width="2" height="2"/><rect x="1626" y="1447" width="2" height="2"/><rect x="1630" y="1447" width="2" height="2"/><rect x="1635" y="1447" width="2" height="2"/><rect x="1639" y="1447" width="2" height="2"/><rect x="1647" y="1447" width="2" height="2"/><rect x="1652" y="1447" width="2" height="2"/><rect x="1698" y="1447" width="2" height="2"/><rect x="1702" y="1447" width="2" height="2"/><rect x="1724" y="1446.6" width="2" height="2.4"/><rect x="1728" y="1447" width="2" height="2"/><rect x="1732" y="1447" width="2" height="2"/><rect x="1736" y="1447" width="2" height="2"/><rect x="1762" y="1443.6" width="2" height="5.4"/><rect x="1766" y="1444.5" width="2" height="4.5"/><rect x="1770" y="1444.8" width="2" height="4.2"/><rect x="1774" y="1445.2" width="2" height="3.8"/><rect x="1779" y="1446" width="2" height="3"/><rect x="1783" y="1447" width="2" height="2"/><rect x="1787" y="1447" width="2" height="2"/><rect x="1944" y="1447" width="2" height="2"/><rect x="1965" y="1446.9" width="2" height="2.1"/><rect x="1969" y="1447" width="2" height="2"/><rect x="1973" y="1447" width="2" height="2"/><rect x="1978" y="1447" width="2" height="2"/><rect x="1990" y="1447" width="2" height="2"/><rect x="1994" y="1447" width="2" height="2"/><rect x="1999" y="1447" width="2" height="2"/><rect x="2016" y="1447" width="2" height="2"/><rect x="2024" y="1447" width="2" height="2"/><rect x="2028" y="1447" width="2" height="2"/><rect x="2033" y="1447" width="2" height="2"/><rect x="2037" y="1447" width="2" height="2"/><rect x="2041" y="1447" width="2" height="2"/><rect x="2062" y="1447" width="2" height="2"/><rect x="2066" y="1447" width="2" height="2"/><rect x="2071" y="1447" width="2" height="2"/><rect x="2083" y="1447" width="2" height="2"/><rect x="2155" y="1447" width="2" height="2"/></g>
<g fill="#FFCDD2"><rect x="26" y="1449" width="2" height="5.1"/><rect x="30" y="1449" width="2" height="3.9"/><rect x="35" y="1449" width="2" height="3.4"/><rect x="39" y="1449" width="2" height="2"/><rect x="162" y="1449" width="2" height="8.8"/><rect x="166" y="1449" width="2" height="7.3"/><rect x="174" y="1449" width="2" height="7.2"/><rect x="183" y="1449" width="2" height="7.1"/><rect x="187" y="1449" width="2" height="6.3"/><rect x="191" y="1449" width="2" height="5.5"/><rect x="196" y="1449" width="2" height="3.9"/><rect x="200" y="1449" width="2" height="2.2"/><rect x="204" y="1449" width="2" height="2"/><rect x="208" y="1449" width="2" height="2"/><rect x="212" y="1449" width="2" height="2"/><rect x="229" y="1449" width="2" height="3.8"/><rect x="234" y="1449" width="2" height="3.2"/><rect x="238" y="1449" width="2" height="2.6"/><rect x="242" y="1449" width="2" height="2.6"/><rect x="251" y="1449" width="2" height="2.6"/><rect x="259" y="1449" width="2" height="2.9"/><rect x="272" y="1449" width="2" height="4.6"/><rect x="276" y="1449" width="2" height="4.3"/><rect x="280" y="1449" width="2" height="3.9"/><rect x="284" y="1449" width="2" height="3.3"/><rect x="301" y="1449" width="2" height="8.5"/><rect x="310" y="1449" width="2" height="8.4"/><rect x="314" y="1449" width="2" height="6.8"/><rect x="318" y="1449" width="2" height="6.5"/><rect x="339" y="1449" width="2" height="11.6"/><rect x="344" y="1449" width="2" height="8"/><rect x="348" y="1449" width="2" height="4.8"/><rect x="352" y="1449" width="2" height="3"/><rect x="356" y="1449" width="2" height="2.5"/><rect x="361" y="1449" width="2" height="2"/><rect x="369" y="1449" width="2" height="4.9"/><rect x="399" y="1449" width="2" height="16.4"/><rect x="407" y="1449" width="2" height="14.9"/><rect x="411" y="1449" width="2" height="13.1"/><rect x="424" y="1449" width="2" height="10"/><rect x="428" y="1449" width="2" height="8.3"/><rect x="433" y="1449" width="2" height="6.5"/><rect x="437" y="1449" width="2" height="4.9"/><rect x="441" y="1449" width="2" height="2"/><rect x="551" y="1449" width="2" height="2.5"/><rect x="560" y="1449" width="2" height="2.3"/><rect x="564" y="1449" width="2" height="2.2"/><rect x="568" y="1449" width="2" height="2"/><rect x="576" y="1449" width="2" height="2"/><rect x="581" y="1449" width="2" height="2"/><rect x="585" y="1449" width="2" height="2"/><rect x="589" y="1449" width="2" height="2"/><rect x="593" y="1449" width="2" height="2"/><rect x="602" y="1449" width="2" height="2"/><rect x="691" y="1449" width="2" height="9.8"/><rect x="712" y="1449" width="2" height="6.8"/><rect x="716" y="1449" width="2" height="3.7"/><rect x="720" y="1449" width="2" height="2"/><rect x="907" y="1449" width="2" height="2"/><rect x="924" y="1449" width="2" height="2.7"/><rect x="936" y="1449" width="2" height="2.6"/><rect x="941" y="1449" width="2" height="2.3"/><rect x="949" y="1449" width="2" height="2.1"/><rect x="953" y="1449" width="2" height="2"/><rect x="957" y="1449" width="2" height="2"/><rect x="962" y="1449" width="2" height="2"/><rect x="1051" y="1449" width="2" height="2"/><rect x="1080" y="1449" width="2" height="2"/><rect x="1084" y="1449" width="2" height="2"/><rect x="1089" y="1449" width="2" height="2"/><rect x="1093" y="1449" width="2" height="2"/><rect x="1097" y="1449" width="2" height="2"/><rect x="1101" y="1449" width="2" height="2"/><rect x="1106" y="1449" width="2" height="2"/><rect x="1203" y="1449" width="2" height="3.2"/><rect x="1207" y="1449" width="2" height="3.1"/><rect x="1233" y="1449" width="2" height="6.8"/><rect x="1241" y="1449" width="2" height="5.8"/><rect x="1250" y="1449" width="2" height="5.4"/><rect x="1254" y="1449" width="2" height="5"/><rect x="1258" y="1449" width="2" height="4"/><rect x="1262" y="1449" width="2" height="2.9"/><rect x="1266" y="1449" width="2" height="2.7"/><rect x="1271" y="1449" width="2" height="2.6"/><rect x="1275" y="1449" width="2" height="2"/><rect x="1279" y="1449" width="2" height="2"/><rect x="1288" y="1449" width="2" height="2"/><rect x="1292" y="1449" width="2" height="2"/><rect x="1351" y="1449" width="2" height="11.9"/><rect x="1355" y="1449" width="2" height="9.9"/><rect x="1360" y="1449" width="2" height="9.1"/><rect x="1364" y="1449" width="2" height="8.6"/><rect x="1372" y="1449" width="2" height="7.3"/><rect x="1376" y="1449" width="2" height="6.1"/><rect x="1381" y="1449" width="2" height="4.1"/><rect x="1385" y="1449" width="2" height="2"/><rect x="1389" y="1449" width="2" height="2"/><rect x="1503" y="1449" width="2" height="2"/><rect x="1512" y="1449" width="2" height="2"/><rect x="1516" y="1449" width="2" height="2"/><rect x="1520" y="1449" width="2" height="2"/><rect x="1525" y="1449" width="2" height="2"/><rect x="1529" y="1449" width="2" height="2"/><rect x="1537" y="1449" width="2" height="2"/><rect x="1584" y="1449" width="2" height="3.1"/><rect x="1588" y="1449" width="2" height="2.5"/><rect x="1592" y="1449" width="2" height="2"/><rect x="1597" y="1449" width="2" height="2"/><rect x="1601" y="1449" width="2" height="2"/><rect x="1605" y="1449" width="2" height="2"/><rect x="1664" y="1449" width="2" height="2"/><rect x="1673" y="1449" width="2" height="2"/><rect x="1677" y="1449" width="2" height="2"/><rect x="1681" y="1449" width="2" height="2"/><rect x="1808" y="1449" width="2" height="2.7"/><rect x="1821" y="1449" width="2" height="3.4"/><rect x="1829" y="1449" width="2" height="3"/><rect x="1834" y="1449" width="2" height="2.3"/><rect x="1838" y="1449" width="2" height="2"/><rect x="1842" y="1449" width="2" height="2"/><rect x="1851" y="1449" width="2" height="2"/><rect x="1855" y="1449" width="2" height="2"/><rect x="1884" y="1449" width="2" height="3.2"/><rect x="1901" y="1449" width="2" height="4.1"/><rect x="1906" y="1449" width="2" height="3.3"/><rect x="1910" y="1449" width="2" height="3.1"/><rect x="1914" y="1449" width="2" height="2.6"/><rect x="1918" y="1449" width="2" height="2"/><rect x="1923" y="1449" width="2" height="2"/><rect x="2100" y="1449" width="2" height="2"/><rect x="2109" y="1449" width="2" height="2"/><rect x="2117" y="1449" width="2" height="2"/><rect x="2121" y="1449" width="2" height="2"/><rect x="2130" y="1449" width="2" height="2"/><rect x="2134" y="1449" width="2" height="2"/><rect x="2138" y="1449" width="2" height="2"/><rect x="2143" y="1449" width="2" height="2"/><rect x="2164" y="1449" width="2" height="2"/><rect x="2181" y="1449" width="2" height="2.1"/><rect x="2189" y="1449" width="2" height="2"/><rect x="2193" y="1449" width="2" height="2"/><rect x="2198" y="1449" width="2" height="2"/><rect x="2202" y="1449" width="2" height="2"/><rect x="2206" y="1449" width="2" height="2"/></g>
<g fill="#EF5350"><rect x="14" y="1449" width="2" height="2"/><rect x="18" y="1449" width="2" height="4.2"/><rect x="22" y="1449" width="2" height="5.4"/><rect x="132" y="1449" width="2" height="2"/><rect x="136" y="1449" width="2" height="2"/><rect x="141" y="1449" width="2" height="3"/><rect x="145" y="1449" width="2" height="6.3"/><rect x="149" y="1449" width="2" height="8.6"/><rect x="153" y="1449" width="2" height="9"/><rect x="157" y="1449" width="2" height="9.6"/><rect x="170" y="1449" width="2" height="7.4"/><rect x="179" y="1449" width="2" height="7.2"/><rect x="217" y="1449" width="2" height="2"/><rect x="221" y="1449" width="2" height="2.9"/><rect x="225" y="1449" width="2" height="3.8"/><rect x="246" y="1449" width="2" height="3.1"/><rect x="255" y="1449" width="2" height="3.1"/><rect x="263" y="1449" width="2" height="4.3"/><rect x="267" y="1449" width="2" height="5.2"/><rect x="289" y="1449" width="2" height="4.8"/><rect x="293" y="1449" width="2" height="7.2"/><rect x="297" y="1449" width="2" height="8.7"/><rect x="306" y="1449" width="2" height="8.9"/><rect x="323" y="1449" width="2" height="9.3"/><rect x="327" y="1449" width="2" height="10.5"/><rect x="331" y="1449" width="2" height="12"/><rect x="335" y="1449" width="2" height="12.2"/><rect x="365" y="1449" width="2" height="5.3"/><rect x="373" y="1449" width="2" height="7.5"/><rect x="378" y="1449" width="2" height="8"/><rect x="382" y="1449" width="2" height="12.5"/><rect x="386" y="1449" width="2" height="15.6"/><rect x="390" y="1449" width="2" height="16.8"/><rect x="394" y="1449" width="2" height="18.5"/><rect x="403" y="1449" width="2" height="16.7"/><rect x="416" y="1449" width="2" height="16"/><rect x="420" y="1449" width="2" height="16.1"/><rect x="538" y="1449" width="2" height="2"/><rect x="543" y="1449" width="2" height="2"/><rect x="547" y="1449" width="2" height="2.5"/><rect x="555" y="1449" width="2" height="3.2"/><rect x="572" y="1449" width="2" height="2"/><rect x="598" y="1449" width="2" height="2"/><rect x="674" y="1449" width="2" height="2.6"/><rect x="678" y="1449" width="2" height="6.6"/><rect x="682" y="1449" width="2" height="9.7"/><rect x="687" y="1449" width="2" height="10"/><rect x="695" y="1449" width="2" height="10"/><rect x="699" y="1449" width="2" height="11.2"/><rect x="703" y="1449" width="2" height="11.2"/><rect x="708" y="1449" width="2" height="12.4"/><rect x="898" y="1449" width="2" height="2"/><rect x="902" y="1449" width="2" height="2"/><rect x="911" y="1449" width="2" height="2"/><rect x="915" y="1449" width="2" height="2.4"/><rect x="919" y="1449" width="2" height="2.9"/><rect x="928" y="1449" width="2" height="2.8"/><rect x="932" y="1449" width="2" height="2.9"/><rect x="945" y="1449" width="2" height="2.4"/><rect x="1042" y="1449" width="2" height="2"/><rect x="1046" y="1449" width="2" height="2"/><rect x="1063" y="1449" width="2" height="2"/><rect x="1067" y="1449" width="2" height="2"/><rect x="1072" y="1449" width="2" height="2"/><rect x="1076" y="1449" width="2" height="2"/><rect x="1190" y="1449" width="2" height="2"/><rect x="1194" y="1449" width="2" height="3.6"/><rect x="1199" y="1449" width="2" height="3.9"/><rect x="1211" y="1449" width="2" height="3.9"/><rect x="1216" y="1449" width="2" height="5.4"/><rect x="1220" y="1449" width="2" height="6.5"/><rect x="1224" y="1449" width="2" height="7.4"/><rect x="1228" y="1449" width="2" height="8"/><rect x="1237" y="1449" width="2" height="6.9"/><rect x="1245" y="1449" width="2" height="6"/><rect x="1283" y="1449" width="2" height="2"/><rect x="1309" y="1449" width="2" height="2"/><rect x="1313" y="1449" width="2" height="2"/><rect x="1317" y="1449" width="2" height="2.6"/><rect x="1321" y="1449" width="2" height="4"/><rect x="1326" y="1449" width="2" height="5.9"/><rect x="1330" y="1449" width="2" height="6.5"/><rect x="1334" y="1449" width="2" height="6.6"/><rect x="1338" y="1449" width="2" height="7.4"/><rect x="1343" y="1449" width="2" height="10.9"/><rect x="1347" y="1449" width="2" height="12"/><rect x="1368" y="1449" width="2" height="9"/><rect x="1499" y="1449" width="2" height="2"/><rect x="1508" y="1449" width="2" height="2"/><rect x="1533" y="1449" width="2" height="2"/><rect x="1546" y="1449" width="2" height="2"/><rect x="1550" y="1449" width="2" height="2"/><rect x="1554" y="1449" width="2" height="2"/><rect x="1559" y="1449" width="2" height="2"/><rect x="1563" y="1449" width="2" height="2"/><rect x="1567" y="1449" width="2" height="2"/><rect x="1571" y="1449" width="2" height="2.8"/><rect x="1575" y="1449" width="2" height="3.3"/><rect x="1580" y="1449" width="2" height="3.7"/><rect x="1656" y="1449" width="2" height="2"/><rect x="1660" y="1449" width="2" height="2"/><rect x="1669" y="1449" width="2" height="2"/><rect x="1791" y="1449" width="2" height="2"/><rect x="1796" y="1449" width="2" height="2"/><rect x="1800" y="1449" width="2" height="2.9"/><rect x="1804" y="1449" width="2" height="3.3"/><rect x="1812" y="1449" width="2" height="3.3"/><rect x="1817" y="1449" width="2" height="3.8"/><rect x="1825" y="1449" width="2" height="3.5"/><rect x="1846" y="1449" width="2" height="2"/><rect x="1863" y="1449" width="2" height="2"/><rect x="1868" y="1449" width="2" height="2"/><rect x="1872" y="1449" width="2" height="2.2"/><rect x="1876" y="1449" width="2" height="3"/><rect x="1880" y="1449" width="2" height="3.5"/><rect x="1889" y="1449" width="2" height="3.3"/><rect x="1893" y="1449" width="2" height="3.8"/><rect x="1897" y="1449" width="2" height="4.8"/><rect x="2088" y="1449" width="2" height="2"/><rect x="2092" y="1449" width="2" height="2"/><rect x="2096" y="1449" width="2" height="2"/><rect x="2105" y="1449" width="2" height="2"/><rect x="2113" y="1449" width="2" height="2"/><rect x="2126" y="1449" width="2" height="2"/><rect x="2160" y="1449" width="2" height="2"/><rect x="2168" y="1449" width="2" height="2"/><rect x="2172" y="1449" width="2" height="2"/><rect x="2177" y="1449" width="2" height="2.2"/><rect x="2185" y="1449" width="2" height="2.2"/></g>
<g fill="none" stroke-linejoin="round" stroke-width="2.3">
<path d="M14.5 1464.8 L18.7 1468.5 L23 1471.1 L27.2 1472.1 L31.4 1471.9 L35.7 1472.1 L39.9 1471.3 L44.1 1465.1 L48.4 1459.5 L52.6 1453.5 L56.8 1448.4 L61.1 1443.2 L65.3 1433.4 L69.5 1426.2 L73.8 1423.6 L78 1418.9 L82.2 1416.9 L86.5 1416 L90.7 1414.2 L94.9 1411.4 L99.2 1406.3 L103.4 1403.8 L107.6 1402.4 L111.9 1403.6 L116.1 1406 L120.3 1407.5 L124.6 1408.5 L128.8 1409.5 L133 1410.7 L137.3 1411.2 L141.5 1413.9 L145.7 1418.8 L150 1423.3 L154.2 1425.9 L158.4 1428.9 L162.7 1430.3 L166.9 1430.6 L171.1 1432.6 L175.4 1434.2 L179.6 1436.1 L183.8 1437.6 L188.1 1438.5 L192.3 1439 L196.5 1438.4 L200.8 1437.3 L205 1436.5 L209.2 1436.5 L213.5 1436.2 L217.7 1437.7 L221.9 1439.7 L226.2 1441.6 L230.4 1442.5 L234.6 1442.7 L238.9 1442.8 L243.1 1443.4 L247.3 1444.7 L251.6 1444.8 L255.8 1446.2 L260 1446.7 L264.3 1449.1 L268.5 1451.4 L272.7 1451.8 L277 1452.6 L281.2 1453.2 L285.4 1453.5 L289.7 1456.2 L293.9 1460.3 L298.1 1464 L302.3 1465.9 L306.6 1468.5 L310.8 1470.1 L315 1470.2 L319.3 1471.6 L323.5 1476.7 L327.7 1480.5 L332 1485 L336.2 1488.2 L340.4 1490.6 L344.7 1489 L348.9 1486.9 L353.1 1485.9 L357.4 1486 L361.6 1485.6 L365.8 1490.6 L370.1 1491.5 L374.3 1495.9 L378.5 1498.4 L382.8 1506 L387 1513 L391.2 1518.4 L395.5 1524.8 L399.7 1526.8 L403.9 1531.2 L408.2 1533.1 L412.4 1534.6 L416.6 1541.5 L420.9 1545.7 L425.1 1542.1 L429.3 1542.4 L433.6 1542.2 L437.8 1541.9 L442 1539.2 L446.3 1536 L450.5 1531.4 L454.7 1527.9 L459 1525.4 L463.2 1523.2 L467.4 1518.8 L471.7 1506.1 L475.9 1494 L480.1 1486.5 L484.4 1479.9 L488.6 1472.3 L492.8 1464.8 L497.1 1456 L501.3 1449 L505.5 1446.6 L509.8 1450.4 L514 1449.2 L518.2 1451.2 L522.5 1453.3 L526.7 1455.9 L530.9 1456.5 L535.2 1457.9 L539.4 1459.1 L543.6 1460.9 L547.9 1462.1 L552.1 1462.7 L556.3 1464.2 L560.6 1463.8 L564.8 1464.2 L569 1464.1 L573.3 1464.6 L577.5 1464.9 L581.7 1464.5 L585.9 1464.2 L590.2 1463.8 L594.4 1463.7 L598.6 1465.6 L602.9 1465.9 L607.1 1464.3 L611.3 1463.4 L615.6 1462.2 L619.8 1462.4 L624 1462.6 L628.3 1462.8 L632.5 1462.7 L636.7 1462.6 L641 1461.9 L645.2 1460.2 L649.4 1458.2 L653.7 1456.8 L657.9 1456.4 L662.1 1456 L666.4 1456.1 L670.6 1457 L674.8 1461.4 L679.1 1467.1 L683.3 1472.5 L687.5 1475.3 L691.8 1477.6 L696 1480.3 L700.2 1484.2 L704.5 1487.1 L708.7 1491.3 L712.9 1487.5 L717.2 1485.3 L721.4 1483.5 L725.6 1481.3 L729.9 1480.2 L734.1 1480.7 L738.3 1479.9 L742.6 1479.5 L746.8 1477.9 L751 1475.5 L755.3 1473.4 L759.5 1469.4 L763.7 1467.5 L768 1466.5 L772.2 1466.2 L776.4 1465.5 L780.7 1464.6 L784.9 1463.4 L789.1 1462.6 L793.4 1461.1 L797.6 1460 L801.8 1458.4 L806.1 1457.8 L810.3 1457.1 L814.5 1456.2 L818.8 1455.1 L823 1453.5 L827.2 1453 L831.5 1451.8 L835.7 1450.5 L839.9 1448 L844.2 1447.1 L848.4 1446.1 L852.6 1444.7 L856.9 1444 L861.1 1442.4 L865.3 1442 L869.6 1442.2 L873.8 1441.9 L878 1441.7 L882.2 1441.8 L886.5 1442.2 L890.7 1442.5 L894.9 1443 L899.2 1444.9 L903.4 1445.8 L907.6 1446.2 L911.9 1446.7 L916.1 1447.8 L920.3 1449.1 L924.6 1449.6 L928.8 1450.4 L933 1451.2 L937.3 1451.6 L941.5 1451.9 L945.7 1452.5 L950 1452.7 L954.2 1452.6 L958.4 1452.5 L962.7 1452.4 L966.9 1450.9 L971.1 1450.6 L975.4 1449.8 L979.6 1449.7 L983.8 1448.6 L988.1 1447.6 L992.3 1446.7 L996.5 1445.3 L1000.8 1445.5 L1005 1445.4 L1009.2 1445.8 L1013.5 1445.4 L1017.7 1445.7 L1021.9 1445.8 L1026.2 1446.1 L1030.4 1445.6 L1034.6 1445.1 L1038.9 1445.9 L1043.1 1446.6 L1047.3 1446.8 L1051.6 1446.6 L1055.8 1445.8 L1060 1446.1 L1064.3 1446.9 L1068.5 1447.3 L1072.7 1448.2 L1077 1449.1 L1081.2 1449.4 L1085.4 1449.7 L1089.7 1450 L1093.9 1450.1 L1098.1 1450 L1102.4 1450 L1106.6 1449.8 L1110.8 1449 L1115.1 1446.5 L1119.3 1444.7 L1123.5 1443.1 L1127.8 1442 L1132 1441 L1136.2 1438.7 L1140.5 1434.8 L1144.7 1431.1 L1148.9 1427.9 L1153.2 1423.5 L1157.4 1413.5 L1161.6 1409.8 L1165.9 1406.4 L1170.1 1402.5 L1174.3 1403 L1178.5 1403 L1182.8 1404.8 L1187 1406.7 L1191.2 1411.2 L1195.5 1415 L1199.7 1416.2 L1203.9 1416.3 L1208.2 1417.1 L1212.4 1418.8 L1216.6 1421.7 L1220.9 1424.4 L1225.1 1427.1 L1229.3 1429.8 L1233.6 1430.3 L1237.8 1432.1 L1242 1432.4 L1246.3 1434.1 L1250.5 1434.9 L1254.7 1435.7 L1259 1435.7 L1263.2 1435.4 L1267.4 1435.9 L1271.7 1436.5 L1275.9 1436.3 L1280.1 1435.3 L1284.4 1436 L1288.6 1435.6 L1292.8 1435.5 L1297.1 1432.3 L1301.3 1430.6 L1305.5 1430.1 L1309.8 1433.4 L1314 1434.8 L1318.2 1436.7 L1322.5 1439.1 L1326.7 1442.4 L1330.9 1444.6 L1335.2 1446.4 L1339.4 1449.1 L1343.6 1455.3 L1347.9 1459.4 L1352.1 1462.3 L1356.3 1462.8 L1360.6 1464.2 L1364.8 1465.9 L1369 1468.5 L1373.3 1468.7 L1377.5 1469 L1381.7 1468 L1386 1466.3 L1390.2 1465.5 L1394.4 1462 L1398.7 1459 L1402.9 1456.5 L1407.1 1455.1 L1411.4 1454.6 L1415.6 1455.8 L1419.8 1456.1 L1424.1 1454.6 L1428.3 1454.2 L1432.5 1452.9 L1436.8 1452.7 L1441 1452.5 L1445.2 1452.2 L1449.5 1452 L1453.7 1451.1 L1457.9 1450.5 L1462.1 1449.8 L1466.4 1449 L1470.6 1448.5 L1474.8 1448 L1479.1 1447.2 L1483.3 1446 L1487.5 1445.4 L1491.8 1446.6 L1496 1447.8 L1500.2 1448.2 L1504.5 1448.1 L1508.7 1448.7 L1512.9 1448.8 L1517.2 1448.7 L1521.4 1448.7 L1525.6 1448.8 L1529.9 1448.7 L1534.1 1449.1 L1538.3 1449 L1542.6 1448.7 L1546.8 1448.7 L1551 1449.6 L1555.3 1449.8 L1559.5 1450 L1563.7 1450.4 L1568 1450.9 L1572.2 1453.3 L1576.4 1454.6 L1580.7 1455.9 L1584.9 1456.1 L1589.1 1456.2 L1593.4 1455.9 L1597.6 1455.9 L1601.8 1456 L1606.1 1455.6 L1610.3 1454.7 L1614.5 1453.1 L1618.8 1452.4 L1623 1451.6 L1627.2 1451.5 L1631.5 1451.4 L1635.7 1451.9 L1639.9 1452.2 L1644.2 1451.6 L1648.4 1451.7 L1652.6 1452.2 L1656.9 1453.1 L1661.1 1454.1 L1665.3 1454.2 L1669.6 1454.6 L1673.8 1454.3 L1678 1454 L1682.3 1454 L1686.5 1453.1 L1690.7 1452.7 L1695 1452.3 L1699.2 1452.7 L1703.4 1452.6 L1707.7 1452.1 L1711.9 1450.4 L1716.1 1449.6 L1720.4 1448.8 L1724.6 1448.2 L1728.8 1448.5 L1733.1 1448.3 L1737.3 1448.1 L1741.5 1447.6 L1745.8 1446.6 L1750 1445.5 L1754.2 1440.8 L1758.4 1439.2 L1762.7 1438.4 L1766.9 1438.1 L1771.1 1437.3 L1775.4 1436.8 L1779.6 1436.9 L1783.8 1437.8 L1788.1 1438.1 L1792.3 1439.7 L1796.5 1440.9 L1800.8 1443.2 L1805 1444.4 L1809.2 1444.5 L1813.5 1446 L1817.7 1447.4 L1821.9 1447.9 L1826.2 1448.9 L1830.4 1449.1 L1834.6 1449 L1838.9 1448.6 L1843.1 1448.1 L1847.3 1448.3 L1851.6 1448 L1855.8 1447.7 L1860 1447.4 L1864.3 1448.7 L1868.5 1449.8 L1872.7 1451 L1877 1452.5 L1881.2 1453.8 L1885.4 1454.3 L1889.7 1455.3 L1893.9 1456.7 L1898.1 1458.9 L1902.4 1459.2 L1906.6 1459.3 L1910.8 1459.8 L1915.1 1460 L1919.3 1459.1 L1923.5 1458.2 L1927.8 1457.1 L1932 1456.3 L1936.2 1455.2 L1940.5 1454.6 L1944.7 1454.1 L1948.9 1453.2 L1953.2 1452.4 L1957.4 1451.5 L1961.6 1450.6 L1965.9 1450.8 L1970.1 1451.6 L1974.3 1451.9 L1978.6 1451.9 L1982.8 1451.7 L1987 1451.4 L1991.3 1451.3 L1995.5 1451.2 L1999.7 1451.1 L2004 1450.6 L2008.2 1450 L2012.4 1449.6 L2016.7 1449.5 L2020.9 1449 L2025.1 1449 L2029.4 1449.2 L2033.6 1449.1 L2037.8 1449.5 L2042.1 1449.6 L2046.3 1449.5 L2050.5 1448.8 L2054.7 1448.1 L2059 1447.6 L2063.2 1447.3 L2067.4 1447.6 L2071.7 1447.8 L2075.9 1447.6 L2080.1 1447.4 L2084.4 1447.7 L2088.6 1448.2 L2092.8 1448.7 L2097.1 1449.7 L2101.3 1450 L2105.5 1451.1 L2109.8 1451.3 L2114 1451.7 L2118.2 1452.1 L2122.5 1452.3 L2126.7 1452.8 L2130.9 1453.1 L2135.2 1452.9 L2139.4 1452.6 L2143.6 1452.3 L2147.9 1451.9 L2152.1 1451.9 L2156.3 1451.9 L2160.6 1452.2 L2164.8 1452.1 L2169 1453 L2173.3 1454.2 L2177.5 1455.4 L2181.7 1455.8 L2186 1456.4 L2190.2 1456.3 L2194.4 1456 L2198.7 1456.2 L2202.9 1456 L2207.1 1455.4" stroke="#2196F3"/>
<path d="M14.5 1463.3 L18.7 1464.3 L23 1465.7 L27.2 1466.9 L31.4 1467.9 L35.7 1468.8 L39.9 1469.3 L44.1 1468.4 L48.4 1466.7 L52.6 1464 L56.8 1460.9 L61.1 1457.4 L65.3 1452.6 L69.5 1447.3 L73.8 1442.6 L78 1437.8 L82.2 1433.6 L86.5 1430.1 L90.7 1426.9 L94.9 1423.8 L99.2 1420.3 L103.4 1417 L107.6 1414.1 L111.9 1412 L116.1 1410.8 L120.3 1410.1 L124.6 1409.8 L128.8 1409.7 L133 1409.9 L137.3 1410.2 L141.5 1410.9 L145.7 1412.5 L150 1414.7 L154.2 1416.9 L158.4 1419.3 L162.7 1421.5 L166.9 1423.3 L171.1 1425.2 L175.4 1427 L179.6 1428.8 L183.8 1430.6 L188.1 1432.1 L192.3 1433.5 L196.5 1434.5 L200.8 1435.1 L205 1435.3 L209.2 1435.6 L213.5 1435.7 L217.7 1436.1 L221.9 1436.8 L226.2 1437.8 L230.4 1438.7 L234.6 1439.5 L238.9 1440.2 L243.1 1440.8 L247.3 1441.6 L251.6 1442.3 L255.8 1443 L260 1443.8 L264.3 1444.8 L268.5 1446.1 L272.7 1447.3 L277 1448.4 L281.2 1449.3 L285.4 1450.2 L289.7 1451.4 L293.9 1453.1 L298.1 1455.3 L302.3 1457.4 L306.6 1459.7 L310.8 1461.8 L315 1463.4 L319.3 1465.1 L323.5 1467.4 L327.7 1470 L332 1473 L336.2 1476.1 L340.4 1479 L344.7 1481 L348.9 1482.2 L353.1 1482.9 L357.4 1483.5 L361.6 1483.9 L365.8 1485.3 L370.1 1486.5 L374.3 1488.4 L378.5 1490.4 L382.8 1493.5 L387 1497.4 L391.2 1501.6 L395.5 1506.3 L399.7 1510.4 L403.9 1514.5 L408.2 1518.2 L412.4 1521.5 L416.6 1525.5 L420.9 1529.6 L425.1 1532.1 L429.3 1534.1 L433.6 1535.7 L437.8 1537 L442 1537.4 L446.3 1537.1 L450.5 1536 L454.7 1534.4 L459 1532.6 L463.2 1530.7 L467.4 1528.3 L471.7 1523.9 L475.9 1517.9 L480.1 1511.6 L484.4 1505.3 L488.6 1498.7 L492.8 1491.9 L497.1 1484.7 L501.3 1477.6 L505.5 1471.4 L509.8 1467.2 L514 1463.6 L518.2 1461.1 L522.5 1459.5 L526.7 1458.8 L530.9 1458.3 L535.2 1458.3 L539.4 1458.4 L543.6 1458.9 L547.9 1459.6 L552.1 1460.2 L556.3 1461 L560.6 1461.5 L564.8 1462.1 L569 1462.5 L573.3 1462.9 L577.5 1463.3 L581.7 1463.6 L585.9 1463.7 L590.2 1463.7 L594.4 1463.7 L598.6 1464.1 L602.9 1464.5 L607.1 1464.4 L611.3 1464.2 L615.6 1463.8 L619.8 1463.5 L624 1463.4 L628.3 1463.2 L632.5 1463.1 L636.7 1463 L641 1462.8 L645.2 1462.3 L649.4 1461.5 L653.7 1460.5 L657.9 1459.7 L662.1 1459 L666.4 1458.4 L670.6 1458.1 L674.8 1458.8 L679.1 1460.4 L683.3 1462.8 L687.5 1465.3 L691.8 1467.8 L696 1470.3 L700.2 1473.1 L704.5 1475.9 L708.7 1479 L712.9 1480.7 L717.2 1481.6 L721.4 1482 L725.6 1481.8 L729.9 1481.5 L734.1 1481.4 L738.3 1481.1 L742.6 1480.7 L746.8 1480.2 L751 1479.2 L755.3 1478.1 L759.5 1476.3 L763.7 1474.6 L768 1473 L772.2 1471.6 L776.4 1470.4 L780.7 1469.2 L784.9 1468.1 L789.1 1467 L793.4 1465.8 L797.6 1464.6 L801.8 1463.4 L806.1 1462.3 L810.3 1461.2 L814.5 1460.2 L818.8 1459.2 L823 1458.1 L827.2 1457.1 L831.5 1456 L835.7 1454.9 L839.9 1453.5 L844.2 1452.2 L848.4 1451 L852.6 1449.8 L856.9 1448.6 L861.1 1447.4 L865.3 1446.3 L869.6 1445.5 L873.8 1444.8 L878 1444.1 L882.2 1443.7 L886.5 1443.4 L890.7 1443.2 L894.9 1443.2 L899.2 1443.5 L903.4 1444 L907.6 1444.4 L911.9 1444.9 L916.1 1445.5 L920.3 1446.2 L924.6 1446.9 L928.8 1447.6 L933 1448.3 L937.3 1449 L941.5 1449.5 L945.7 1450.1 L950 1450.7 L954.2 1451.1 L958.4 1451.3 L962.7 1451.5 L966.9 1451.4 L971.1 1451.2 L975.4 1451 L979.6 1450.7 L983.8 1450.3 L988.1 1449.8 L992.3 1449.2 L996.5 1448.4 L1000.8 1447.8 L1005 1447.3 L1009.2 1447 L1013.5 1446.7 L1017.7 1446.5 L1021.9 1446.4 L1026.2 1446.3 L1030.4 1446.2 L1034.6 1446 L1038.9 1446 L1043.1 1446.1 L1047.3 1446.2 L1051.6 1446.3 L1055.8 1446.2 L1060 1446.2 L1064.3 1446.3 L1068.5 1446.5 L1072.7 1446.9 L1077 1447.3 L1081.2 1447.7 L1085.4 1448.1 L1089.7 1448.5 L1093.9 1448.8 L1098.1 1449 L1102.4 1449.2 L1106.6 1449.3 L1110.8 1449.3 L1115.1 1448.7 L1119.3 1447.9 L1123.5 1447 L1127.8 1446 L1132 1445 L1136.2 1443.7 L1140.5 1441.9 L1144.7 1439.8 L1148.9 1437.4 L1153.2 1434.6 L1157.4 1430.4 L1161.6 1426.3 L1165.9 1422.3 L1170.1 1418.3 L1174.3 1415.3 L1178.5 1412.8 L1182.8 1411.2 L1187 1410.3 L1191.2 1410.5 L1195.5 1411.4 L1199.7 1412.4 L1203.9 1413.1 L1208.2 1413.9 L1212.4 1414.9 L1216.6 1416.3 L1220.9 1417.9 L1225.1 1419.7 L1229.3 1421.7 L1233.6 1423.4 L1237.8 1425.2 L1242 1426.6 L1246.3 1428.1 L1250.5 1429.5 L1254.7 1430.7 L1259 1431.7 L1263.2 1432.5 L1267.4 1433.1 L1271.7 1433.8 L1275.9 1434.3 L1280.1 1434.5 L1284.4 1434.8 L1288.6 1435 L1292.8 1435.1 L1297.1 1434.5 L1301.3 1433.7 L1305.5 1433 L1309.8 1433.1 L1314 1433.4 L1318.2 1434.1 L1322.5 1435.1 L1326.7 1436.6 L1330.9 1438.2 L1335.2 1439.8 L1339.4 1441.7 L1343.6 1444.4 L1347.9 1447.4 L1352.1 1450.4 L1356.3 1452.9 L1360.6 1455.1 L1364.8 1457.3 L1369 1459.5 L1373.3 1461.4 L1377.5 1462.9 L1381.7 1463.9 L1386 1464.4 L1390.2 1464.6 L1394.4 1464.1 L1398.7 1463.1 L1402.9 1461.8 L1407.1 1460.4 L1411.4 1459.3 L1415.6 1458.6 L1419.8 1458.1 L1424.1 1457.4 L1428.3 1456.7 L1432.5 1456 L1436.8 1455.3 L1441 1454.7 L1445.2 1454.2 L1449.5 1453.8 L1453.7 1453.3 L1457.9 1452.7 L1462.1 1452.1 L1466.4 1451.5 L1470.6 1450.9 L1474.8 1450.3 L1479.1 1449.7 L1483.3 1449 L1487.5 1448.2 L1491.8 1447.9 L1496 1447.9 L1500.2 1447.9 L1504.5 1448 L1508.7 1448.1 L1512.9 1448.2 L1517.2 1448.3 L1521.4 1448.4 L1525.6 1448.5 L1529.9 1448.5 L1534.1 1448.6 L1538.3 1448.7 L1542.6 1448.7 L1546.8 1448.7 L1551 1448.9 L1555.3 1449 L1559.5 1449.2 L1563.7 1449.5 L1568 1449.8 L1572.2 1450.5 L1576.4 1451.3 L1580.7 1452.2 L1584.9 1453 L1589.1 1453.6 L1593.4 1454.1 L1597.6 1454.4 L1601.8 1454.8 L1606.1 1454.9 L1610.3 1454.9 L1614.5 1454.5 L1618.8 1454.1 L1623 1453.6 L1627.2 1453.2 L1631.5 1452.8 L1635.7 1452.6 L1639.9 1452.6 L1644.2 1452.4 L1648.4 1452.2 L1652.6 1452.2 L1656.9 1452.4 L1661.1 1452.7 L1665.3 1453 L1669.6 1453.3 L1673.8 1453.5 L1678 1453.6 L1682.3 1453.7 L1686.5 1453.6 L1690.7 1453.4 L1695 1453.2 L1699.2 1453.1 L1703.4 1453 L1707.7 1452.8 L1711.9 1452.3 L1716.1 1451.8 L1720.4 1451.2 L1724.6 1450.6 L1728.8 1450.2 L1733.1 1449.8 L1737.3 1449.5 L1741.5 1449.1 L1745.8 1448.6 L1750 1448 L1754.2 1446.5 L1758.4 1445.1 L1762.7 1443.7 L1766.9 1442.6 L1771.1 1441.6 L1775.4 1440.6 L1779.6 1439.9 L1783.8 1439.4 L1788.1 1439.2 L1792.3 1439.3 L1796.5 1439.6 L1800.8 1440.3 L1805 1441.2 L1809.2 1441.8 L1813.5 1442.7 L1817.7 1443.6 L1821.9 1444.5 L1826.2 1445.3 L1830.4 1446.1 L1834.6 1446.7 L1838.9 1447.1 L1843.1 1447.3 L1847.3 1447.5 L1851.6 1447.6 L1855.8 1447.6 L1860 1447.5 L1864.3 1447.8 L1868.5 1448.2 L1872.7 1448.8 L1877 1449.5 L1881.2 1450.4 L1885.4 1451.2 L1889.7 1452 L1893.9 1452.9 L1898.1 1454.1 L1902.4 1455.1 L1906.6 1456 L1910.8 1456.7 L1915.1 1457.4 L1919.3 1457.7 L1923.5 1457.8 L1927.8 1457.7 L1932 1457.4 L1936.2 1457 L1940.5 1456.5 L1944.7 1456 L1948.9 1455.5 L1953.2 1454.8 L1957.4 1454.2 L1961.6 1453.5 L1965.9 1452.9 L1970.1 1452.7 L1974.3 1452.5 L1978.6 1452.4 L1982.8 1452.3 L1987 1452.1 L1991.3 1451.9 L1995.5 1451.8 L1999.7 1451.7 L2004 1451.4 L2008.2 1451.2 L2012.4 1450.8 L2016.7 1450.6 L2020.9 1450.3 L2025.1 1450 L2029.4 1449.9 L2033.6 1449.7 L2037.8 1449.7 L2042.1 1449.7 L2046.3 1449.6 L2050.5 1449.5 L2054.7 1449.2 L2059 1448.9 L2063.2 1448.6 L2067.4 1448.4 L2071.7 1448.3 L2075.9 1448.1 L2080.1 1448 L2084.4 1447.9 L2088.6 1448 L2092.8 1448.1 L2097.1 1448.4 L2101.3 1448.8 L2105.5 1449.2 L2109.8 1449.6 L2114 1450.1 L2118.2 1450.5 L2122.5 1450.8 L2126.7 1451.2 L2130.9 1451.6 L2135.2 1451.9 L2139.4 1452 L2143.6 1452.1 L2147.9 1452 L2152.1 1452 L2156.3 1452 L2160.6 1452 L2164.8 1452 L2169 1452.2 L2173.3 1452.6 L2177.5 1453.2 L2181.7 1453.7 L2186 1454.2 L2190.2 1454.7 L2194.4 1454.9 L2198.7 1455.2 L2202.9 1455.3 L2207.1 1455.3" stroke="#FF6D00"/>
</g></g>
<g fill="#434343"><rect x="12" y="86" width="2564" height="2"/><rect x="12" y="1610" width="2564" height="2"/><rect x="12" y="86" width="2" height="1526"/><rect x="2574" y="86" width="2" height="1526"/><rect x="2450" y="86" width="2" height="1526"/><rect x="12" y="1202" width="2564" height="2"/><rect x="12" y="1393" width="2564" height="2"/><rect x="12" y="1556" width="2564" height="2"/></g>
<g fill="#434343"><rect x="2452" y="176" width="8" height="2"/><rect x="2452" y="275.3" width="8" height="2"/><rect x="2452" y="374.6" width="8" height="2"/><rect x="2452" y="573.2" width="8" height="2"/><rect x="2452" y="672.5" width="8" height="2"/><rect x="2452" y="771.8" width="8" height="2"/><rect x="2452" y="871.1" width="8" height="2"/><rect x="2452" y="1069.7" width="8" height="2"/><rect x="2452" y="1169" width="8" height="2"/><rect x="2452" y="1246.2" width="8" height="2"/><rect x="2452" y="1313.4" width="8" height="2"/><rect x="2452" y="1380.6" width="8" height="2"/><rect x="2452" y="1447.4" width="8" height="2"/><rect x="2452" y="1536" width="8" height="2"/><rect x="267" y="1558" width="2" height="6"/><rect x="420" y="1558" width="2" height="6"/><rect x="623" y="1558" width="2" height="6"/><rect x="826" y="1558" width="2" height="6"/><rect x="979" y="1558" width="2" height="6"/><rect x="1131" y="1558" width="2" height="6"/><rect x="1334" y="1558" width="2" height="6"/><rect x="1487" y="1558" width="2" height="6"/><rect x="1690" y="1558" width="2" height="6"/><rect x="1842" y="1558" width="2" height="6"/><rect x="2045" y="1558" width="2" height="6"/><rect x="2198" y="1558" width="2" height="6"/><rect x="2401" y="1558" width="2" height="6"/><rect x="14" y="1558" width="2" height="6"/></g>
<g fill="#555555" font-size="22"><text x="2468" y="185" textLength="54" lengthAdjust="spacingAndGlyphs">0.650</text><text x="2468" y="284.3" textLength="54" lengthAdjust="spacingAndGlyphs">0.600</text><text x="2468" y="383.6" textLength="54" lengthAdjust="spacingAndGlyphs">0.550</text><text x="2468" y="582.2" textLength="54" lengthAdjust="spacingAndGlyphs">0.450</text><text x="2468" y="681.5" textLength="54" lengthAdjust="spacingAndGlyphs">0.400</text><text x="2468" y="780.8" textLength="54" lengthAdjust="spacingAndGlyphs">0.350</text><text x="2468" y="880.1" textLength="54" lengthAdjust="spacingAndGlyphs">0.300</text><text x="2468" y="1078.7" textLength="54" lengthAdjust="spacingAndGlyphs">0.200</text><text x="2468" y="1178" textLength="54" lengthAdjust="spacingAndGlyphs">0.150</text><text x="2468" y="1255.2" textLength="54" lengthAdjust="spacingAndGlyphs">80.00</text><text x="2468" y="1322.4" textLength="54" lengthAdjust="spacingAndGlyphs">40.00</text><text x="2468" y="1389.6" textLength="42" lengthAdjust="spacingAndGlyphs">0.00</text><text x="2468" y="1456.4" textLength="54" lengthAdjust="spacingAndGlyphs">0.000</text><text x="2469" y="1545" textLength="64" lengthAdjust="spacingAndGlyphs">−0.050</text><text x="268" y="1594" text-anchor="middle">21</text><text x="421" y="1594" text-anchor="middle">24</text><text x="624" y="1594" text-anchor="middle">28</text><text x="827" y="1594" text-anchor="middle" font-weight="bold">2021</text><text x="980" y="1594" text-anchor="middle">4</text><text x="1132" y="1594" text-anchor="middle">7</text><text x="1335" y="1594" text-anchor="middle">11</text><text x="1488" y="1594" text-anchor="middle">14</text><text x="1691" y="1594" text-anchor="middle">18</text><text x="1843" y="1594" text-anchor="middle">21</text><text x="2046" y="1594" text-anchor="middle">25</text><text x="2199" y="1594" text-anchor="middle">28</text><text x="2402" y="1594" text-anchor="middle">Feb</text><text x="15" y="1594">6</text></g>
<rect x="2483" y="102" width="58" height="35" rx="8" ry="8" fill="#fff" stroke="#C9CDD8" stroke-width="2"/>
<text x="2493.2" y="127" font-size="22.5" textLength="37.2" lengthAdjust="spacingAndGlyphs" fill="#555555">USD</text>
<rect x="2450" y="459" width="90" height="34" fill="#387A1E"/>
<rect x="2450" y="475" width="8" height="2" fill="#fff"/>
<text x="2468" y="483.3" font-size="22.6" fill="#fff" textLength="54" lengthAdjust="spacingAndGlyphs">0.500</text>
<rect x="2450" y="835" width="90" height="34" fill="#FF9800"/>
<rect x="2450" y="851" width="8" height="2" fill="#000"/>
<text x="2468" y="859.3" font-size="22.6" fill="#000" textLength="54" lengthAdjust="spacingAndGlyphs">0.310</text>
<rect x="2450" y="894" width="90" height="34" fill="#9900FF"/>
<rect x="2450" y="910" width="8" height="2" fill="#fff"/>
<text x="2468" y="918.3" font-size="22.6" fill="#fff" textLength="54" lengthAdjust="spacingAndGlyphs">0.280</text>
<rect x="2450" y="928" width="90" height="34" fill="#FF0000"/>
<rect x="2450" y="944" width="8" height="2" fill="#fff"/>
<text x="2468" y="952.3" font-size="22.6" fill="#fff" textLength="54" lengthAdjust="spacingAndGlyphs">0.274</text>
<rect x="2450" y="962" width="90" height="34" fill="#4985E7"/>
<rect x="2450" y="978" width="8" height="2" fill="#fff"/>
<text x="2468" y="986.3" font-size="22.6" fill="#fff" textLength="54" lengthAdjust="spacingAndGlyphs">0.260</text>
<rect x="2450" y="996" width="90" height="34" fill="#53B987"/>
<rect x="2450" y="1012" width="8" height="2" fill="#000"/>
<text x="2468" y="1020.3" font-size="22.6" fill="#000" textLength="54" lengthAdjust="spacingAndGlyphs">0.256</text>
<rect x="2450" y="1030" width="90" height="34" fill="#0000FF"/>
<rect x="2450" y="1046" width="8" height="2" fill="#fff"/>
<text x="2468" y="1054.3" font-size="22.6" fill="#fff" textLength="54" lengthAdjust="spacingAndGlyphs">0.213</text>
<rect x="2450" y="1113" width="90" height="34" fill="#0000FF"/>
<rect x="2450" y="1129" width="8" height="2" fill="#fff"/>
<text x="2468" y="1137.3" font-size="22.6" fill="#fff" textLength="54" lengthAdjust="spacingAndGlyphs">0.170</text>
<text x="13" y="32.6" font-size="24.6" fill="#131722" textLength="66" lengthAdjust="spacingAndGlyphs" font-weight="bold">FilFox</text>
<text x="87" y="32.6" font-size="24.6" fill="#131722" textLength="708.5" lengthAdjust="spacingAndGlyphs">published on TradingView.com, January 28, 2021 06:28:01 +03</text>
<text x="13" y="66.8" font-size="24.6" fill="#131722" textLength="276" lengthAdjust="spacingAndGlyphs" font-weight="bold">BITSTAMP:XRPUSD, 120</text>
<text x="300.8" y="66.8" font-size="24.6" fill="#131722" textLength="61" lengthAdjust="spacingAndGlyphs">0.256</text>
<path d="M368.9 66.9 L379 47.1 L389.1 66.9 Z" fill="#26A69A"/>
<text x="397.7" y="66.8" font-size="24.6" fill="#131722" textLength="181.3" lengthAdjust="spacingAndGlyphs">+0.004 (+1.73%)</text>
<text x="587.4" y="66.8" font-size="24.6" fill="#131722" textLength="24" lengthAdjust="spacingAndGlyphs" font-weight="bold">O:</text>
<text x="615.5" y="66.8" font-size="24.6" fill="#26A69A" textLength="62.2" lengthAdjust="spacingAndGlyphs">0.253</text>
<text x="687.8" y="66.8" font-size="24.6" fill="#131722" textLength="24" lengthAdjust="spacingAndGlyphs" font-weight="bold">H:</text>
<text x="715.1" y="66.8" font-size="24.6" fill="#26A69A" textLength="62.2" lengthAdjust="spacingAndGlyphs">0.256</text>
<text x="786.6" y="66.8" font-size="24.6" fill="#131722" textLength="19" lengthAdjust="spacingAndGlyphs" font-weight="bold">L:</text>
<text x="808.8" y="66.8" font-size="24.6" fill="#26A69A" textLength="61" lengthAdjust="spacingAndGlyphs">0.253</text>
<text x="879" y="66.8" font-size="24.6" fill="#131722" textLength="21" lengthAdjust="spacingAndGlyphs" font-weight="bold">C:</text>
<text x="903.4" y="66.8" font-size="24.6" fill="#26A69A" textLength="63" lengthAdjust="spacingAndGlyphs">0.256</text>
<path d="M20.6 1662.9 A9.68 9.68 0 0 1 21.9 1643.6 A12.35 12.35 0 0 1 46.2 1642.4 A8.2 8.2 0 0 1 59.1 1649.6 A7 7 0 0 1 57.3 1662.9 Z" fill="#2196F3"/><path d="M13.3 1659 L31.8 1644.7 L44.1 1655.9 L57.4 1642.2" fill="none" stroke="#fff" stroke-width="2.2"/><circle cx="31.8" cy="1644.7" r="3.9" fill="#fff"/><circle cx="44.1" cy="1655.9" r="3.9" fill="#fff"/>
<text x="68" y="1656" font-size="25" fill="#131722" textLength="141" lengthAdjust="spacingAndGlyphs">TradingView</text></svg></body></html>
